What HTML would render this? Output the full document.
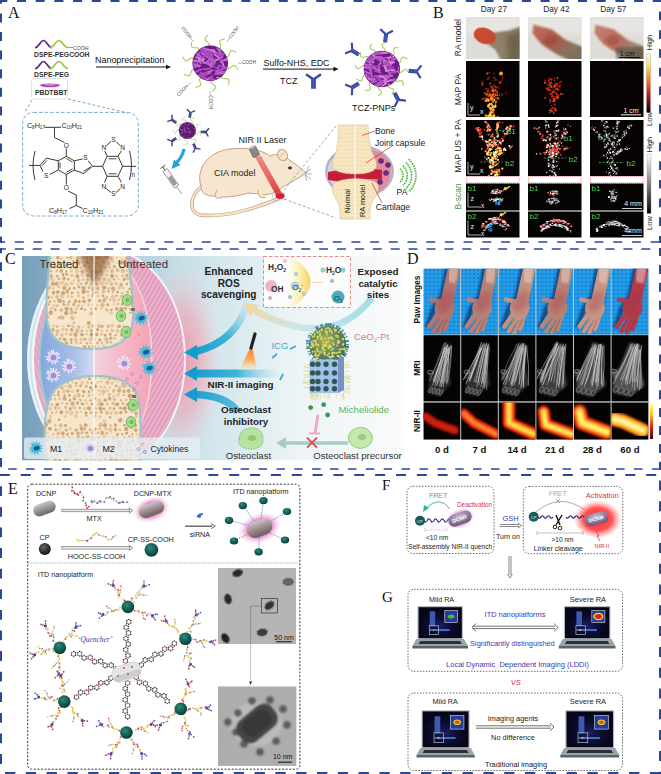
<!DOCTYPE html>
<html><head><meta charset="utf-8"><style>
html,body{margin:0;padding:0;background:#fff;}
body{width:661px;height:774px;overflow:hidden;position:relative;}
svg{position:absolute;left:0;top:0;display:block;}
</style></head><body>
<svg width="661" height="774" viewBox="0 0 661 774">
<defs>
<filter id="blur05" x="-20%" y="-20%" width="140%" height="140%"><feGaussianBlur stdDeviation="0.5"/></filter>
<filter id="blur1" x="-50%" y="-50%" width="200%" height="200%"><feGaussianBlur stdDeviation="1.2"/></filter>
<filter id="blur2" x="-50%" y="-50%" width="200%" height="200%"><feGaussianBlur stdDeviation="2.5"/></filter>
<filter id="blur4" x="-50%" y="-50%" width="200%" height="200%"><feGaussianBlur stdDeviation="4"/></filter>
<filter id="blur8" x="-50%" y="-50%" width="200%" height="200%"><feGaussianBlur stdDeviation="8"/></filter>
<clipPath id="sph41"><circle cx="210.2" cy="63.2" r="17.3"/></clipPath>
<clipPath id="sph42"><circle cx="381.8" cy="69" r="17.7"/></clipPath>
<clipPath id="sphsmall"><circle cx="187.3" cy="130.5" r="8.6"/></clipPath>
<linearGradient id="beam" x1="0" y1="0" x2="0" y2="1"><stop offset="0" stop-color="#e86060" stop-opacity="0.8"/><stop offset="1" stop-color="#d81e1e"/></linearGradient>
<pattern id="bonedots" width="4" height="4" patternUnits="userSpaceOnUse"><rect width="4" height="4" fill="#f8e8c2"/><circle cx="1" cy="1" r="0.45" fill="#b89a5a"/><circle cx="3" cy="2.6" r="0.35" fill="#c8aa6a"/></pattern>
<clipPath id="cph0"><rect x="466" y="17" width="53.5" height="42"/></clipPath>
<clipPath id="cpa0"><rect x="466" y="61" width="53.5" height="56"/></clipPath>
<clipPath id="cpu0"><rect x="466" y="120" width="53.5" height="56"/></clipPath>
<clipPath id="cb10"><rect x="466" y="183.5" width="53.5" height="27"/></clipPath>
<clipPath id="cb20"><rect x="466" y="211.5" width="53.5" height="26"/></clipPath>
<clipPath id="cph1"><rect x="528" y="17" width="53.5" height="42"/></clipPath>
<clipPath id="cpa1"><rect x="528" y="61" width="53.5" height="56"/></clipPath>
<clipPath id="cpu1"><rect x="528" y="120" width="53.5" height="56"/></clipPath>
<clipPath id="cb11"><rect x="528" y="183.5" width="53.5" height="27"/></clipPath>
<clipPath id="cb21"><rect x="528" y="211.5" width="53.5" height="26"/></clipPath>
<clipPath id="cph2"><rect x="590" y="17" width="53.5" height="42"/></clipPath>
<clipPath id="cpa2"><rect x="590" y="61" width="53.5" height="56"/></clipPath>
<clipPath id="cpu2"><rect x="590" y="120" width="53.5" height="56"/></clipPath>
<clipPath id="cb12"><rect x="590" y="183.5" width="53.5" height="27"/></clipPath>
<clipPath id="cb22"><rect x="590" y="211.5" width="53.5" height="26"/></clipPath>
<linearGradient id="pawg2" gradientUnits="objectBoundingBox" x1="0" y1="0" x2="1" y2="1"><stop offset="0" stop-color="#c07060"/><stop offset="0.45" stop-color="#a85a48"/><stop offset="0.7" stop-color="#8a7262"/><stop offset="1" stop-color="#7a6a58"/></linearGradient>
<linearGradient id="pawg3" gradientUnits="objectBoundingBox" x1="0" y1="0" x2="1" y2="1"><stop offset="0" stop-color="#c88478"/><stop offset="0.45" stop-color="#b86a5a"/><stop offset="0.7" stop-color="#9a8a7a"/><stop offset="1" stop-color="#7a6c5a"/></linearGradient>
<linearGradient id="cbhot" x1="0" y1="0" x2="0" y2="1"><stop offset="0" stop-color="#fffbe6"/><stop offset="0.2" stop-color="#f8e060"/><stop offset="0.45" stop-color="#f07828"/><stop offset="0.7" stop-color="#b41e1e"/><stop offset="1" stop-color="#0a0000"/></linearGradient>
<linearGradient id="cbgray" x1="0" y1="0" x2="0" y2="1"><stop offset="0" stop-color="#ffffff"/><stop offset="1" stop-color="#000000"/></linearGradient>
<clipPath id="cC"><rect x="22" y="256" width="382" height="204.5"/></clipPath>
<linearGradient id="cbg" x1="0" y1="0" x2="1" y2="0"><stop offset="0" stop-color="#779dba"/><stop offset="0.08" stop-color="#86abc6"/><stop offset="0.3" stop-color="#b4d2de"/><stop offset="0.5" stop-color="#d2e6ec"/><stop offset="0.72" stop-color="#edf4f6"/><stop offset="1" stop-color="#fafbfb"/></linearGradient>
<radialGradient id="pinkglow" cx="0.5" cy="0.5" r="0.5"><stop offset="0" stop-color="#f48aa0" stop-opacity="0.9"/><stop offset="0.55" stop-color="#f6a6b6" stop-opacity="0.55"/><stop offset="1" stop-color="#fbd0da" stop-opacity="0"/></radialGradient>
<pattern id="fiber" width="5" height="4" patternUnits="userSpaceOnUse" patternTransform="rotate(-60)"><rect width="5" height="4" fill="#f0b0c8"/><path d="M0,2 L5,2" stroke="#c080b0" stroke-width="0.8"/></pattern>
<pattern id="fiberL" width="5" height="4" patternUnits="userSpaceOnUse" patternTransform="rotate(70)"><rect width="5" height="4" fill="#e8b4cc"/><path d="M0,2 L5,2" stroke="#c48cb4" stroke-width="0.7"/></pattern>
<linearGradient id="synL" gradientUnits="userSpaceOnUse" x1="40" y1="0" x2="94" y2="0"><stop offset="0" stop-color="#84a8dc"/><stop offset="0.6" stop-color="#a8bce8"/><stop offset="1" stop-color="#d4dcf2"/></linearGradient>
<linearGradient id="synR" gradientUnits="userSpaceOnUse" x1="94" y1="0" x2="152" y2="0"><stop offset="0" stop-color="#f0d4e0"/><stop offset="0.4" stop-color="#f6bccb"/><stop offset="1" stop-color="#f4a2b6"/></linearGradient>
<clipPath id="cL"><rect x="0" y="250" width="94" height="220"/></clipPath>
<clipPath id="cR"><rect x="94" y="250" width="320" height="220"/></clipPath>
<clipPath id="ctb"><path d="M51,250 L127,250 C127,272 133,292 132,318 C131,342 112,348 92,348 C70,348 50,343 48,318 C46,292 51,272 51,250 Z"/></clipPath>
<clipPath id="cbb"><path d="M47,470 C45,432 44,405 56,390 C68,379 84,377 94,377 C110,377 127,380 135,393 C142,408 139,440 138,470 Z"/></clipPath>
<linearGradient id="arr1" gradientUnits="userSpaceOnUse" x1="250" y1="300" x2="190" y2="352"><stop offset="0" stop-color="#c8e8f0" stop-opacity="0.3"/><stop offset="0.5" stop-color="#40b4d8"/><stop offset="1" stop-color="#149ccc"/></linearGradient>
<linearGradient id="arr2" gradientUnits="userSpaceOnUse" x1="276" y1="0" x2="190" y2="0"><stop offset="0" stop-color="#c8e8f0" stop-opacity="0.4"/><stop offset="0.45" stop-color="#40b4d8"/><stop offset="1" stop-color="#149ccc"/></linearGradient>
<linearGradient id="arr3" gradientUnits="userSpaceOnUse" x1="240" y1="412" x2="190" y2="394"><stop offset="0" stop-color="#60c0e0"/><stop offset="1" stop-color="#149ccc"/></linearGradient>
<linearGradient id="arcg" gradientUnits="userSpaceOnUse" x1="370" y1="0" x2="245" y2="0"><stop offset="0" stop-color="#a8dce6"/><stop offset="0.6" stop-color="#cfe6e8"/><stop offset="1" stop-color="#f0d8a0"/></linearGradient>
<radialGradient id="ygl" cx="0.2" cy="0.5" r="0.8"><stop offset="0" stop-color="#fffdf0"/><stop offset="0.6" stop-color="#faeeb8"/><stop offset="1" stop-color="#f4dc80"/></radialGradient>
<linearGradient id="ygl2" gradientUnits="userSpaceOnUse" x1="284" y1="0" x2="312" y2="0"><stop offset="0" stop-color="#fffbe8" stop-opacity="0"/><stop offset="0.55" stop-color="#fbeeb0"/><stop offset="0.85" stop-color="#f6dc78"/><stop offset="1" stop-color="#eec440"/></linearGradient>
<radialGradient id="npg" cx="0.45" cy="0.4" r="0.6"><stop offset="0" stop-color="#a8b060"/><stop offset="1" stop-color="#3a6a6a"/></radialGradient>
<linearGradient id="flg" x1="0" y1="0" x2="0" y2="1"><stop offset="0" stop-color="#ff6a10"/><stop offset="0.6" stop-color="#ffa040" stop-opacity="0.8"/><stop offset="1" stop-color="#ffe0a0" stop-opacity="0.2"/></linearGradient>
<pattern id="bluedots" width="4" height="4" patternUnits="userSpaceOnUse"><rect width="4" height="4" fill="#229ce8"/><circle cx="2" cy="2" r="0.9" fill="#1478c4"/></pattern>
<clipPath id="cdp0"><rect x="423.6" y="268.7" width="36.6" height="65.80000000000001"/></clipPath>
<clipPath id="cdm0"><rect x="423.6" y="335.2" width="36.6" height="66.10000000000002"/></clipPath>
<clipPath id="cdn0"><rect x="423.6" y="402.6" width="36.6" height="36.89999999999998"/></clipPath>
<clipPath id="cdp1"><rect x="461.2" y="268.7" width="36.6" height="65.80000000000001"/></clipPath>
<clipPath id="cdm1"><rect x="461.2" y="335.2" width="36.6" height="66.10000000000002"/></clipPath>
<clipPath id="cdn1"><rect x="461.2" y="402.6" width="36.6" height="36.89999999999998"/></clipPath>
<clipPath id="cdp2"><rect x="498.8" y="268.7" width="36.6" height="65.80000000000001"/></clipPath>
<clipPath id="cdm2"><rect x="498.8" y="335.2" width="36.6" height="66.10000000000002"/></clipPath>
<clipPath id="cdn2"><rect x="498.8" y="402.6" width="36.6" height="36.89999999999998"/></clipPath>
<clipPath id="cdp3"><rect x="536.4" y="268.7" width="36.6" height="65.80000000000001"/></clipPath>
<clipPath id="cdm3"><rect x="536.4" y="335.2" width="36.6" height="66.10000000000002"/></clipPath>
<clipPath id="cdn3"><rect x="536.4" y="402.6" width="36.6" height="36.89999999999998"/></clipPath>
<clipPath id="cdp4"><rect x="574.0" y="268.7" width="36.6" height="65.80000000000001"/></clipPath>
<clipPath id="cdm4"><rect x="574.0" y="335.2" width="36.6" height="66.10000000000002"/></clipPath>
<clipPath id="cdn4"><rect x="574.0" y="402.6" width="36.6" height="36.89999999999998"/></clipPath>
<clipPath id="cdp5"><rect x="611.6" y="268.7" width="36.6" height="65.80000000000001"/></clipPath>
<clipPath id="cdm5"><rect x="611.6" y="335.2" width="36.6" height="66.10000000000002"/></clipPath>
<clipPath id="cdn5"><rect x="611.6" y="402.6" width="36.6" height="36.89999999999998"/></clipPath>
<linearGradient id="cbnir" x1="0" y1="0" x2="0" y2="1"><stop offset="0" stop-color="#ffffa0"/><stop offset="0.3" stop-color="#ffc828"/><stop offset="0.65" stop-color="#e61e14"/><stop offset="1" stop-color="#500000"/></linearGradient>
<linearGradient id="pillg" x1="0" y1="0" x2="0" y2="1"><stop offset="0" stop-color="#c8c8c8"/><stop offset="0.45" stop-color="#9a9a9a"/><stop offset="1" stop-color="#6a6a6a"/></linearGradient>
<linearGradient id="pillg2" x1="0" y1="0" x2="0" y2="1"><stop offset="0" stop-color="#d0c4c8"/><stop offset="0.45" stop-color="#a09090"/><stop offset="1" stop-color="#6a5e5e"/></linearGradient>
<radialGradient id="halo" cx="0.5" cy="0.5" r="0.5"><stop offset="0.55" stop-color="#e060b8" stop-opacity="0.75"/><stop offset="1" stop-color="#f4b0e0" stop-opacity="0"/></radialGradient>
<radialGradient id="tealb" cx="0.4" cy="0.35" r="0.65"><stop offset="0" stop-color="#2a8a7a"/><stop offset="1" stop-color="#083e38"/></radialGradient>
<radialGradient id="blackb" cx="0.4" cy="0.35" r="0.65"><stop offset="0" stop-color="#666"/><stop offset="1" stop-color="#111"/></radialGradient>
<filter id="temn" x="0" y="0" width="1" height="1"><feTurbulence type="fractalNoise" baseFrequency="0.9" numOctaves="2" seed="4"/><feColorMatrix type="matrix" values="0 0 0 0 0.5  0 0 0 0 0.5  0 0 0 0 0.5  0.33 0.33 0.33 0 -0.2"/></filter>
<clipPath id="ctem2"><rect x="218" y="686.5" width="78.3" height="79.4"/></clipPath>
<radialGradient id="dcnrg" cx="0.5" cy="0.3" r="0.7"><stop offset="0" stop-color="#c8b8d0"/><stop offset="1" stop-color="#6a5878"/></radialGradient>
<radialGradient id="pinkhalo" cx="0.5" cy="0.5" r="0.5"><stop offset="0.5" stop-color="#c868b8" stop-opacity="0.8"/><stop offset="1" stop-color="#e0a0d8" stop-opacity="0"/></radialGradient>
<radialGradient id="redglow" cx="0.5" cy="0.5" r="0.5"><stop offset="0" stop-color="#ff2a2a"/><stop offset="0.6" stop-color="#ff4040" stop-opacity="0.9"/><stop offset="1" stop-color="#ff8080" stop-opacity="0"/></radialGradient>
<radialGradient id="scr417606" cx="0.5" cy="0.6" r="0.6"><stop offset="0" stop-color="#1e2270" stop-opacity="0.9"/><stop offset="1" stop-color="#06061a" stop-opacity="0"/></radialGradient>
<radialGradient id="scr563606" cx="0.5" cy="0.6" r="0.6"><stop offset="0" stop-color="#1e2270" stop-opacity="0.9"/><stop offset="1" stop-color="#06061a" stop-opacity="0"/></radialGradient>
<radialGradient id="scr421710" cx="0.5" cy="0.6" r="0.6"><stop offset="0" stop-color="#1e2270" stop-opacity="0.9"/><stop offset="1" stop-color="#06061a" stop-opacity="0"/></radialGradient>
<radialGradient id="scr565710" cx="0.5" cy="0.6" r="0.6"><stop offset="0" stop-color="#1e2270" stop-opacity="0.9"/><stop offset="1" stop-color="#06061a" stop-opacity="0"/></radialGradient>
</defs>
<line x1="0" y1="1" x2="661" y2="1" stroke="#2a4898" stroke-width="2" stroke-dasharray="9 9.7" stroke-dashoffset="1.7"/>
<line x1="0" y1="242" x2="661" y2="242" stroke="#2a4898" stroke-width="1.7" stroke-dasharray="9 9.7" stroke-dashoffset="3.9"/>
<line x1="1" y1="0" x2="1" y2="243" stroke="#2a4898" stroke-width="2" stroke-dasharray="9 9.6" stroke-dashoffset="5.2"/>
<line x1="660" y1="0" x2="660" y2="243" stroke="#2a4898" stroke-width="2" stroke-dasharray="8.7 10" stroke-dashoffset="7.1"/>
<line x1="0" y1="249" x2="661" y2="249" stroke="#2a4898" stroke-width="1.7" stroke-dasharray="9 8.9" stroke-dashoffset="3.1"/>
<line x1="0" y1="469" x2="661" y2="469" stroke="#2a4898" stroke-width="1.7" stroke-dasharray="8.5 9.38" stroke-dashoffset="9.68"/>
<line x1="1" y1="248" x2="1" y2="470" stroke="#2a4898" stroke-width="2" stroke-dasharray="8.8 9" stroke-dashoffset="3.5"/>
<line x1="660" y1="248" x2="660" y2="470" stroke="#2a4898" stroke-width="2" stroke-dasharray="9 8.9" stroke-dashoffset="1.0"/>
<line x1="0" y1="475" x2="661" y2="475" stroke="#2a4898" stroke-width="1.8" stroke-dasharray="10 10.85" stroke-dashoffset="0.15"/>
<line x1="0" y1="773" x2="661" y2="773" stroke="#2a4898" stroke-width="2" stroke-dasharray="10.3 10.5" stroke-dashoffset="15.8"/>
<line x1="1" y1="474" x2="1" y2="774" stroke="#2a4898" stroke-width="2" stroke-dasharray="9.8 10.8" stroke-dashoffset="8.3"/>
<line x1="660" y1="474" x2="660" y2="774" stroke="#2a4898" stroke-width="2" stroke-dasharray="10 10.8" stroke-dashoffset="14.3"/>
<text x="8" y="18" font-size="16" fill="#111" font-weight="normal" text-anchor="start" font-family='"Liberation Serif", serif'  style="">A</text>
<text x="433" y="18" font-size="16" fill="#111" font-weight="normal" text-anchor="start" font-family='"Liberation Serif", serif'  style="">B</text>
<text x="5" y="264" font-size="16" fill="#111" font-weight="normal" text-anchor="start" font-family='"Liberation Serif", serif'  style="">C</text>
<text x="407" y="263.5" font-size="16" fill="#111" font-weight="normal" text-anchor="start" font-family='"Liberation Serif", serif'  style="">D</text>
<text x="8" y="494" font-size="16" fill="#111" font-weight="normal" text-anchor="start" font-family='"Liberation Serif", serif'  style="">E</text>
<text x="382" y="490" font-size="15" fill="#111" font-weight="normal" text-anchor="start" font-family='"Liberation Serif", serif'  style="">F</text>
<text x="382" y="602" font-size="15" fill="#111" font-weight="normal" text-anchor="start" font-family='"Liberation Serif", serif'  style="">G</text>
<path d="M35,47.5 C39.25,47.5 40.1,40.5 43.5,40.5 C46.9,40.5 47.75,47.5 52,47.5" stroke="#5a2a8a" stroke-width="1.7" fill="none"/>
<path d="M50,47.5 C54.5,47.5 55.4,40.5 59.0,40.5 C62.6,40.5 63.5,47.5 68,47.5" stroke="#96c83c" stroke-width="1.7" fill="none"/>
<path d="M68,47.5 L73,47.5" stroke="#555" stroke-width="0.6"/>
<text x="73" y="49.5" font-size="5.2" fill="#444" font-weight="normal" text-anchor="start" font-family='"Liberation Sans", sans-serif'  style="">COOH</text>
<text x="34" y="56.5" font-size="6.8" fill="#333" font-weight="bold" text-anchor="start" font-family='"Liberation Sans", sans-serif'  style="">DSPE-PEGCOOH</text>
<path d="M35,68.5 C39.25,68.5 40.1,61.5 43.5,61.5 C46.9,61.5 47.75,68.5 52,68.5" stroke="#5a2a8a" stroke-width="1.7" fill="none"/>
<path d="M50,68.5 C54.5,68.5 55.4,61.5 59.0,61.5 C62.6,61.5 63.5,68.5 68,68.5" stroke="#96c83c" stroke-width="1.7" fill="none"/>
<text x="34" y="77" font-size="6.8" fill="#333" font-weight="bold" text-anchor="start" font-family='"Liberation Sans", sans-serif'  style="">DSPE-PEG</text>
<rect x="31.5" y="78.5" width="36" height="20.5" rx="3" fill="none" stroke="#9ab0c0" stroke-width="0.6" stroke-dasharray="1.5 1"/>
<ellipse cx="50" cy="85.3" rx="10" ry="1.9" fill="#b04ab8"/>
<ellipse cx="50" cy="84.8" rx="6" ry="0.8" fill="#d890d8"/>
<text x="35" y="95.3" font-size="6.8" fill="#333" font-weight="bold" text-anchor="start" font-family='"Liberation Sans", sans-serif'  style="">PBDTBBT</text>
<text x="95" y="63" font-size="8.95" fill="#111" font-weight="normal" text-anchor="start" font-family='"Liberation Sans", sans-serif'  style="">Nanoprecipitation</text>
<line x1="96" y1="67" x2="168" y2="67" stroke="#111" stroke-width="1"/>
<polygon points="171,67 166,64.7 166,69.3" fill="#111"/>
<polyline points="226.0,66.0 227.2,67.7 228.6,68.4 230.2,67.8 232.0,66.4 233.7,65.5 235.1,65.8 236.4,67.3 237.6,69.2" stroke="#a8cc60" stroke-width="1.1" fill="none" stroke-linecap="round"/>
<polyline points="221.3,74.7 221.3,76.8 222.0,78.2 223.7,78.7 225.9,78.6 227.9,78.8 228.8,79.9 228.9,81.9 228.8,84.2" stroke="#a8cc60" stroke-width="1.1" fill="none" stroke-linecap="round"/>
<polyline points="212.4,79.0 211.1,80.7 210.9,82.3 212.0,83.6 213.9,84.9 215.3,86.2 215.4,87.7 214.4,89.4 212.9,91.1" stroke="#a8cc60" stroke-width="1.1" fill="none" stroke-linecap="round"/>
<polyline points="202.7,77.3 200.6,77.9 199.5,79.0 199.7,80.8 200.4,82.9 200.8,84.8 200.0,86.1 198.2,86.8 196.0,87.4" stroke="#a8cc60" stroke-width="1.1" fill="none" stroke-linecap="round"/>
<polyline points="195.8,70.2 193.8,69.5 192.3,69.8 191.3,71.2 190.7,73.4 189.9,75.2 188.5,75.8 186.6,75.2 184.5,74.4" stroke="#a8cc60" stroke-width="1.1" fill="none" stroke-linecap="round"/>
<polyline points="194.4,60.4 193.2,58.7 191.8,58.0 190.2,58.6 188.4,60.0 186.7,60.9 185.3,60.6 184.0,59.1 182.8,57.2" stroke="#a8cc60" stroke-width="1.1" fill="none" stroke-linecap="round"/>
<polyline points="199.1,51.7 199.1,49.6 198.4,48.2 196.7,47.7 194.5,47.8 192.5,47.6 191.6,46.5 191.5,44.5 191.6,42.2" stroke="#a8cc60" stroke-width="1.1" fill="none" stroke-linecap="round"/>
<polyline points="208.0,47.4 209.3,45.7 209.5,44.1 208.4,42.8 206.5,41.5 205.1,40.2 205.0,38.7 206.0,37.0 207.5,35.3" stroke="#a8cc60" stroke-width="1.1" fill="none" stroke-linecap="round"/>
<polyline points="217.7,49.1 219.8,48.5 220.9,47.4 220.7,45.6 220.0,43.5 219.6,41.6 220.4,40.3 222.2,39.6 224.4,39.0" stroke="#a8cc60" stroke-width="1.1" fill="none" stroke-linecap="round"/>
<polyline points="224.6,56.2 226.6,56.9 228.1,56.6 229.1,55.2 229.7,53.0 230.5,51.2 231.9,50.6 233.8,51.2 235.9,52.0" stroke="#a8cc60" stroke-width="1.1" fill="none" stroke-linecap="round"/>
<line x1="226.8" y1="41.9" x2="229.9" y2="38.0" stroke="#666" stroke-width="0.5"/>
<text x="0" y="0" transform="translate(229.9,38.0) rotate(-52)" font-size="4.6" fill="#444" text-anchor="start" dominant-baseline="middle" font-family='"Liberation Sans", sans-serif'>COOH</text>
<line x1="238.2" y1="63.2" x2="242.2" y2="63.2" stroke="#666" stroke-width="0.5"/>
<text x="0" y="0" transform="translate(242.2,63.2) rotate(0)" font-size="4.6" fill="#444" text-anchor="start" dominant-baseline="middle" font-family='"Liberation Sans", sans-serif'>COOH</text>
<line x1="210.2" y1="91.2" x2="210.2" y2="95.2" stroke="#666" stroke-width="0.5"/>
<text x="0" y="0" transform="translate(210.2,95.2) rotate(90)" font-size="4.6" fill="#444" text-anchor="start" dominant-baseline="middle" font-family='"Liberation Sans", sans-serif'>COOH</text>
<line x1="193.6" y1="41.9" x2="190.5" y2="38.0" stroke="#666" stroke-width="0.5"/>
<text x="0" y="0" transform="translate(190.5,38.0) rotate(-308)" font-size="4.6" fill="#444" text-anchor="end" dominant-baseline="middle" font-family='"Liberation Sans", sans-serif'>COOH</text>
<line x1="191.1" y1="82.3" x2="187.6" y2="85.8" stroke="#666" stroke-width="0.5"/>
<text x="0" y="0" transform="translate(187.6,85.8) rotate(-45)" font-size="4.6" fill="#444" text-anchor="end" dominant-baseline="middle" font-family='"Liberation Sans", sans-serif'>COOH</text>
<circle cx="210.2" cy="63.2" r="17.3" fill="#6e1c84" stroke="#5a1070" stroke-width="0.9"/>
<g clip-path="url(#sph41)">
<path d="M203.7 52.6l4.7 2.6M199.9 75.5l5.2 3.0M203.7 81.7l6.9 -4.3M196.9 57.6l6.9 4.3M215.6 60.6l6.6 -3.7M227.7 72.8l-2.2 6.9M216.5 72.0l6.1 1.2M208.9 50.0l7.5 2.9M207.5 53.5l6.9 -1.9M222.0 61.4l2.4 6.9M217.1 77.7l7.8 2.7M221.7 72.2l6.5 3.9M214.4 54.4l4.5 3.1M223.0 71.9l5.5 -0.3M218.4 78.3l5.5 -1.1M197.9 61.1l6.2 -1.7M196.0 57.4l7.7 1.0M208.5 49.9l6.0 0.4M202.4 53.7l4.3 2.4M192.0 59.6l5.3 2.0" stroke="#d484dc" stroke-width="1.75" stroke-linecap="round" fill="none"/>
<path d="M211.7 55.5l0.6 7.4M205.5 50.5l5.2 1.4M194.0 67.1l6.1 -1.7M205.4 73.8l5.0 -0.6M192.5 78.5l6.2 0.2M220.7 69.8l5.4 -2.5M220.7 62.0l6.4 -3.5M213.3 59.2l-2.5 7.8M203.2 62.8l8.0 0.8M192.6 64.9l4.9 -0.8M215.1 74.0l7.8 -0.6M195.9 60.3l5.0 2.8M221.0 60.5l8.1 -0.5M218.6 49.9l5.8 -3.8M207.5 64.2l6.0 2.3M215.6 59.3l-1.5 4.9M206.1 62.4l4.9 -3.1M207.0 72.3l5.4 -1.9M197.2 51.9l0.4 5.4M191.9 63.8l7.6 2.7M198.0 53.4l3.6 4.4M206.6 56.9l5.9 2.0M197.7 49.7l6.3 -0.7M200.8 46.7l5.6 2.4M223.4 79.7l4.6 -3.1M217.4 48.2l4.1 6.3M205.6 48.8l5.6 1.3" stroke="#c468d4" stroke-width="1.75" stroke-linecap="round" fill="none"/>
<path d="M215.4 70.7l5.2 1.1M214.3 80.4l4.9 -1.1M203.7 69.3l6.5 -0.8M218.7 65.7l-1.8 7.6M219.8 45.2l0.9 7.1M216.3 72.3l5.1 -2.2M202.1 50.9l4.3 5.8M196.6 71.5l4.9 -2.2M191.2 73.5l7.1 1.8M191.9 72.3l4.0 4.2M210.5 54.9l-2.7 7.7M192.0 77.8l7.9 -1.7M216.4 53.1l6.2 2.0M209.7 78.7l7.5 3.2M218.3 72.2l5.3 -3.6M207.0 61.1l5.9 -3.1M189.9 70.0l6.6 2.1M222.2 72.3l5.5 -0.4M208.2 63.9l4.4 -2.6" stroke="#b458c8" stroke-width="1.75" stroke-linecap="round" fill="none"/>
<path d="M223.1 53.4l6.1 1.8M205.0 54.0l8.2 0.5M219.0 65.4l6.9 3.4M200.0 74.6l6.9 -2.3M198.2 53.8l5.6 -3.2M197.6 77.5l6.0 -2.8M202.9 52.0l6.6 0.7M200.4 72.2l6.0 3.1M201.1 76.0l5.4 2.4M212.3 75.6l-2.3 5.3M199.1 46.9l6.4 4.4M206.7 54.7l5.5 2.5M190.5 51.3l6.3 -0.3M199.0 76.9l7.7 -2.8M215.8 67.4l6.0 3.4M192.7 58.4l1.6 5.5M209.5 77.3l6.6 3.2M217.7 55.4l5.4 0.2M206.5 51.4l5.1 2.2M191.9 52.5l5.8 -0.4M201.3 58.1l7.2 -4.2M205.2 51.2l7.6 1.4M221.3 52.7l-1.0 7.5" stroke="#a848bc" stroke-width="1.75" stroke-linecap="round" fill="none"/>
</g>
<text x="263.5" y="65.8" font-size="8.95" fill="#111" font-weight="normal" text-anchor="start" font-family='"Liberation Sans", sans-serif'  style="">Sulfo-NHS, EDC</text>
<line x1="263" y1="69.1" x2="335" y2="69.1" stroke="#111" stroke-width="1"/>
<polygon points="338.5,69.1 333.5,66.8 333.5,71.4" fill="#111"/>
<text x="280" y="84" font-size="8.95" fill="#111" font-weight="normal" text-anchor="start" font-family='"Liberation Sans", sans-serif'  style="">TCZ</text>
<g transform="translate(313.5,88.7) rotate(0) scale(1.0)" stroke="#3a4ea8" stroke-width="2.6" fill="none" stroke-linecap="butt"><path d="M-1.1,0 L-1.1,-10 L-7.5,-14.5"/><path d="M1.1,0 L1.1,-10 L7.5,-14.5"/></g>
<polyline points="397.7,70.4 399.0,72.0 400.3,72.6 401.8,71.8 403.3,70.3 404.7,69.2 406.1,69.3 407.4,70.8 408.6,72.5" stroke="#a8cc60" stroke-width="1.1" fill="none" stroke-linecap="round"/>
<polyline points="394.9,78.2 395.2,80.2 396.0,81.4 397.7,81.4 399.8,80.8 401.6,80.6 402.7,81.4 403.1,83.3 403.2,85.4" stroke="#a8cc60" stroke-width="1.1" fill="none" stroke-linecap="round"/>
<polyline points="388.6,83.5 387.8,85.4 387.9,86.8 389.4,87.7 391.4,88.2 393.1,89.0 393.7,90.2 393.1,92.0 392.1,94.0" stroke="#a8cc60" stroke-width="1.1" fill="none" stroke-linecap="round"/>
<polyline points="380.4,84.9 378.8,86.2 378.2,87.5 379.0,89.0 380.5,90.5 381.6,91.9 381.5,93.3 380.0,94.6 378.3,95.8" stroke="#a8cc60" stroke-width="1.1" fill="none" stroke-linecap="round"/>
<polyline points="372.6,82.1 370.6,82.4 369.4,83.2 369.4,84.9 370.0,87.0 370.2,88.8 369.4,89.9 367.5,90.3 365.4,90.4" stroke="#a8cc60" stroke-width="1.1" fill="none" stroke-linecap="round"/>
<polyline points="367.3,75.8 365.4,75.0 364.0,75.1 363.1,76.6 362.6,78.6 361.8,80.3 360.6,80.9 358.8,80.3 356.8,79.3" stroke="#a8cc60" stroke-width="1.1" fill="none" stroke-linecap="round"/>
<polyline points="365.9,67.6 364.6,66.0 363.3,65.4 361.8,66.2 360.3,67.7 358.9,68.8 357.5,68.7 356.2,67.2 355.0,65.5" stroke="#a8cc60" stroke-width="1.1" fill="none" stroke-linecap="round"/>
<polyline points="368.7,59.8 368.4,57.8 367.6,56.6 365.9,56.6 363.8,57.2 362.0,57.4 360.9,56.6 360.5,54.7 360.4,52.6" stroke="#a8cc60" stroke-width="1.1" fill="none" stroke-linecap="round"/>
<polyline points="375.0,54.5 375.8,52.6 375.7,51.2 374.2,50.3 372.2,49.8 370.5,49.0 369.9,47.8 370.5,46.0 371.5,44.0" stroke="#a8cc60" stroke-width="1.1" fill="none" stroke-linecap="round"/>
<polyline points="383.2,53.1 384.8,51.8 385.4,50.5 384.6,49.0 383.1,47.5 382.0,46.1 382.1,44.7 383.6,43.4 385.3,42.2" stroke="#a8cc60" stroke-width="1.1" fill="none" stroke-linecap="round"/>
<polyline points="391.0,55.9 393.0,55.6 394.2,54.8 394.2,53.1 393.6,51.0 393.4,49.2 394.2,48.1 396.1,47.7 398.2,47.6" stroke="#a8cc60" stroke-width="1.1" fill="none" stroke-linecap="round"/>
<polyline points="396.3,62.2 398.2,63.0 399.6,62.9 400.5,61.4 401.0,59.4 401.8,57.7 403.0,57.1 404.8,57.7 406.8,58.7" stroke="#a8cc60" stroke-width="1.1" fill="none" stroke-linecap="round"/>
<circle cx="381.8" cy="69" r="17.7" fill="#6e1c84" stroke="#5a1070" stroke-width="0.9"/>
<g clip-path="url(#sph42)">
<path d="M383.9 53.2l5.6 -2.0M386.2 76.3l6.4 -0.4M364.7 65.3l6.1 -1.2M382.1 77.1l4.8 -1.7M368.9 88.2l5.9 -3.2M366.3 77.1l6.5 2.3M369.5 61.5l6.1 -3.4M379.2 64.1l-0.3 7.5M366.1 56.3l5.9 2.9M363.1 70.6l6.1 2.8M376.9 86.5l6.8 -4.7M373.3 55.9l7.7 1.9M370.8 70.9l1.1 5.8M373.2 67.8l6.7 3.0M365.8 84.2l4.7 3.0M384.3 59.8l1.9 7.5M373.4 54.5l7.2 -1.5M368.1 79.9l7.4 -0.3M393.3 79.7l1.1 8.4M380.4 57.2l0.3 6.3M375.6 76.0l5.1 1.2M389.5 58.4l-1.5 7.2" stroke="#c468d4" stroke-width="1.75" stroke-linecap="round" fill="none"/>
<path d="M382.5 53.3l5.0 -1.7M393.7 78.9l1.4 6.1M374.7 57.2l5.1 3.0M381.6 57.0l2.9 5.9M374.2 53.3l8.2 0.7M383.2 65.5l8.2 -0.4M395.5 79.8l6.0 -3.1M398.8 67.5l-0.1 5.4M370.5 83.3l6.1 -2.2M365.3 58.9l6.1 0.7M367.4 83.0l-3.1 7.3M391.9 52.6l4.7 2.2M367.7 56.1l-2.0 5.5M366.1 66.7l7.4 0.6M373.5 86.6l7.1 -4.5M388.7 60.5l-1.9 6.7M366.0 74.5l-2.1 5.8M374.3 76.6l-1.5 5.1M371.8 80.8l-1.3 6.0M374.9 71.0l5.7 1.5M380.1 58.6l7.2 -1.1M366.3 82.3l2.3 5.3M391.8 72.2l7.4 -1.1M382.7 75.4l6.2 2.6M393.0 54.5l5.4 -0.8M376.5 51.7l6.0 1.3M368.5 56.0l7.1 -4.4M368.7 53.2l4.9 -2.4M393.2 50.9l0.1 8.4" stroke="#b458c8" stroke-width="1.75" stroke-linecap="round" fill="none"/>
<path d="M387.9 57.8l6.2 -1.7M385.8 70.9l8.3 -1.2M384.7 82.4l7.3 -2.5M386.7 70.7l7.6 -0.7M379.5 87.9l6.6 -4.5M388.6 64.6l5.5 -2.4M384.4 66.1l1.8 5.0M362.1 77.7l4.5 -2.6M369.9 69.6l5.6 -3.0M365.4 61.4l8.3 0.8M382.0 52.2l5.1 1.0M393.6 59.7l7.1 -2.4M385.2 67.7l5.1 6.5M364.9 56.0l6.6 -1.9M365.3 64.2l4.2 4.2M380.2 82.3l6.4 -2.9M365.8 55.2l-1.6 5.9M386.6 62.3l6.0 -0.7M388.5 84.5l7.4 1.5M383.8 61.7l5.1 -1.4M379.7 75.5l6.9 3.6M363.4 68.0l7.4 -3.0M372.7 51.7l0.6 5.0" stroke="#d484dc" stroke-width="1.75" stroke-linecap="round" fill="none"/>
<path d="M365.9 56.5l7.3 0.9M388.2 62.0l2.4 6.9M363.2 61.0l6.9 -2.5M362.8 78.9l6.9 -3.6M367.2 68.8l5.7 -0.7M360.3 63.7l7.7 2.8M394.3 58.7l5.2 2.0M383.1 63.9l5.7 -4.0M388.9 73.0l6.1 -0.4M361.9 58.6l6.0 2.8M383.7 50.3l7.2 2.5M377.2 77.6l6.1 4.1M387.6 69.0l5.6 -1.8M363.0 66.1l6.8 -0.7M375.0 75.5l5.7 6.0M380.1 81.8l1.8 5.7M370.4 59.2l2.4 7.3M391.4 54.1l0.5 6.0M373.3 66.4l6.3 0.0" stroke="#a848bc" stroke-width="1.75" stroke-linecap="round" fill="none"/>
</g>
<g transform="translate(385.1,42.2) rotate(7) scale(0.85)" stroke="#3a4ea8" stroke-width="2.6" fill="none" stroke-linecap="butt"><path d="M-1.1,0 L-1.1,-10 L-7.5,-14.5"/><path d="M1.1,0 L1.1,-10 L7.5,-14.5"/></g>
<g transform="translate(358.9,54.7) rotate(-58) scale(0.85)" stroke="#3a4ea8" stroke-width="2.6" fill="none" stroke-linecap="butt"><path d="M-1.1,0 L-1.1,-10 L-7.5,-14.5"/><path d="M1.1,0 L1.1,-10 L7.5,-14.5"/></g>
<g transform="translate(408.7,70.9) rotate(94) scale(0.85)" stroke="#3a4ea8" stroke-width="2.6" fill="none" stroke-linecap="butt"><path d="M-1.1,0 L-1.1,-10 L-7.5,-14.5"/><path d="M1.1,0 L1.1,-10 L7.5,-14.5"/></g>
<g transform="translate(358.9,83.3) rotate(-122) scale(0.85)" stroke="#3a4ea8" stroke-width="2.6" fill="none" stroke-linecap="butt"><path d="M-1.1,0 L-1.1,-10 L-7.5,-14.5"/><path d="M1.1,0 L1.1,-10 L7.5,-14.5"/></g>
<g transform="translate(394.5,92.8) rotate(152) scale(0.85)" stroke="#3a4ea8" stroke-width="2.6" fill="none" stroke-linecap="butt"><path d="M-1.1,0 L-1.1,-10 L-7.5,-14.5"/><path d="M1.1,0 L1.1,-10 L7.5,-14.5"/></g>
<text x="352" y="111" font-size="8.95" fill="#111" font-weight="normal" text-anchor="start" font-family='"Liberation Sans", sans-serif'  style="">TCZ-PNPs</text>
<path d="M32,100 L25,112" stroke="#66a4cc" stroke-width="0.9" stroke-dasharray="3 2"/>
<path d="M68,99 L128,113" stroke="#66a4cc" stroke-width="0.9" stroke-dasharray="3 2"/>
<rect x="22.6" y="112.4" width="115.7" height="103.6" rx="11" fill="none" stroke="#66a4cc" stroke-width="0.9" stroke-dasharray="3.5 2"/>
<polyline points="66.3,156.3 74.3,160.8 74.3,170 66.3,174.5 58.3,170 58.3,160.8 66.3,156.3" fill="none" stroke="#222" stroke-width="0.9"/>
<line x1="60" y1="162.5" x2="60" y2="168.3" stroke="#222" stroke-width="0.8"/>
<line x1="66.3" y1="158.5" x2="72.5" y2="162" stroke="#222" stroke-width="0.8"/>
<line x1="66.3" y1="172.3" x2="72.5" y2="168.8" stroke="#222" stroke-width="0.8"/>
<polyline points="58.3,160.8 46.3,158.1 40,165.4" fill="none" stroke="#222" stroke-width="0.9"/>
<polyline points="40,165.4 43,171.5" fill="none" stroke="#222" stroke-width="0.9"/>
<polyline points="49.5,174.5 58.3,170" fill="none" stroke="#222" stroke-width="0.9"/>
<line x1="47" y1="160.3" x2="42" y2="165.8" stroke="#222" stroke-width="0.8"/>
<rect x="44.0" y="172.5" width="4.6" height="5.8" fill="#fff"/>
<text x="46.3" y="177.8" font-size="6.6" fill="#222" font-weight="normal" text-anchor="middle" font-family='"Liberation Sans", sans-serif'  style="">S</text>
<line x1="29" y1="165.4" x2="40" y2="165.4" stroke="#222" stroke-width="0.9"/>
<polyline points="74.3,160.8 82.5,159" fill="none" stroke="#222" stroke-width="0.9"/>
<polyline points="88,160.5 92.6,166.3 83.5,173.5 74.3,170" fill="none" stroke="#222" stroke-width="0.9"/>
<line x1="90.5" y1="167" x2="83.5" y2="171.3" stroke="#222" stroke-width="0.8"/>
<rect x="83.10000000000001" y="155.1" width="4.6" height="5.8" fill="#fff"/>
<text x="85.4" y="160.4" font-size="6.6" fill="#222" font-weight="normal" text-anchor="middle" font-family='"Liberation Sans", sans-serif'  style="">S</text>
<line x1="92.6" y1="166.3" x2="102.6" y2="166.3" stroke="#222" stroke-width="0.9"/>
<polyline points="102.6,166.3 107.1,156.3 118,156.3 122.6,166.3 118,176.3 107.1,176.3 102.6,166.3" fill="none" stroke="#222" stroke-width="0.9"/>
<line x1="108.5" y1="158.8" x2="116.6" y2="158.8" stroke="#222" stroke-width="0.8"/>
<line x1="108.5" y1="173.8" x2="116.6" y2="173.8" stroke="#222" stroke-width="0.8"/>
<polyline points="107.1,156.3 104.5,150.5" fill="none" stroke="#222" stroke-width="0.9"/>
<polyline points="118,156.3 121.5,150.5" fill="none" stroke="#222" stroke-width="0.9"/>
<polyline points="106,146 111,141.5" fill="none" stroke="#222" stroke-width="0.9"/>
<polyline points="120.5,146 116,141.5" fill="none" stroke="#222" stroke-width="0.9"/>
<rect x="101.60000000000001" y="145.1" width="4.6" height="5.8" fill="#fff"/>
<text x="103.9" y="150.4" font-size="6.6" fill="#222" font-weight="normal" text-anchor="middle" font-family='"Liberation Sans", sans-serif'  style="">N</text>
<rect x="120.3" y="145.1" width="4.6" height="5.8" fill="#fff"/>
<text x="122.6" y="150.4" font-size="6.6" fill="#222" font-weight="normal" text-anchor="middle" font-family='"Liberation Sans", sans-serif'  style="">N</text>
<rect x="111.2" y="137" width="4.6" height="5.8" fill="#fff"/>
<text x="113.5" y="142.3" font-size="6.6" fill="#222" font-weight="normal" text-anchor="middle" font-family='"Liberation Sans", sans-serif'  style="">S</text>
<polyline points="107.1,176.3 104.5,182.5" fill="none" stroke="#222" stroke-width="0.9"/>
<polyline points="118,176.3 121.5,182.5" fill="none" stroke="#222" stroke-width="0.9"/>
<polyline points="106,188.5 111,192.5" fill="none" stroke="#222" stroke-width="0.9"/>
<polyline points="120.5,188.5 116,192.5" fill="none" stroke="#222" stroke-width="0.9"/>
<rect x="101.60000000000001" y="183.3" width="4.6" height="5.8" fill="#fff"/>
<text x="103.9" y="188.60000000000002" font-size="6.6" fill="#222" font-weight="normal" text-anchor="middle" font-family='"Liberation Sans", sans-serif'  style="">N</text>
<rect x="120.3" y="183.3" width="4.6" height="5.8" fill="#fff"/>
<text x="122.6" y="188.60000000000002" font-size="6.6" fill="#222" font-weight="normal" text-anchor="middle" font-family='"Liberation Sans", sans-serif'  style="">N</text>
<rect x="111.2" y="190.8" width="4.6" height="5.8" fill="#fff"/>
<text x="113.5" y="196.10000000000002" font-size="6.6" fill="#222" font-weight="normal" text-anchor="middle" font-family='"Liberation Sans", sans-serif'  style="">S</text>
<line x1="122.6" y1="166.3" x2="136.2" y2="166.3" stroke="#222" stroke-width="0.9"/>
<path d="M35,151 Q31,165.5 35,180" stroke="#222" stroke-width="0.9" fill="none"/>
<path d="M129.5,151 Q133.5,165.5 129.5,180" stroke="#222" stroke-width="0.9" fill="none"/>
<text x="131.5" y="177" font-size="6.4" fill="#222" font-weight="normal" text-anchor="start" font-family='"Liberation Sans", sans-serif'  style="">n</text>
<polyline points="66.3,156.3 66.3,148.5" fill="none" stroke="#222" stroke-width="0.9"/>
<rect x="64.0" y="142.2" width="4.6" height="5.8" fill="#fff"/>
<text x="66.3" y="147.5" font-size="6.6" fill="#222" font-weight="normal" text-anchor="middle" font-family='"Liberation Sans", sans-serif'  style="">O</text>
<polyline points="64.5,142.5 54.5,137.5 54.5,127.3" fill="none" stroke="#222" stroke-width="0.9"/>
<polyline points="44.5,127.3 54.5,127.3 61,127.3" fill="none" stroke="#222" stroke-width="0.9"/>
<polyline points="66.3,174.5 66.3,184.5" fill="none" stroke="#222" stroke-width="0.9"/>
<rect x="64.0" y="185" width="4.6" height="5.8" fill="#fff"/>
<text x="66.3" y="190.3" font-size="6.6" fill="#222" font-weight="normal" text-anchor="middle" font-family='"Liberation Sans", sans-serif'  style="">O</text>
<polyline points="68,191 76.3,195 76.3,205.5" fill="none" stroke="#222" stroke-width="0.9"/>
<polyline points="69.5,208.5 76.3,205.5 82.5,208.5" fill="none" stroke="#222" stroke-width="0.9"/>
<text x="26.9" y="127.8" font-size="7.2" fill="#222" font-weight="normal" text-anchor="start" font-family='"Liberation Sans", sans-serif'  style="">C<tspan font-size="4.6" dy="1.6">8</tspan><tspan dy="-1.6">H</tspan><tspan font-size="4.6" dy="1.6">17</tspan></text>
<text x="61.4" y="127.8" font-size="7.2" fill="#222" font-weight="normal" text-anchor="start" font-family='"Liberation Sans", sans-serif'  style="">C<tspan font-size="4.6" dy="1.6">10</tspan><tspan dy="-1.6">H</tspan><tspan font-size="4.6" dy="1.6">21</tspan></text>
<text x="49" y="212.5" font-size="7.2" fill="#222" font-weight="normal" text-anchor="start" font-family='"Liberation Sans", sans-serif'  style="">C<tspan font-size="4.6" dy="1.6">8</tspan><tspan dy="-1.6">H</tspan><tspan font-size="4.6" dy="1.6">17</tspan></text>
<text x="82.6" y="212.5" font-size="7.2" fill="#222" font-weight="normal" text-anchor="start" font-family='"Liberation Sans", sans-serif'  style="">C<tspan font-size="4.6" dy="1.6">10</tspan><tspan dy="-1.6">H</tspan><tspan font-size="4.6" dy="1.6">21</tspan></text>
<polyline points="195.0,132.6 195.4,134.2 196.0,134.9 196.9,134.2 198.1,132.8 199.1,131.8 199.8,132.0 200.2,133.5 200.5,135.3" stroke="#b8d890" stroke-width="0.8" fill="none" stroke-linecap="round"/>
<polyline points="191.9,137.1 191.1,138.5 191.1,139.4 192.3,139.5 194.1,139.2 195.6,139.1 195.9,139.7 195.3,141.1 194.4,142.6" stroke="#b8d890" stroke-width="0.8" fill="none" stroke-linecap="round"/>
<polyline points="186.6,138.5 185.0,139.1 184.5,139.8 185.4,140.6 187.0,141.5 188.1,142.4 188.0,143.1 186.6,143.7 184.9,144.3" stroke="#b8d890" stroke-width="0.8" fill="none" stroke-linecap="round"/>
<polyline points="181.6,136.2 180.0,135.6 179.2,135.8 179.3,137.0 180.0,138.7 180.3,140.1 179.7,140.6 178.3,140.2 176.6,139.6" stroke="#b8d890" stroke-width="0.8" fill="none" stroke-linecap="round"/>
<polyline points="179.3,131.2 178.5,129.7 177.7,129.4 177.0,130.4 176.4,132.1 175.8,133.4 175.0,133.4 174.1,132.1 173.3,130.5" stroke="#b8d890" stroke-width="0.8" fill="none" stroke-linecap="round"/>
<polyline points="180.7,125.9 181.0,124.2 180.7,123.4 179.5,123.8 177.9,124.7 176.6,125.3 176.0,124.8 176.2,123.3 176.5,121.5" stroke="#b8d890" stroke-width="0.8" fill="none" stroke-linecap="round"/>
<polyline points="185.2,122.8 186.5,121.7 186.7,120.8 185.7,120.3 183.9,120.0 182.5,119.6 182.3,118.9 183.4,117.8 184.8,116.7" stroke="#b8d890" stroke-width="0.8" fill="none" stroke-linecap="round"/>
<polyline points="190.7,123.2 192.4,123.2 193.1,122.7 192.6,121.7 191.4,120.3 190.6,119.1 191.0,118.4 192.5,118.3 194.3,118.3" stroke="#b8d890" stroke-width="0.8" fill="none" stroke-linecap="round"/>
<polyline points="194.6,127.1 195.9,128.2 196.7,128.3 197.0,127.1 197.0,125.3 197.2,123.9 197.9,123.6 199.1,124.5 200.5,125.6" stroke="#b8d890" stroke-width="0.8" fill="none" stroke-linecap="round"/>
<circle cx="187.3" cy="130.5" r="8.6" fill="#5c1c6c"/>
<g clip-path="url(#sphsmall)">
<path d="M189.5 134.9l-1.6 1.2M181.2 135.8l1.8 0.8M183.5 138.8l-0.2 2.0M183.7 132.4l2.0 0.0M187.0 127.2l0.1 2.0M181.5 126.1l-2.0 0.4M183.8 135.9l-0.8 1.8M190.0 124.1l-2.0 0.1M195.9 129.7l0.1 2.0M187.2 130.8l-0.3 2.0M184.8 135.6l-1.5 1.3" stroke="#8a3a9a" stroke-width="0.75" stroke-linecap="round" fill="none"/>
<path d="M190.0 131.0l-1.8 1.0M193.9 128.4l1.9 0.6M186.3 123.9l-2.0 0.2M182.1 125.4l-2.0 0.1M189.6 124.8l-2.0 0.2M184.9 131.9l2.0 0.1M191.0 132.7l-2.0 0.3M190.7 139.4l1.7 1.0M179.8 132.3l-1.9 0.5M178.9 130.4l-1.7 1.0M183.6 129.7l-2.0 0.0M184.0 126.4l0.2 2.0M180.3 136.3l-0.2 2.0M189.6 130.5l1.0 1.7" stroke="#9a50a8" stroke-width="0.75" stroke-linecap="round" fill="none"/>
<path d="M190.0 137.7l1.9 0.7M178.5 125.4l1.3 1.5M195.7 137.6l1.2 1.6M185.8 138.3l1.4 1.5M191.0 122.7l0.9 1.8M184.7 128.8l-0.3 2.0M191.9 138.2l-2.0 0.4M187.5 137.6l1.4 1.4M180.2 135.0l-1.6 1.2M179.0 138.5l1.9 0.6M187.5 128.0l1.8 0.9M194.9 131.3l1.1 1.7M182.6 132.2l-1.7 1.0M196.0 131.7l1.8 0.8M180.2 129.3l1.8 0.9" stroke="#b070c0" stroke-width="0.75" stroke-linecap="round" fill="none"/>
</g>
<g transform="translate(189.6,117.7) rotate(10) scale(0.55)" stroke="#3a4488" stroke-width="2.6" fill="none" stroke-linecap="butt"><path d="M-1.1,0 L-1.1,-10 L-7.5,-14.5"/><path d="M1.1,0 L1.1,-10 L7.5,-14.5"/></g>
<g transform="translate(176.2,122.8) rotate(-55) scale(0.55)" stroke="#3a4488" stroke-width="2.6" fill="none" stroke-linecap="butt"><path d="M-1.1,0 L-1.1,-10 L-7.5,-14.5"/><path d="M1.1,0 L1.1,-10 L7.5,-14.5"/></g>
<g transform="translate(200.7,131.7) rotate(95) scale(0.55)" stroke="#3a4488" stroke-width="2.6" fill="none" stroke-linecap="butt"><path d="M-1.1,0 L-1.1,-10 L-7.5,-14.5"/><path d="M1.1,0 L1.1,-10 L7.5,-14.5"/></g>
<g transform="translate(176.2,138.2) rotate(-125) scale(0.55)" stroke="#3a4488" stroke-width="2.6" fill="none" stroke-linecap="butt"><path d="M-1.1,0 L-1.1,-10 L-7.5,-14.5"/><path d="M1.1,0 L1.1,-10 L7.5,-14.5"/></g>
<g transform="translate(193.4,143.6) rotate(155) scale(0.55)" stroke="#3a4488" stroke-width="2.6" fill="none" stroke-linecap="butt"><path d="M-1.1,0 L-1.1,-10 L-7.5,-14.5"/><path d="M1.1,0 L1.1,-10 L7.5,-14.5"/></g>
<path d="M184,149 Q182,158 176,163" stroke="#2aa0d8" stroke-width="3.2" fill="none"/>
<polygon points="171.5,169 174,159.5 180.5,165" fill="#2aa0d8"/>
<g transform="translate(172,180) rotate(55)"><rect x="-12" y="-2.6" width="20" height="5.2" fill="#f4f4f4" stroke="#666" stroke-width="0.6"/><rect x="-4" y="-2" width="10" height="4" fill="#999"/><line x1="8" y1="0" x2="17" y2="0" stroke="#666" stroke-width="0.6"/><line x1="-16" y1="0" x2="-12" y2="0" stroke="#666" stroke-width="1"/><line x1="-16" y1="-3" x2="-16" y2="3" stroke="#666" stroke-width="1"/></g>
<path d="M203,186 C192,192 186,212 200,215 C228,218 258,207 278,199" stroke="#c4a07c" stroke-width="3.6" fill="none" stroke-linecap="round"/>
<path d="M203,186 C192,192 186,212 200,215 C228,218 258,207 278,199" stroke="#f6e6cf" stroke-width="2.1" fill="none" stroke-linecap="round"/>
<path d="M201,186 C196,172 205,152 230,149 C248,147 262,150 270,156 C276,153 284,154 289,160 C296,164 301,168 306,173 L300,177 C294,180 289,184 283,187 C276,193 268,196 260,194 L248,193 C236,197 222,198 213,196 C206,196 201,193 201,186 Z" fill="#f6e6cf" stroke="#c4a07c" stroke-width="1"/>
<ellipse cx="282.5" cy="155" rx="4.8" ry="5.8" fill="#f6e2ca" stroke="#c4a07c" stroke-width="0.9" transform="rotate(-25 282.5 155)"/>
<path d="M280.5,157 q1,-4 4,-4" stroke="#c4a07c" stroke-width="0.6" fill="none"/>
<ellipse cx="290" cy="168" rx="2" ry="1.4" fill="#333"/>
<path d="M305,173 l6,-4 M305,174 l7,0 M305,175 l6,4 M306,173 l3,-7 M305,175 l2,6" stroke="#444" stroke-width="0.4"/>
<path d="M217,190 q-3,5 -1,8 l6,0 M258,190 q0,6 3,8 l5,-1" stroke="#c4a07c" stroke-width="0.9" fill="#f6e6cf"/>
<text x="214" y="175.5" font-size="9.0" fill="#222" font-weight="normal" text-anchor="start" font-family='"Liberation Sans", sans-serif'  style="">CIA model</text>
<text x="238.6" y="142.8" font-size="9.0" fill="#222" font-weight="normal" text-anchor="start" font-family='"Liberation Sans", sans-serif'  style="">NIR II Laser</text>
<g transform="translate(254.4,151.8) rotate(-25)"><rect x="-3.5" y="-5" width="7" height="10" rx="1" fill="#888" stroke="#555" stroke-width="0.6"/><ellipse cx="0" cy="-5" rx="3.5" ry="1.2" fill="#bbb"/></g>
<path d="M255,157 L261,156 L283,195 L277,197 Z" fill="url(#beam)" opacity="0.85"/>
<ellipse cx="280" cy="196" rx="4.5" ry="3" fill="#d81e2a"/>
<path d="M272,195 l12,-2 l2,6 l-12,2 z" fill="none" stroke="#66a4cc" stroke-width="0.6" stroke-dasharray="1.5 1"/>
<path d="M284,190 L336,126" stroke="#66a4cc" stroke-width="0.8" stroke-dasharray="3 2"/>
<path d="M284,199 L336,218" stroke="#66a4cc" stroke-width="0.8" stroke-dasharray="3 2"/>
<ellipse cx="359.5" cy="171.5" rx="34.5" ry="26.5" fill="#b4b2c6"/>
<ellipse cx="359.5" cy="171.5" rx="32" ry="24" fill="#d8d4e4"/>
<path d="M359,148 Q392,150 391,172 Q390,194 359,196 Z" fill="#e28a9c"/>
<circle cx="381" cy="161" r="2.8" fill="#6a2a7a"/>
<circle cx="386" cy="173" r="2.8" fill="#6a2a7a"/>
<circle cx="380" cy="182" r="2.8" fill="#6a2a7a"/>
<circle cx="373" cy="167" r="2.8" fill="#6a2a7a"/>
<circle cx="388" cy="165" r="2.8" fill="#6a2a7a"/>
<path d="M328,172 Q345,168 359,172 Q372,168 382,170 L382,180 Q372,178 359,180 Q345,183 328,180 Z" fill="#c41e3a"/>
<path d="M338.4,125 L368,125 Q368,140 372,152 Q378,162 376,168 Q372,174 356,174 Q338,174 333,168 Q331,162 336,152 Q339,140 338.4,125 Z" fill="url(#bonedots)" stroke="#c8b48a" stroke-width="0.5"/>
<path d="M333,184 Q338,179 356,178.5 Q373,179 378,184 Q380,192 372,202 Q369,210 370,219 L340,219 Q341,210 338,202 Q330,192 333,184 Z" fill="url(#bonedots)" stroke="#c8b48a" stroke-width="0.5"/>
<line x1="355" y1="125" x2="355" y2="219" stroke="#ffffff" stroke-width="0.9"/>
<text x="0" y="0" transform="translate(350,201) rotate(-90)" font-size="7.4" fill="#222" font-weight="normal" text-anchor="middle" font-family='"Liberation Sans", sans-serif'>Normal</text>
<text x="0" y="0" transform="translate(364.5,201) rotate(-90)" font-size="7.4" fill="#222" font-weight="normal" text-anchor="middle" font-family='"Liberation Sans", sans-serif'>RA model</text>
<path d="M362,135.5 L375,131 M366,163 L392,146 M372,183 L382,203" stroke="#d82030" stroke-width="0.7"/>
<text x="375" y="133.5" font-size="8.6" fill="#222" font-weight="normal" text-anchor="start" font-family='"Liberation Sans", sans-serif'  style="">Bone</text>
<text x="375" y="145.5" font-size="8.6" fill="#222" font-weight="normal" text-anchor="start" font-family='"Liberation Sans", sans-serif'  style="">Joint capsule</text>
<text x="375.7" y="210" font-size="8.6" fill="#222" font-weight="normal" text-anchor="start" font-family='"Liberation Sans", sans-serif'  style="">Cartilage</text>
<text x="396.6" y="194.5" font-size="8.6" fill="#222" font-weight="normal" text-anchor="start" font-family='"Liberation Sans", sans-serif'  style="">PA</text>
<path d="M400.0,168.8 A9.0,9.0 0 0 1 400.0,182.2" stroke="#5ab84a" stroke-width="1.7" fill="none" stroke-dasharray="1.8 0.8"/>
<path d="M402.9,165.6 A13.3,13.3 0 0 1 402.9,185.4" stroke="#5ab84a" stroke-width="1.7" fill="none" stroke-dasharray="1.8 0.8"/>
<path d="M405.8,162.4 A17.6,17.6 0 0 1 405.8,188.6" stroke="#5ab84a" stroke-width="1.7" fill="none" stroke-dasharray="1.8 0.8"/>
<path d="M408.7,159.2 A21.9,21.9 0 0 1 408.7,191.8" stroke="#5ab84a" stroke-width="1.7" fill="none" stroke-dasharray="1.8 0.8"/>
<text x="493.9" y="12.0" font-size="8.3" fill="#222" font-weight="normal" text-anchor="middle" font-family='"Liberation Sans", sans-serif'  style="">Day 27</text>
<text x="556.4" y="12.0" font-size="8.3" fill="#222" font-weight="normal" text-anchor="middle" font-family='"Liberation Sans", sans-serif'  style="">Day 42</text>
<text x="613.3" y="12.0" font-size="8.3" fill="#222" font-weight="normal" text-anchor="middle" font-family='"Liberation Sans", sans-serif'  style="">Day 57</text>
<text x="0" y="0" transform="translate(460.5,37.6) rotate(-90)" font-size="8.6" fill="#222" font-weight="normal" text-anchor="middle" font-family='"Liberation Sans", sans-serif'>RA model</text>
<text x="0" y="0" transform="translate(460.5,89.5) rotate(-90)" font-size="8.6" fill="#222" font-weight="normal" text-anchor="middle" font-family='"Liberation Sans", sans-serif'>MAP PA</text>
<text x="0" y="0" transform="translate(460.5,146) rotate(-90)" font-size="8.6" fill="#222" font-weight="normal" text-anchor="middle" font-family='"Liberation Sans", sans-serif'>MAP US + PA</text>
<text x="0" y="0" transform="translate(460.5,196.5) rotate(-90)" font-size="8.4" fill="#3c9a3c" font-weight="normal" text-anchor="middle" font-family='"Liberation Sans", sans-serif'>B-scan</text>
<rect x="466" y="17" width="53.5" height="42" fill="#dedcd7"/>
<g clip-path="url(#cph0)">
<rect x="466" y="17" width="53.5" height="16.8" fill="#e8e6e2" filter="url(#blur2)"/>
<polygon points="490.075,32.96 508.8,30.439999999999998 523.5,25.4 523.5,63 502.38,63 495.425,49.76 488.47,44.72" fill="#8e806a" filter="url(#blur1)"/>
<polygon points="506.125,35.900000000000006 523.5,29.6 523.5,63 508.8,63" fill="#62583f" opacity="0.7" filter="url(#blur2)"/>
<ellipse cx="484.7" cy="35.9" rx="11.2" ry="8.0" transform="rotate(20 484.7 35.9)" fill="#c8442a" opacity="0.95" filter="url(#blur05)"/>
</g>
<rect x="528" y="17" width="53.5" height="42" fill="#dedcd7"/>
<g clip-path="url(#cph1)">
<rect x="528" y="17" width="53.5" height="16.8" fill="#e8e6e2" filter="url(#blur2)"/>
<polygon points="533.4,24.6 552.1,29.6 565.5,40.1 584.2,47.2 584.2,61.1 570.8,61.1 557.4,54.8 541.4,44.3 532.3,33.0" fill="url(#pawg2)" filter="url(#blur1)"/>
<ellipse cx="550.5" cy="40.1" rx="6.4" ry="5.0" fill="#8a3a30" opacity="0.35" filter="url(#blur1)"/>
</g>
<rect x="590" y="17" width="53.5" height="42" fill="#dedcd7"/>
<g clip-path="url(#cph2)">
<rect x="590" y="17" width="53.5" height="16.8" fill="#e8e6e2" filter="url(#blur2)"/>
<polygon points="595.4,24.6 614.1,29.6 627.5,40.1 646.2,47.2 646.2,61.1 632.8,61.1 619.4,54.8 603.4,44.3 594.3,33.0" fill="url(#pawg3)" filter="url(#blur1)"/>
<ellipse cx="612.5" cy="40.1" rx="6.4" ry="5.0" fill="#8a3a30" opacity="0.35" filter="url(#blur1)"/>
</g>
<rect x="616" y="47" width="27" height="12" fill="#4a4030" opacity="0.5" filter="url(#blur1)" clip-path="url(#cph2)"/>
<text x="627" y="55.5" font-size="6.8" fill="#111" font-weight="normal" text-anchor="middle" font-family='"Liberation Sans", sans-serif'  style="">1 cm</text>
<line x1="619" y1="57.5" x2="640" y2="57.5" stroke="#111" stroke-width="1"/>
<rect x="466" y="61" width="53.5" height="56" fill="#070303"/>
<rect x="528" y="61" width="53.5" height="56" fill="#070303"/>
<rect x="590" y="61" width="53.5" height="56" fill="#070303"/>
<g clip-path="url(#cpa0)"><g filter="url(#blur05)">
<path d="M481.8 84.6h0M482.8 83.6h0M492.3 90.2h0M494.4 77.5h0M500.8 82.0h0M496.7 98.3h0" stroke="#d04016" stroke-width="1.75" stroke-linecap="round" fill="none"/>
<path d="M482.6 84.8h0M482.2 80.4h0" stroke="#701008" stroke-width="1.25" stroke-linecap="round" fill="none"/>
<path d="M485.0 88.9h0M487.4 79.3h0M488.6 79.3h0M492.5 88.1h0M499.9 82.9h0M501.8 80.8h0" stroke="#8a1a0e" stroke-width="1.5" stroke-linecap="round" fill="none"/>
<path d="M488.1 89.5h0M495.7 79.8h0M493.9 85.6h0" stroke="#b02412" stroke-width="2.0" stroke-linecap="round" fill="none"/>
<path d="M490.9 90.9h0M502.7 77.3h0M500.8 82.4h0M506.2 92.9h0" stroke="#701008" stroke-width="2.0" stroke-linecap="round" fill="none"/>
<path d="M482.0 81.9h0M493.7 88.6h0M496.9 91.0h0" stroke="#d04016" stroke-width="1.5" stroke-linecap="round" fill="none"/>
<path d="M487.7 91.4h0M490.0 83.6h0M492.7 89.8h0" stroke="#d04016" stroke-width="2.0" stroke-linecap="round" fill="none"/>
<path d="M486.6 89.1h0M488.7 77.6h0" stroke="#8a1a0e" stroke-width="2.25" stroke-linecap="round" fill="none"/>
<path d="M482.1 85.3h0M497.0 87.4h0M498.5 98.1h0" stroke="#8a1a0e" stroke-width="2.0" stroke-linecap="round" fill="none"/>
<path d="M489.4 72.7h0M491.1 87.4h0M486.8 73.2h0M502.3 78.7h0M495.6 98.7h0M502.1 95.3h0" stroke="#8a1a0e" stroke-width="1.75" stroke-linecap="round" fill="none"/>
<path d="M487.8 78.7h0" stroke="#8a1a0e" stroke-width="1.25" stroke-linecap="round" fill="none"/>
<path d="M491.5 86.6h0M487.3 73.5h0M499.7 82.5h0" stroke="#d04016" stroke-width="2.25" stroke-linecap="round" fill="none"/>
<path d="M488.9 91.4h0M491.9 88.4h0" stroke="#b02412" stroke-width="1.75" stroke-linecap="round" fill="none"/>
<path d="M493.7 87.7h0M494.0 73.4h0M501.9 94.0h0" stroke="#b02412" stroke-width="1.5" stroke-linecap="round" fill="none"/>
<path d="M493.4 89.2h0M499.5 88.3h0M498.5 87.2h0M502.8 94.1h0" stroke="#701008" stroke-width="1.75" stroke-linecap="round" fill="none"/>
<path d="M497.7 80.5h0M493.8 80.6h0" stroke="#701008" stroke-width="1.5" stroke-linecap="round" fill="none"/>
<path d="M489.4 94.5h0M493.2 94.3h0M493.1 101.8h0M491.2 97.3h0" stroke="#f06a1c" stroke-width="2.5" stroke-linecap="round" fill="none"/>
<path d="M489.1 98.2h0M484.5 98.9h0M492.3 99.1h0M484.6 100.5h0" stroke="#b02412" stroke-width="1.25" stroke-linecap="round" fill="none"/>
<path d="M495.5 94.9h0M495.3 90.1h0M487.9 99.3h0M498.2 98.3h0" stroke="#f06a1c" stroke-width="2.25" stroke-linecap="round" fill="none"/>
<path d="M497.4 95.5h0M491.2 97.2h0" stroke="#f06a1c" stroke-width="1.25" stroke-linecap="round" fill="none"/>
<path d="M492.9 90.5h0M486.5 98.4h0M493.3 96.7h0" stroke="#ff8a24" stroke-width="2.0" stroke-linecap="round" fill="none"/>
<path d="M484.8 93.2h0M491.3 100.1h0M492.1 98.5h0" stroke="#ff8a24" stroke-width="1.5" stroke-linecap="round" fill="none"/>
<path d="M488.3 96.0h0M491.7 95.8h0M497.1 92.5h0" stroke="#d04016" stroke-width="2.0" stroke-linecap="round" fill="none"/>
<path d="M495.8 87.1h0M497.6 98.0h0M497.6 99.1h0M490.9 99.2h0" stroke="#b02412" stroke-width="2.5" stroke-linecap="round" fill="none"/>
<path d="M485.2 92.9h0M488.6 93.9h0M482.5 99.2h0M483.7 98.3h0" stroke="#b02412" stroke-width="2.0" stroke-linecap="round" fill="none"/>
<path d="M489.9 96.4h0M493.5 100.7h0M494.3 92.5h0" stroke="#b02412" stroke-width="1.5" stroke-linecap="round" fill="none"/>
<path d="M486.3 98.3h0M495.9 93.1h0M491.3 98.4h0" stroke="#d04016" stroke-width="1.25" stroke-linecap="round" fill="none"/>
<path d="M495.4 98.3h0M490.2 94.2h0M493.4 97.7h0" stroke="#d04016" stroke-width="1.5" stroke-linecap="round" fill="none"/>
<path d="M486.7 94.3h0" stroke="#ff8a24" stroke-width="2.25" stroke-linecap="round" fill="none"/>
<path d="M495.2 90.6h0" stroke="#d04016" stroke-width="2.5" stroke-linecap="round" fill="none"/>
<path d="M493.0 91.2h0M490.8 95.0h0M494.2 99.5h0" stroke="#ff8a24" stroke-width="1.75" stroke-linecap="round" fill="none"/>
<path d="M487.2 95.3h0" stroke="#b02412" stroke-width="1.75" stroke-linecap="round" fill="none"/>
<path d="M497.8 97.9h0M490.0 95.3h0M499.4 94.9h0" stroke="#f06a1c" stroke-width="1.5" stroke-linecap="round" fill="none"/>
<path d="M493.4 96.8h0M494.2 96.7h0" stroke="#d04016" stroke-width="1.75" stroke-linecap="round" fill="none"/>
<path d="M490.9 96.9h0M497.1 95.1h0" stroke="#f06a1c" stroke-width="1.75" stroke-linecap="round" fill="none"/>
<path d="M491.7 97.0h0" stroke="#ff8a24" stroke-width="1.25" stroke-linecap="round" fill="none"/>
<path d="M492.7 94.9h0" stroke="#f06a1c" stroke-width="2.0" stroke-linecap="round" fill="none"/>
<path d="M490.1 108.3h0M490.0 103.8h0M492.2 117.9h0" stroke="#ffe060" stroke-width="2.0" stroke-linecap="round" fill="none"/>
<path d="M494.3 116.3h0M493.4 105.7h0M493.0 110.5h0" stroke="#ff9a28" stroke-width="1.5" stroke-linecap="round" fill="none"/>
<path d="M493.3 112.0h0M487.0 115.9h0" stroke="#ff9a28" stroke-width="1.75" stroke-linecap="round" fill="none"/>
<path d="M488.7 106.7h0" stroke="#ffc83a" stroke-width="1.5" stroke-linecap="round" fill="none"/>
<path d="M490.7 116.4h0M485.9 115.6h0M492.2 99.0h0M491.2 104.0h0" stroke="#ff9a28" stroke-width="2.5" stroke-linecap="round" fill="none"/>
<path d="M496.1 102.1h0M492.2 110.9h0M492.4 108.0h0" stroke="#f07020" stroke-width="2.25" stroke-linecap="round" fill="none"/>
<path d="M491.2 116.6h0M494.4 117.1h0M493.0 107.7h0M494.5 107.0h0" stroke="#ffc83a" stroke-width="2.0" stroke-linecap="round" fill="none"/>
<path d="M492.3 110.9h0M490.7 110.3h0M491.5 116.3h0M494.0 115.2h0" stroke="#f07020" stroke-width="1.75" stroke-linecap="round" fill="none"/>
<path d="M497.7 117.0h0M489.7 107.6h0M491.6 119.4h0" stroke="#ff9a28" stroke-width="2.25" stroke-linecap="round" fill="none"/>
<path d="M490.9 117.1h0M490.8 99.0h0M492.0 112.5h0M491.5 99.5h0M490.7 109.0h0" stroke="#ff9a28" stroke-width="2.0" stroke-linecap="round" fill="none"/>
<path d="M491.0 112.4h0M495.5 104.0h0" stroke="#ffe060" stroke-width="1.5" stroke-linecap="round" fill="none"/>
<path d="M491.1 115.3h0M492.0 112.7h0M492.4 106.2h0M494.5 100.7h0" stroke="#ffe060" stroke-width="1.75" stroke-linecap="round" fill="none"/>
<path d="M493.1 117.3h0M488.4 100.4h0M495.4 106.3h0" stroke="#ffe060" stroke-width="2.5" stroke-linecap="round" fill="none"/>
<path d="M492.4 110.1h0M493.1 100.1h0M493.3 112.6h0" stroke="#f07020" stroke-width="2.0" stroke-linecap="round" fill="none"/>
<path d="M493.6 109.9h0M491.6 104.6h0M488.4 116.2h0" stroke="#ffc83a" stroke-width="2.25" stroke-linecap="round" fill="none"/>
<path d="M486.1 100.7h0M488.2 106.2h0" stroke="#ff9a28" stroke-width="2.75" stroke-linecap="round" fill="none"/>
<path d="M491.5 120.9h0" stroke="#ffc83a" stroke-width="1.75" stroke-linecap="round" fill="none"/>
<path d="M490.5 112.4h0M490.7 108.6h0M488.8 105.1h0" stroke="#ffc83a" stroke-width="2.5" stroke-linecap="round" fill="none"/>
<path d="M493.9 115.6h0" stroke="#ffc83a" stroke-width="2.75" stroke-linecap="round" fill="none"/>
<path d="M489.9 114.7h0" stroke="#ffe060" stroke-width="2.75" stroke-linecap="round" fill="none"/>
<circle cx="501" cy="73.6" r="2" fill="#ff9a30"/>
</g></g>
<g clip-path="url(#cpa1)"><g filter="url(#blur05)">
<path d="M551.8 108.6h0M555.6 108.9h0M550.6 100.1h0M548.4 89.9h0" stroke="#e8401e" stroke-width="1.5" stroke-linecap="round" fill="none"/>
<path d="M553.6 101.3h0M555.5 110.4h0M554.1 99.5h0M547.6 88.8h0M551.3 86.7h0M551.1 83.7h0" stroke="#f05a28" stroke-width="2.25" stroke-linecap="round" fill="none"/>
<path d="M553.5 113.3h0M552.0 93.1h0" stroke="#f05a28" stroke-width="1.5" stroke-linecap="round" fill="none"/>
<path d="M551.7 111.8h0M549.7 100.8h0M549.6 112.5h0M554.2 96.3h0M552.7 96.5h0M547.9 85.1h0M548.0 87.7h0M550.6 90.0h0M554.7 86.0h0" stroke="#d82a1a" stroke-width="1.5" stroke-linecap="round" fill="none"/>
<path d="M549.6 110.2h0M550.1 93.8h0M552.3 96.5h0M548.9 87.9h0M549.0 80.5h0M556.1 89.1h0M558.2 95.6h0" stroke="#c01c14" stroke-width="2.0" stroke-linecap="round" fill="none"/>
<path d="M554.6 104.5h0M552.1 96.3h0M545.1 98.1h0M550.1 79.0h0M554.2 91.5h0M561.0 94.3h0" stroke="#d82a1a" stroke-width="2.0" stroke-linecap="round" fill="none"/>
<path d="M554.5 99.9h0M552.6 107.7h0M552.0 94.8h0M555.6 87.7h0M561.0 81.5h0" stroke="#d82a1a" stroke-width="1.75" stroke-linecap="round" fill="none"/>
<path d="M553.4 98.4h0M550.8 101.7h0M554.8 85.5h0M559.1 82.8h0M558.5 89.6h0" stroke="#c01c14" stroke-width="1.5" stroke-linecap="round" fill="none"/>
<path d="M551.3 105.6h0M552.0 87.6h0M561.5 93.9h0" stroke="#d82a1a" stroke-width="1.25" stroke-linecap="round" fill="none"/>
<path d="M554.7 98.4h0M549.9 102.6h0M547.4 90.0h0M545.8 88.3h0M549.7 82.3h0M556.4 85.9h0M554.9 78.6h0M555.3 84.1h0M563.2 93.7h0M557.7 95.1h0" stroke="#8a1410" stroke-width="2.0" stroke-linecap="round" fill="none"/>
<path d="M552.0 110.9h0M554.6 108.6h0M549.5 85.2h0M559.7 86.5h0" stroke="#d82a1a" stroke-width="2.25" stroke-linecap="round" fill="none"/>
<path d="M553.7 112.4h0M547.7 88.4h0M551.3 81.9h0" stroke="#e8401e" stroke-width="1.25" stroke-linecap="round" fill="none"/>
<path d="M550.4 110.4h0M557.7 98.0h0" stroke="#f05a28" stroke-width="2.0" stroke-linecap="round" fill="none"/>
<path d="M553.1 111.0h0M551.4 95.1h0M552.4 98.9h0M552.0 90.9h0M555.4 89.9h0M555.4 87.2h0M557.2 90.2h0" stroke="#8a1410" stroke-width="1.25" stroke-linecap="round" fill="none"/>
<path d="M554.5 100.2h0M554.8 98.3h0" stroke="#e8401e" stroke-width="1.75" stroke-linecap="round" fill="none"/>
<path d="M553.4 99.5h0M549.6 98.2h0M559.0 94.8h0" stroke="#c01c14" stroke-width="1.25" stroke-linecap="round" fill="none"/>
<path d="M557.8 97.0h0M549.4 90.3h0" stroke="#e8401e" stroke-width="2.25" stroke-linecap="round" fill="none"/>
<path d="M556.2 93.3h0M556.7 97.2h0" stroke="#e8401e" stroke-width="2.0" stroke-linecap="round" fill="none"/>
<path d="M557.3 94.9h0M544.6 82.8h0M553.3 89.3h0M558.7 89.7h0" stroke="#8a1410" stroke-width="1.75" stroke-linecap="round" fill="none"/>
<path d="M551.5 94.1h0M551.6 79.3h0" stroke="#c01c14" stroke-width="2.25" stroke-linecap="round" fill="none"/>
<path d="M549.3 90.4h0" stroke="#c01c14" stroke-width="1.75" stroke-linecap="round" fill="none"/>
<path d="M545.0 82.9h0M553.0 92.1h0M555.0 85.4h0M554.0 86.6h0M556.8 83.8h0M557.6 77.9h0M557.3 89.2h0" stroke="#f05a28" stroke-width="1.75" stroke-linecap="round" fill="none"/>
<path d="M545.0 80.7h0M549.2 78.8h0M551.6 84.2h0M558.5 86.2h0M557.5 84.6h0" stroke="#8a1410" stroke-width="2.25" stroke-linecap="round" fill="none"/>
<path d="M549.1 83.0h0M554.7 80.6h0M561.0 93.5h0M557.6 94.8h0" stroke="#f05a28" stroke-width="1.25" stroke-linecap="round" fill="none"/>
<path d="M558.6 90.4h0M560.5 85.1h0" stroke="#8a1410" stroke-width="1.5" stroke-linecap="round" fill="none"/>
</g></g>
<g clip-path="url(#cpa2)">
<circle cx="613.9" cy="84.0" r="0.6" fill="#2a0a06"/>
<circle cx="608.9" cy="85.5" r="0.6" fill="#2a0a06"/>
<circle cx="621.7" cy="85.5" r="0.6" fill="#2a0a06"/>
<circle cx="613.4" cy="98.5" r="0.6" fill="#2a0a06"/>
<circle cx="616.8" cy="106.2" r="0.6" fill="#2a0a06"/>
<circle cx="615.8" cy="90.6" r="0.6" fill="#2a0a06"/>
<circle cx="618.5" cy="84.5" r="0.6" fill="#2a0a06"/>
<circle cx="624.8" cy="89.2" r="0.6" fill="#2a0a06"/>
<circle cx="613.5" cy="98.5" r="0.6" fill="#2a0a06"/>
<circle cx="608.4" cy="97.8" r="0.6" fill="#2a0a06"/>
<circle cx="623.7" cy="88.2" r="0.6" fill="#2a0a06"/>
<circle cx="625.8" cy="93.9" r="0.6" fill="#2a0a06"/>
</g>
<polyline points="468,103 468,115 480,115" fill="none" stroke="#ddd" stroke-width="0.8"/>
<text x="470" y="110" font-size="7" fill="#eee" font-weight="normal" text-anchor="start" font-family='"Liberation Sans", sans-serif'  style="">y</text>
<text x="480" y="113.5" font-size="7" fill="#eee" font-weight="normal" text-anchor="start" font-family='"Liberation Sans", sans-serif'  style="">x</text>
<text x="631" y="112.5" font-size="7" fill="#eee" font-weight="normal" text-anchor="middle" font-family='"Liberation Sans", sans-serif'  style="">1 cm</text>
<line x1="621" y1="114.8" x2="641" y2="114.8" stroke="#eee" stroke-width="1"/>
<rect x="466" y="120" width="53.5" height="56" fill="#070303"/>
<rect x="528" y="120" width="53.5" height="56" fill="#070303"/>
<rect x="590" y="120" width="53.5" height="56" fill="#070303"/>
<g clip-path="url(#cpu0)"><g filter="url(#blur05)">
<path d="M492.5 172.4h0M494.6 162.5h0M478.0 130.5h0M492.4 134.5h0M498.5 127.1h0M500.6 152.0h0M503.6 149.6h0" stroke="#ff8a50" stroke-width="2.0" stroke-linecap="round" fill="none"/>
<path d="M495.1 169.7h0M490.6 155.7h0M492.0 170.7h0M497.5 160.2h0M481.0 133.5h0M487.2 125.1h0M487.2 124.9h0M504.0 136.7h0M507.7 130.6h0M503.9 153.0h0" stroke="#e02818" stroke-width="1.5" stroke-linecap="round" fill="none"/>
<path d="M490.6 159.7h0M497.0 171.9h0M494.4 171.7h0M496.5 164.5h0M490.6 146.0h0M488.7 124.1h0M497.0 127.9h0M503.8 150.7h0" stroke="#f0b0b0" stroke-width="1.25" stroke-linecap="round" fill="none"/>
<path d="M496.8 172.7h0M494.3 153.3h0M487.1 159.8h0M492.4 147.3h0M486.4 122.7h0" stroke="#ff6428" stroke-width="1.75" stroke-linecap="round" fill="none"/>
<path d="M498.7 165.9h0M491.8 158.7h0M496.1 159.5h0M498.5 148.3h0M487.1 144.8h0M477.7 131.4h0M495.2 146.7h0" stroke="#e02818" stroke-width="1.25" stroke-linecap="round" fill="none"/>
<path d="M494.1 173.2h0M494.4 145.1h0M476.9 127.7h0M498.1 125.5h0M501.6 138.5h0M499.5 140.6h0M499.0 152.5h0" stroke="#ff8a50" stroke-width="1.25" stroke-linecap="round" fill="none"/>
<path d="M493.6 152.6h0M491.2 159.8h0M509.5 146.1h0M495.7 151.9h0M510.7 126.0h0M499.6 153.8h0" stroke="#ffffff" stroke-width="2.0" stroke-linecap="round" fill="none"/>
<path d="M496.5 164.4h0M494.9 171.4h0M488.9 152.7h0M485.6 151.3h0M491.5 149.0h0M491.6 142.3h0M485.3 121.7h0" stroke="#ffc850" stroke-width="2.0" stroke-linecap="round" fill="none"/>
<path d="M499.3 169.2h0M494.6 158.7h0M495.3 156.0h0M495.4 143.7h0M489.3 143.2h0M488.7 142.1h0M490.9 136.4h0" stroke="#ffc850" stroke-width="1.5" stroke-linecap="round" fill="none"/>
<path d="M496.9 174.5h0M491.9 170.0h0M490.6 165.3h0M499.9 148.4h0M496.2 149.4h0M488.5 149.5h0M487.9 129.2h0M488.9 140.9h0M509.4 129.3h0M500.9 144.0h0M508.5 131.0h0M509.9 148.5h0" stroke="#e02818" stroke-width="2.0" stroke-linecap="round" fill="none"/>
<path d="M492.2 167.0h0M494.0 171.6h0M494.3 152.6h0M492.3 157.5h0M479.2 130.2h0M480.0 136.5h0M489.6 130.5h0M492.2 136.4h0M494.8 139.9h0M510.7 126.7h0M510.0 128.8h0" stroke="#ff8a50" stroke-width="2.25" stroke-linecap="round" fill="none"/>
<path d="M499.7 174.5h0M489.4 155.3h0M476.4 129.3h0M481.6 135.8h0M487.9 124.9h0M491.1 135.8h0" stroke="#ff3c1e" stroke-width="1.5" stroke-linecap="round" fill="none"/>
<path d="M497.8 154.7h0" stroke="#ff3c1e" stroke-width="1.25" stroke-linecap="round" fill="none"/>
<path d="M489.9 159.7h0M486.7 158.8h0M494.5 158.2h0M487.9 141.7h0M488.0 146.9h0M495.6 145.2h0M505.8 133.9h0M501.9 141.8h0" stroke="#f0b0b0" stroke-width="1.75" stroke-linecap="round" fill="none"/>
<path d="M488.6 175.6h0M481.8 148.9h0M493.1 141.7h0M489.6 127.0h0M497.6 122.9h0M492.6 145.4h0M509.5 128.9h0" stroke="#ff8a50" stroke-width="1.75" stroke-linecap="round" fill="none"/>
<path d="M499.4 172.1h0M488.9 154.7h0M496.0 161.8h0M481.9 136.0h0M505.0 134.4h0" stroke="#ff6428" stroke-width="2.0" stroke-linecap="round" fill="none"/>
<path d="M496.9 169.3h0M489.4 134.3h0M484.6 129.8h0M496.0 145.0h0M502.5 122.5h0M497.6 140.9h0M495.5 139.5h0" stroke="#e02818" stroke-width="1.75" stroke-linecap="round" fill="none"/>
<path d="M497.9 178.7h0M495.3 175.1h0M493.2 161.9h0M493.0 145.1h0M496.2 152.6h0M482.1 136.9h0M488.6 145.8h0M486.5 142.1h0M497.8 125.5h0M497.5 136.5h0" stroke="#ffffff" stroke-width="2.25" stroke-linecap="round" fill="none"/>
<path d="M494.0 164.6h0M492.4 171.9h0M478.2 128.6h0M508.3 127.7h0M499.2 153.1h0" stroke="#ff6428" stroke-width="1.25" stroke-linecap="round" fill="none"/>
<path d="M490.2 163.6h0M493.0 139.8h0M498.7 144.8h0" stroke="#ffc850" stroke-width="1.0" stroke-linecap="round" fill="none"/>
<path d="M494.5 158.3h0M480.4 129.3h0M478.7 132.2h0M488.0 129.5h0M499.5 122.2h0M502.7 139.3h0" stroke="#e02818" stroke-width="2.25" stroke-linecap="round" fill="none"/>
<path d="M492.4 167.7h0M493.9 153.0h0M498.1 154.5h0M483.9 140.5h0M493.4 143.1h0M492.2 142.0h0M497.1 133.7h0M509.6 126.3h0M500.9 143.5h0" stroke="#ffc850" stroke-width="1.25" stroke-linecap="round" fill="none"/>
<path d="M490.7 179.1h0M487.3 148.5h0M489.0 149.3h0M489.3 146.0h0M479.8 134.0h0M492.3 136.0h0M491.3 145.2h0M498.2 146.6h0" stroke="#ff3c1e" stroke-width="2.25" stroke-linecap="round" fill="none"/>
<path d="M493.9 154.2h0M488.9 144.0h0M484.9 157.3h0M487.0 142.8h0M498.0 133.8h0M512.2 146.1h0" stroke="#ff8a50" stroke-width="1.5" stroke-linecap="round" fill="none"/>
<path d="M497.4 171.9h0M490.2 144.1h0M488.2 128.8h0M493.7 143.0h0M487.4 130.9h0M494.6 145.1h0M497.1 131.8h0M497.1 126.5h0M500.4 152.8h0" stroke="#ff6428" stroke-width="2.25" stroke-linecap="round" fill="none"/>
<path d="M495.7 156.2h0M494.2 155.6h0M496.4 155.2h0M489.2 140.5h0M495.0 144.0h0M497.3 140.7h0M494.1 141.3h0M494.0 143.9h0M498.3 124.7h0M504.3 133.2h0M508.9 130.5h0M500.8 151.6h0" stroke="#f0b0b0" stroke-width="1.5" stroke-linecap="round" fill="none"/>
<path d="M492.7 160.6h0M493.0 145.0h0M480.1 130.8h0M486.9 123.3h0M499.9 140.6h0M513.5 126.6h0M498.5 154.0h0" stroke="#ff3c1e" stroke-width="2.0" stroke-linecap="round" fill="none"/>
<path d="M490.5 162.4h0M487.5 145.2h0M488.6 125.5h0M491.8 145.2h0M495.0 142.8h0M494.4 138.1h0M506.1 129.1h0M503.0 140.7h0" stroke="#f0b0b0" stroke-width="2.25" stroke-linecap="round" fill="none"/>
<path d="M493.9 166.3h0M499.1 153.3h0M501.5 150.2h0M478.7 127.6h0M488.2 134.8h0M496.6 124.3h0M503.0 131.6h0M506.7 133.7h0M509.3 129.0h0" stroke="#ffffff" stroke-width="1.25" stroke-linecap="round" fill="none"/>
<path d="M494.5 176.0h0M481.3 132.8h0M490.9 129.2h0" stroke="#ff3c1e" stroke-width="1.75" stroke-linecap="round" fill="none"/>
<path d="M497.7 170.2h0" stroke="#ff6428" stroke-width="2.5" stroke-linecap="round" fill="none"/>
<path d="M495.1 175.6h0M488.8 151.1h0M486.0 141.2h0M489.8 129.7h0M490.7 140.0h0M497.8 141.0h0M499.8 153.8h0M505.6 150.2h0" stroke="#ffffff" stroke-width="1.75" stroke-linecap="round" fill="none"/>
<path d="M497.6 151.4h0M489.9 160.7h0M487.3 152.6h0M489.9 144.3h0M489.7 139.9h0M497.2 128.8h0M498.0 135.7h0M501.7 152.9h0" stroke="#ffc850" stroke-width="2.25" stroke-linecap="round" fill="none"/>
<path d="M499.7 148.2h0M477.5 129.2h0M487.3 126.9h0M496.5 144.6h0M507.2 131.8h0M504.7 148.6h0" stroke="#f0b0b0" stroke-width="2.0" stroke-linecap="round" fill="none"/>
<path d="M495.8 155.0h0M482.5 139.3h0M497.5 125.5h0M495.9 142.6h0M497.1 127.3h0M505.5 149.4h0M511.0 147.3h0M499.3 153.0h0" stroke="#ffffff" stroke-width="1.5" stroke-linecap="round" fill="none"/>
<path d="M498.4 152.4h0" stroke="#ff3c1e" stroke-width="2.5" stroke-linecap="round" fill="none"/>
<path d="M476.4 128.4h0" stroke="#e02818" stroke-width="2.5" stroke-linecap="round" fill="none"/>
<path d="M487.8 130.0h0M496.1 129.6h0M509.9 129.1h0M507.4 133.7h0" stroke="#ffc850" stroke-width="1.75" stroke-linecap="round" fill="none"/>
<path d="M495.8 140.0h0M497.3 141.1h0" stroke="#ff6428" stroke-width="1.5" stroke-linecap="round" fill="none"/>
<path d="M497.8 124.0h0" stroke="#ff8a50" stroke-width="2.5" stroke-linecap="round" fill="none"/>
<path d="M507.1 134.5h0" stroke="#ff3c1e" stroke-width="1.0" stroke-linecap="round" fill="none"/>
<path d="M507.2 127.6h0" stroke="#f0b0b0" stroke-width="2.5" stroke-linecap="round" fill="none"/>
<path d="M494.4 156.7h0M488.5 157.9h0M494.0 155.0h0" stroke="#ffffff" stroke-width="1.5" stroke-linecap="round" fill="none"/>
<path d="M494.6 156.2h0M493.8 156.8h0M492.9 166.7h0M497.5 148.1h0" stroke="#ffe040" stroke-width="1.75" stroke-linecap="round" fill="none"/>
<path d="M490.6 165.8h0M490.2 166.5h0M495.8 149.5h0" stroke="#ffd030" stroke-width="1.75" stroke-linecap="round" fill="none"/>
<path d="M496.5 172.5h0M498.0 159.8h0M502.3 168.7h0M500.1 154.0h0M499.9 150.7h0" stroke="#ffe040" stroke-width="2.25" stroke-linecap="round" fill="none"/>
<path d="M498.0 163.5h0M492.8 171.3h0M494.9 156.4h0M499.8 150.6h0" stroke="#ffffff" stroke-width="1.25" stroke-linecap="round" fill="none"/>
<path d="M491.9 157.5h0M497.6 148.6h0M497.3 151.3h0" stroke="#ffd030" stroke-width="2.0" stroke-linecap="round" fill="none"/>
<path d="M496.3 172.2h0M495.3 165.6h0" stroke="#fff080" stroke-width="1.5" stroke-linecap="round" fill="none"/>
<path d="M495.1 153.2h0M491.4 173.8h0" stroke="#ffe040" stroke-width="2.5" stroke-linecap="round" fill="none"/>
<path d="M492.7 163.4h0M490.5 154.9h0M491.2 153.0h0" stroke="#ffe040" stroke-width="2.0" stroke-linecap="round" fill="none"/>
<path d="M496.4 171.8h0M496.0 172.9h0" stroke="#ffe040" stroke-width="1.25" stroke-linecap="round" fill="none"/>
<path d="M497.4 174.4h0M490.0 166.7h0M493.9 154.0h0M487.4 154.3h0" stroke="#fff080" stroke-width="2.5" stroke-linecap="round" fill="none"/>
<path d="M497.1 176.5h0M493.0 158.7h0M488.5 158.0h0" stroke="#fff080" stroke-width="2.0" stroke-linecap="round" fill="none"/>
<path d="M490.4 167.5h0M492.3 160.6h0" stroke="#ffffff" stroke-width="2.5" stroke-linecap="round" fill="none"/>
<path d="M491.3 170.6h0M499.1 170.7h0" stroke="#ffe040" stroke-width="1.5" stroke-linecap="round" fill="none"/>
<path d="M497.3 156.6h0" stroke="#fff080" stroke-width="1.25" stroke-linecap="round" fill="none"/>
<path d="M489.0 176.6h0M493.0 164.5h0M492.9 146.3h0M500.4 148.7h0" stroke="#ffd030" stroke-width="2.25" stroke-linecap="round" fill="none"/>
<path d="M489.4 178.3h0M490.2 150.0h0M493.8 154.3h0" stroke="#fff080" stroke-width="1.75" stroke-linecap="round" fill="none"/>
<path d="M495.7 158.5h0M498.8 154.6h0" stroke="#ffd030" stroke-width="2.5" stroke-linecap="round" fill="none"/>
<path d="M497.4 157.0h0" stroke="#ffd030" stroke-width="1.25" stroke-linecap="round" fill="none"/>
<path d="M499.0 148.4h0M487.5 153.9h0" stroke="#ffffff" stroke-width="1.75" stroke-linecap="round" fill="none"/>
<path d="M490.1 149.3h0M495.6 152.7h0M499.9 142.6h0" stroke="#ffffff" stroke-width="2.25" stroke-linecap="round" fill="none"/>
<path d="M504.2 149.2h0" stroke="#fff080" stroke-width="2.25" stroke-linecap="round" fill="none"/>
</g></g>
<g clip-path="url(#cpu1)"><g filter="url(#blur05)">
<path d="M539.2 127.6h0M540.0 133.9h0M534.5 128.0h0M550.4 138.3h0M556.2 134.9h0M561.9 138.2h0M567.2 132.6h0M559.1 145.2h0M564.3 148.4h0" stroke="#bbbbbb" stroke-width="1.75" stroke-linecap="round" fill="none"/>
<path d="M546.5 144.3h0M543.2 138.3h0M555.7 132.9h0M564.2 134.1h0M558.5 152.3h0" stroke="#ff4632" stroke-width="1.0" stroke-linecap="round" fill="none"/>
<path d="M542.3 136.2h0M546.1 122.0h0M556.7 138.1h0M563.9 132.4h0M566.7 131.5h0" stroke="#e8e8e8" stroke-width="1.25" stroke-linecap="round" fill="none"/>
<path d="M550.3 146.3h0M545.7 125.6h0M549.4 139.2h0M558.6 130.4h0M562.7 136.5h0M557.3 143.7h0" stroke="#e8e8e8" stroke-width="1.75" stroke-linecap="round" fill="none"/>
<path d="M541.1 137.9h0M548.6 134.6h0M557.2 144.9h0M558.5 152.9h0" stroke="#d23c3c" stroke-width="1.5" stroke-linecap="round" fill="none"/>
<path d="M546.2 139.6h0M540.6 134.0h0M545.0 139.5h0M536.7 128.7h0M545.7 127.9h0M562.8 138.0h0M564.1 132.5h0M565.2 149.2h0" stroke="#ff4632" stroke-width="1.75" stroke-linecap="round" fill="none"/>
<path d="M542.2 138.6h0M539.9 131.9h0M543.1 135.1h0" stroke="#ff4632" stroke-width="1.5" stroke-linecap="round" fill="none"/>
<path d="M545.9 140.5h0M548.4 125.1h0M547.1 131.8h0M554.2 143.4h0M557.9 122.0h0M556.3 130.8h0M555.3 143.5h0M552.9 145.9h0M565.6 129.1h0M562.3 135.4h0" stroke="#ffffff" stroke-width="1.75" stroke-linecap="round" fill="none"/>
<path d="M538.1 131.8h0M547.8 145.3h0M546.0 119.6h0M545.5 120.9h0M546.4 125.0h0M558.1 130.8h0M565.9 148.2h0" stroke="#e8e8e8" stroke-width="1.5" stroke-linecap="round" fill="none"/>
<path d="M544.9 139.5h0M547.7 122.6h0M570.8 147.3h0" stroke="#d23c3c" stroke-width="1.0" stroke-linecap="round" fill="none"/>
<path d="M547.6 144.2h0M547.2 121.5h0M550.7 139.7h0M550.1 140.6h0M556.2 139.1h0M567.1 146.8h0M564.1 150.0h0" stroke="#ff4632" stroke-width="1.25" stroke-linecap="round" fill="none"/>
<path d="M542.9 140.3h0M555.3 142.1h0M554.5 135.7h0M562.2 134.6h0M559.9 141.4h0" stroke="#d23c3c" stroke-width="1.75" stroke-linecap="round" fill="none"/>
<path d="M543.7 140.2h0M550.4 134.7h0M556.4 125.9h0M565.5 134.0h0M556.5 151.1h0" stroke="#e8e8e8" stroke-width="2.0" stroke-linecap="round" fill="none"/>
<path d="M547.2 141.9h0M548.9 131.5h0M551.6 136.5h0M558.1 139.2h0" stroke="#d23c3c" stroke-width="1.25" stroke-linecap="round" fill="none"/>
<path d="M538.0 129.2h0M555.6 127.2h0M557.3 131.5h0M558.8 120.0h0" stroke="#bbbbbb" stroke-width="1.25" stroke-linecap="round" fill="none"/>
<path d="M548.6 124.8h0M550.3 144.4h0M549.9 140.7h0M555.3 135.7h0M568.0 124.8h0M570.3 126.3h0M567.0 148.7h0" stroke="#ffffff" stroke-width="1.0" stroke-linecap="round" fill="none"/>
<path d="M550.2 143.5h0M557.2 125.3h0M561.5 143.1h0" stroke="#ffffff" stroke-width="1.5" stroke-linecap="round" fill="none"/>
<path d="M548.6 127.2h0M558.1 124.9h0M563.3 128.3h0M565.5 148.6h0M568.0 148.4h0" stroke="#e8e8e8" stroke-width="1.0" stroke-linecap="round" fill="none"/>
<path d="M547.4 137.1h0M554.1 131.6h0M556.0 139.0h0M557.8 119.9h0M565.3 149.2h0" stroke="#ff4632" stroke-width="2.0" stroke-linecap="round" fill="none"/>
<path d="M547.5 131.3h0M547.0 131.6h0M548.9 127.3h0M548.9 126.6h0M556.3 138.6h0" stroke="#bbbbbb" stroke-width="1.5" stroke-linecap="round" fill="none"/>
<path d="M553.7 136.5h0M563.7 133.7h0M557.3 153.1h0" stroke="#bbbbbb" stroke-width="1.0" stroke-linecap="round" fill="none"/>
<path d="M555.2 133.4h0" stroke="#ffffff" stroke-width="1.25" stroke-linecap="round" fill="none"/>
<path d="M556.8 122.8h0M564.5 132.7h0" stroke="#bbbbbb" stroke-width="2.0" stroke-linecap="round" fill="none"/>
<path d="M564.3 130.1h0M563.6 134.3h0" stroke="#d23c3c" stroke-width="2.0" stroke-linecap="round" fill="none"/>
<path d="M554.6 147.7h0M555.0 147.7h0M555.5 156.1h0M563.6 149.7h0" stroke="#d23c3c" stroke-width="1.25" stroke-linecap="round" fill="none"/>
<path d="M555.5 149.7h0M546.8 145.4h0M545.3 153.9h0M555.0 150.3h0M554.0 153.6h0M556.3 149.3h0M556.1 153.6h0M557.0 150.4h0M550.9 150.2h0" stroke="#d23c3c" stroke-width="2.25" stroke-linecap="round" fill="none"/>
<path d="M553.1 153.3h0M544.1 152.7h0" stroke="#ff6a5a" stroke-width="1.75" stroke-linecap="round" fill="none"/>
<path d="M551.7 145.0h0M548.6 152.1h0M556.6 156.0h0" stroke="#ffffff" stroke-width="1.25" stroke-linecap="round" fill="none"/>
<path d="M562.5 146.1h0M541.0 153.8h0M554.9 148.2h0M552.8 152.5h0M553.3 150.2h0" stroke="#d23c3c" stroke-width="1.5" stroke-linecap="round" fill="none"/>
<path d="M549.2 149.4h0M553.6 146.1h0" stroke="#ff4632" stroke-width="1.5" stroke-linecap="round" fill="none"/>
<path d="M560.0 148.8h0M555.4 144.9h0M549.8 152.0h0M553.4 148.7h0M557.9 148.0h0M552.0 151.7h0" stroke="#ff4632" stroke-width="2.25" stroke-linecap="round" fill="none"/>
<path d="M555.3 149.5h0M554.7 152.1h0" stroke="#ff4632" stroke-width="1.25" stroke-linecap="round" fill="none"/>
<path d="M556.7 146.3h0M552.5 153.1h0M553.7 152.1h0M556.8 153.9h0M548.0 145.4h0M552.6 146.3h0" stroke="#ffffff" stroke-width="2.25" stroke-linecap="round" fill="none"/>
<path d="M555.7 145.1h0M553.3 150.7h0M557.2 149.3h0" stroke="#ff6a5a" stroke-width="2.25" stroke-linecap="round" fill="none"/>
<path d="M554.5 152.0h0M553.7 150.8h0" stroke="#d23c3c" stroke-width="2.0" stroke-linecap="round" fill="none"/>
<path d="M536.5 154.0h0M550.5 156.7h0M558.7 152.3h0" stroke="#ffffff" stroke-width="1.5" stroke-linecap="round" fill="none"/>
<path d="M549.5 148.1h0M558.3 152.2h0M555.8 154.5h0" stroke="#ff6a5a" stroke-width="1.25" stroke-linecap="round" fill="none"/>
<path d="M546.4 152.2h0" stroke="#ffffff" stroke-width="1.75" stroke-linecap="round" fill="none"/>
<path d="M555.6 150.2h0" stroke="#d23c3c" stroke-width="2.5" stroke-linecap="round" fill="none"/>
<path d="M557.9 153.0h0M550.2 156.9h0" stroke="#ff4632" stroke-width="1.75" stroke-linecap="round" fill="none"/>
<path d="M560.6 154.9h0M551.8 154.8h0M552.5 158.3h0M555.7 149.6h0" stroke="#d23c3c" stroke-width="1.75" stroke-linecap="round" fill="none"/>
<path d="M546.9 147.3h0M552.5 149.5h0" stroke="#ffffff" stroke-width="2.0" stroke-linecap="round" fill="none"/>
<path d="M550.3 152.7h0M547.1 150.8h0M558.2 142.7h0M549.1 146.7h0" stroke="#ff6a5a" stroke-width="2.0" stroke-linecap="round" fill="none"/>
<path d="M555.1 143.9h0M549.7 150.7h0" stroke="#ffffff" stroke-width="1.0" stroke-linecap="round" fill="none"/>
<path d="M552.5 149.6h0M540.5 153.7h0" stroke="#ff4632" stroke-width="2.0" stroke-linecap="round" fill="none"/>
<path d="M550.1 149.3h0" stroke="#ff6a5a" stroke-width="1.5" stroke-linecap="round" fill="none"/>
<path d="M550.3 151.5h0" stroke="#ff4632" stroke-width="2.5" stroke-linecap="round" fill="none"/>
<path d="M553.5 162.0h0M552.8 165.3h0M550.1 176.3h0M552.1 171.6h0" stroke="#dddddd" stroke-width="2.0" stroke-linecap="round" fill="none"/>
<path d="M557.3 165.3h0M550.9 157.8h0" stroke="#ffffff" stroke-width="1.0" stroke-linecap="round" fill="none"/>
<path d="M556.9 161.3h0M553.3 169.5h0" stroke="#dddddd" stroke-width="1.25" stroke-linecap="round" fill="none"/>
<path d="M548.7 164.2h0M554.3 172.6h0" stroke="#ffffff" stroke-width="1.25" stroke-linecap="round" fill="none"/>
<path d="M548.7 157.2h0M549.9 170.5h0M550.9 156.7h0M546.8 172.6h0" stroke="#dddddd" stroke-width="1.5" stroke-linecap="round" fill="none"/>
<path d="M553.6 160.2h0M548.5 160.0h0M555.9 175.2h0" stroke="#dddddd" stroke-width="1.75" stroke-linecap="round" fill="none"/>
<path d="M553.2 157.6h0M552.0 166.1h0" stroke="#aaaaaa" stroke-width="1.0" stroke-linecap="round" fill="none"/>
<path d="M556.5 161.7h0M555.8 156.6h0M550.6 164.6h0" stroke="#dddddd" stroke-width="1.0" stroke-linecap="round" fill="none"/>
<path d="M552.1 157.8h0M553.3 175.2h0M552.3 161.9h0M559.2 168.9h0" stroke="#aaaaaa" stroke-width="1.25" stroke-linecap="round" fill="none"/>
<path d="M548.5 163.6h0M552.5 167.6h0M557.0 177.5h0" stroke="#aaaaaa" stroke-width="2.25" stroke-linecap="round" fill="none"/>
<path d="M554.5 172.8h0M548.8 166.1h0" stroke="#dddddd" stroke-width="2.25" stroke-linecap="round" fill="none"/>
<path d="M554.0 166.5h0M555.4 174.7h0" stroke="#ffffff" stroke-width="1.75" stroke-linecap="round" fill="none"/>
<path d="M553.1 176.4h0M556.5 166.2h0" stroke="#aaaaaa" stroke-width="1.5" stroke-linecap="round" fill="none"/>
<path d="M553.3 155.3h0" stroke="#ffffff" stroke-width="2.25" stroke-linecap="round" fill="none"/>
<path d="M552.2 156.3h0M549.5 154.4h0" stroke="#ffffff" stroke-width="2.0" stroke-linecap="round" fill="none"/>
<path d="M555.8 177.4h0M554.4 167.0h0" stroke="#aaaaaa" stroke-width="2.0" stroke-linecap="round" fill="none"/>
</g></g>
<g clip-path="url(#cpu2)"><g filter="url(#blur05)">
<path d="M617.0 168.3h0M612.6 169.5h0M616.1 168.5h0M612.8 169.2h0M608.3 174.7h0M614.3 155.8h0M612.5 146.9h0M621.8 148.5h0M595.4 132.5h0M593.6 129.8h0M616.6 122.3h0M613.7 137.1h0M619.1 144.2h0" stroke="#a0a0a0" stroke-width="1.0" stroke-linecap="round" fill="none"/>
<path d="M614.9 171.7h0M613.4 169.9h0M618.8 151.0h0M599.6 136.6h0M595.1 127.8h0M600.2 134.6h0M600.5 137.0h0M604.6 140.7h0M608.7 144.3h0M606.1 128.0h0M618.6 119.6h0M626.4 130.9h0M625.9 131.0h0M617.5 153.8h0M622.3 149.8h0" stroke="#888888" stroke-width="1.5" stroke-linecap="round" fill="none"/>
<path d="M614.1 176.7h0M615.1 164.8h0M614.5 179.4h0M610.7 166.3h0M610.2 152.5h0M604.9 147.2h0M601.9 138.2h0M607.1 126.7h0M606.8 122.1h0M606.4 134.1h0M612.4 143.0h0M629.2 128.2h0M619.2 140.8h0M624.6 134.6h0" stroke="#ffffff" stroke-width="1.75" stroke-linecap="round" fill="none"/>
<path d="M608.6 172.0h0M613.1 164.5h0M613.2 160.7h0M610.8 157.2h0M608.0 153.4h0M614.5 152.7h0M604.6 143.9h0M603.4 141.4h0M591.5 127.9h0M601.9 121.4h0M615.8 133.9h0M614.1 141.7h0M617.8 126.8h0M617.4 132.2h0M614.1 137.4h0M627.7 148.6h0" stroke="#888888" stroke-width="1.25" stroke-linecap="round" fill="none"/>
<path d="M609.9 172.7h0M607.4 162.3h0M615.4 165.0h0M607.4 158.1h0M614.5 147.5h0M617.7 153.7h0M610.2 152.9h0M608.1 137.9h0M617.7 141.9h0M619.9 140.0h0M620.7 151.5h0" stroke="#ffffff" stroke-width="1.5" stroke-linecap="round" fill="none"/>
<path d="M618.2 169.8h0M615.4 168.4h0M609.3 163.9h0M616.7 152.5h0M604.2 140.3h0M593.7 129.0h0M608.7 127.2h0M608.6 134.4h0M616.9 126.6h0M613.8 134.8h0M623.0 134.3h0M623.8 136.6h0M624.3 132.4h0" stroke="#a0a0a0" stroke-width="1.25" stroke-linecap="round" fill="none"/>
<path d="M608.7 173.9h0M609.6 173.2h0M615.3 149.0h0M614.5 149.6h0M602.4 137.9h0M592.7 126.8h0M603.4 118.6h0M601.7 120.1h0M610.5 141.9h0M616.4 128.4h0M618.7 131.0h0M617.8 144.9h0" stroke="#888888" stroke-width="1.0" stroke-linecap="round" fill="none"/>
<path d="M608.6 168.3h0M610.4 175.4h0M611.6 162.3h0M611.7 167.5h0M608.0 143.8h0M609.4 133.4h0M604.9 123.3h0M605.8 121.5h0M624.7 135.5h0M629.3 148.4h0" stroke="#d2d2d2" stroke-width="1.25" stroke-linecap="round" fill="none"/>
<path d="M617.0 168.1h0M616.1 173.9h0M608.8 150.1h0M603.8 155.5h0M608.0 143.2h0M609.7 139.9h0M620.3 140.0h0M627.8 126.9h0M619.6 151.1h0M625.4 148.7h0" stroke="#e8e8e8" stroke-width="1.5" stroke-linecap="round" fill="none"/>
<path d="M614.8 172.1h0M616.8 173.1h0M613.5 170.9h0M613.0 141.9h0M615.1 138.4h0M617.3 125.1h0M619.6 143.9h0M622.2 137.7h0M631.6 125.3h0M618.7 139.7h0" stroke="#d2d2d2" stroke-width="1.5" stroke-linecap="round" fill="none"/>
<path d="M609.8 158.5h0M598.9 134.8h0M617.8 121.8h0M631.0 126.1h0M628.0 127.2h0M616.9 144.2h0M621.0 151.2h0" stroke="#ffffff" stroke-width="1.25" stroke-linecap="round" fill="none"/>
<path d="M613.4 170.4h0M612.3 161.8h0M616.4 168.3h0M612.5 158.4h0M599.4 136.9h0M606.5 146.3h0M599.1 134.4h0M609.3 138.9h0M605.5 131.3h0M612.2 135.5h0M613.3 128.2h0" stroke="#a0a0a0" stroke-width="1.75" stroke-linecap="round" fill="none"/>
<path d="M610.9 169.4h0M613.5 173.5h0M611.1 156.5h0M599.6 134.9h0M602.6 119.5h0M604.0 130.6h0M615.0 131.1h0M622.2 136.0h0M622.1 150.2h0M626.8 147.1h0" stroke="#ffffff" stroke-width="1.0" stroke-linecap="round" fill="none"/>
<path d="M608.4 161.2h0M611.2 158.2h0M613.4 146.1h0M606.2 156.1h0M607.6 152.2h0M606.5 154.1h0M617.5 122.1h0M624.4 133.4h0" stroke="#e8e8e8" stroke-width="1.0" stroke-linecap="round" fill="none"/>
<path d="M606.5 172.2h0M609.2 149.9h0M616.1 145.9h0M607.6 142.9h0M603.0 120.5h0M608.8 140.6h0M606.5 137.1h0M614.5 144.0h0M616.5 123.3h0" stroke="#d2d2d2" stroke-width="1.0" stroke-linecap="round" fill="none"/>
<path d="M611.1 164.0h0M607.5 152.5h0M609.0 151.1h0M593.2 129.2h0M606.7 136.2h0M610.1 141.0h0M614.2 142.6h0M617.1 121.1h0M629.3 125.6h0" stroke="#e8e8e8" stroke-width="1.25" stroke-linecap="round" fill="none"/>
<path d="M612.8 170.4h0M607.2 137.2h0M611.5 136.1h0M601.7 120.8h0M616.2 126.8h0M618.1 131.6h0M624.8 149.3h0M615.9 153.5h0" stroke="#a0a0a0" stroke-width="1.5" stroke-linecap="round" fill="none"/>
<path d="M611.8 168.2h0M613.1 151.3h0M611.6 144.1h0M606.7 135.2h0M617.7 123.4h0M614.4 137.7h0M620.6 149.7h0M619.0 152.2h0" stroke="#e8e8e8" stroke-width="1.75" stroke-linecap="round" fill="none"/>
<path d="M610.7 149.1h0" stroke="#a0a0a0" stroke-width="2.0" stroke-linecap="round" fill="none"/>
<path d="M612.5 144.6h0M614.0 154.8h0M612.7 152.4h0M616.5 154.1h0M606.6 144.9h0M594.4 130.2h0M603.8 125.4h0M619.0 121.9h0M617.0 128.8h0M626.3 133.2h0M617.6 151.7h0M627.1 149.3h0" stroke="#d2d2d2" stroke-width="1.75" stroke-linecap="round" fill="none"/>
<path d="M596.8 131.6h0M598.6 136.8h0M597.4 132.4h0M605.0 127.4h0M624.3 134.1h0M613.1 145.9h0M623.9 131.3h0" stroke="#888888" stroke-width="1.75" stroke-linecap="round" fill="none"/>
<path d="M617.1 136.1h0M616.1 131.9h0M614.2 137.6h0" stroke="#888888" stroke-width="2.0" stroke-linecap="round" fill="none"/>
</g></g>
<polyline points="468,162 468,174 480,174" fill="none" stroke="#ddd" stroke-width="0.8"/>
<text x="470" y="169" font-size="7" fill="#eee" font-weight="normal" text-anchor="start" font-family='"Liberation Sans", sans-serif'  style="">y</text>
<text x="480" y="172.5" font-size="7" fill="#eee" font-weight="normal" text-anchor="start" font-family='"Liberation Sans", sans-serif'  style="">x</text>
<line x1="495.7" y1="130.4" x2="505.3" y2="130.4" stroke="#5ac85a" stroke-width="0.8" stroke-dasharray="2 1.5"/>
<text x="506.7" y="134" font-size="8" fill="#5ac85a" font-weight="normal" text-anchor="start" font-family='"Liberation Sans", sans-serif'  style="">b1</text>
<line x1="480.5" y1="162" x2="502.6" y2="162" stroke="#5ac85a" stroke-width="0.8" stroke-dasharray="2 1.5"/>
<text x="505.3" y="165.5" font-size="8" fill="#5ac85a" font-weight="normal" text-anchor="start" font-family='"Liberation Sans", sans-serif'  style="">b2</text>
<line x1="546.6" y1="137.8" x2="561.8" y2="137.8" stroke="#5ac85a" stroke-width="0.8" stroke-dasharray="2 1.5"/>
<text x="563.7" y="141.3" font-size="8" fill="#5ac85a" font-weight="normal" text-anchor="start" font-family='"Liberation Sans", sans-serif'  style="">b1</text>
<line x1="543.9" y1="158" x2="565.9" y2="158" stroke="#5ac85a" stroke-width="0.8" stroke-dasharray="2 1.5"/>
<text x="568.7" y="161.5" font-size="8" fill="#5ac85a" font-weight="normal" text-anchor="start" font-family='"Liberation Sans", sans-serif'  style="">b2</text>
<text x="598" y="139.5" font-size="8" fill="#5ac85a" font-weight="normal" text-anchor="start" font-family='"Liberation Sans", sans-serif'  style="">b1</text>
<line x1="607" y1="136" x2="618" y2="136" stroke="#5ac85a" stroke-width="0.8" stroke-dasharray="2 1.5"/>
<line x1="599" y1="162.6" x2="623.8" y2="162.6" stroke="#5ac85a" stroke-width="0.8" stroke-dasharray="2 1.5"/>
<text x="626.5" y="166" font-size="8" fill="#5ac85a" font-weight="normal" text-anchor="start" font-family='"Liberation Sans", sans-serif'  style="">b2</text>
<rect x="466.5" y="176.5" width="52.5" height="6.5" fill="none" stroke="#e05050" stroke-width="0.7" stroke-dasharray="1 1"/>
<rect x="528.5" y="176.5" width="52.5" height="6.5" fill="none" stroke="#e05050" stroke-width="0.7" stroke-dasharray="1 1"/>
<rect x="590.5" y="176.5" width="52.5" height="6.5" fill="none" stroke="#e05050" stroke-width="0.7" stroke-dasharray="1 1"/>
<rect x="466" y="183.5" width="53.5" height="27" fill="#060303"/>
<rect x="466" y="211.5" width="53.5" height="26" fill="#060303"/>
<rect x="528" y="183.5" width="53.5" height="27" fill="#060303"/>
<rect x="528" y="211.5" width="53.5" height="26" fill="#060303"/>
<rect x="590" y="183.5" width="53.5" height="27" fill="#060303"/>
<rect x="590" y="211.5" width="53.5" height="26" fill="#060303"/>
<g clip-path="url(#cb10)" filter="url(#blur05)">
<path d="M499.2 193.2l1.0 0.0M497.2 191.1l0.9 0.0M493.4 192.0l0.9 0.0M496.9 193.2l0.8 0.0M496.4 191.7l0.5 0.0M495.5 192.3l0.9 0.0M493.0 189.8l0.7 0.0" stroke="#e04040" stroke-width="1.0" stroke-linecap="round" fill="none"/>
<path d="M499.4 193.0l0.8 0.0M496.2 190.8l0.5 0.0M491.0 192.4l0.5 0.0M501.1 191.6l1.0 0.0M494.8 189.7l1.0 0.0M492.2 191.0l1.0 0.0M491.2 192.9l0.8 0.0M497.1 189.8l0.9 0.0" stroke="#ff7060" stroke-width="1.0" stroke-linecap="round" fill="none"/>
<path d="M495.0 193.7l0.9 0.0M491.8 191.3l0.8 0.0M497.2 189.3l0.7 0.0" stroke="#ffffff" stroke-width="1.0" stroke-linecap="round" fill="none"/>
<path d="M496.6 191.2l0.5 0.0M501.1 190.8l0.8 0.0M498.0 192.5l1.0 0.0M493.9 193.3l1.1 0.0M492.2 191.8l1.1 0.0M492.6 190.6l0.6 0.0M495.8 191.8l0.6 0.0M495.9 193.3l1.2 0.0M492.1 193.4l1.0 0.0M495.9 191.4l1.0 0.0M499.6 191.0l0.8 0.0M495.4 191.6l0.9 0.0M493.3 191.2l0.6 0.0" stroke="#dddddd" stroke-width="1.0" stroke-linecap="round" fill="none"/>
<path d="M499.1 190.9l1.1 0.0M499.9 192.6l0.6 0.0M493.2 193.2l1.1 0.0M495.0 192.5l0.7 0.0" stroke="#f0c0c0" stroke-width="1.0" stroke-linecap="round" fill="none"/>
<path d="M502.3 198.9l0.5 0.0M491.2 199.1l0.7 0.0M494.4 200.4l0.9 0.0M497.8 199.5l0.9 0.0M495.0 200.5l1.1 0.0M497.0 199.3l1.1 0.0M499.6 200.0l0.7 0.0M501.7 200.6l0.5 0.0M496.4 199.8l0.7 0.0M494.5 201.0l0.7 0.0" stroke="#ffffff" stroke-width="1.0" stroke-linecap="round" fill="none"/>
<path d="M493.6 200.2l1.1 0.0M501.1 199.5l1.1 0.0M500.3 199.5l0.8 0.0" stroke="#bbbbbb" stroke-width="1.0" stroke-linecap="round" fill="none"/>
<path d="M495.7 200.5l0.5 0.0M489.9 200.5l0.6 0.0M495.7 199.8l0.7 0.0M491.4 199.4l0.9 0.0M492.4 199.6l0.7 0.0M496.6 198.2l0.5 0.0M495.7 198.7l0.7 0.0M493.7 200.1l1.2 0.0M495.2 199.5l0.9 0.0" stroke="#dddddd" stroke-width="1.0" stroke-linecap="round" fill="none"/>
<path d="M498.3 198.5l1.2 0.0M496.4 198.2l1.2 0.0M498.7 201.1l1.0 0.0M493.7 198.6l0.7 0.0M489.2 199.5l0.7 0.0M499.4 198.6l0.9 0.0M499.4 198.3l1.0 0.0M493.0 201.5l1.0 0.0" stroke="#999999" stroke-width="1.0" stroke-linecap="round" fill="none"/>
<path d="M498.7 204.5l1.1 0.0M498.0 202.6l0.8 0.0M498.2 204.0l1.5 0.0M498.4 203.8l1.4 0.0M498.1 203.3l1.4 0.0M495.7 201.9l1.1 0.0M498.2 204.6l1.3 0.0M495.6 203.9l1.2 0.0" stroke="#3ca0f0" stroke-width="1.0" stroke-linecap="round" fill="none"/>
<path d="M496.0 202.6l1.1 0.0M498.4 201.4l0.8 0.0M496.0 204.1l1.1 0.0M499.3 202.6l0.9 0.0M495.5 202.0l1.3 0.0M500.5 201.4l1.3 0.0" stroke="#2a8ce0" stroke-width="1.0" stroke-linecap="round" fill="none"/>
</g>
<g clip-path="url(#cb11)" filter="url(#blur05)">
<path d="M552.8 193.8l0.8 0.0M547.7 192.8l1.0 0.0M555.3 193.0l0.8 0.0M550.4 192.2l0.7 0.0M551.9 194.1l0.8 0.0M557.1 193.0l0.8 0.0" stroke="#f0c0c0" stroke-width="1.0" stroke-linecap="round" fill="none"/>
<path d="M553.3 193.2l0.9 0.0M549.1 194.7l1.1 0.0M553.7 195.3l1.1 0.0M553.5 192.0l0.7 0.0M552.9 192.8l0.7 0.0M551.7 194.6l0.7 0.0M553.2 192.5l0.5 0.0M552.5 191.6l0.9 0.0M557.1 191.5l1.0 0.0M554.0 193.0l0.6 0.0" stroke="#e04040" stroke-width="1.0" stroke-linecap="round" fill="none"/>
<path d="M554.3 190.9l0.7 0.0M556.5 194.0l1.0 0.0M552.7 194.2l0.7 0.0M555.1 191.5l0.8 0.0M553.9 193.4l0.7 0.0M552.7 194.9l0.6 0.0M552.0 191.1l1.2 0.0" stroke="#dddddd" stroke-width="1.0" stroke-linecap="round" fill="none"/>
<path d="M550.1 191.8l0.6 0.0M555.6 193.2l1.2 0.0" stroke="#ff7060" stroke-width="1.0" stroke-linecap="round" fill="none"/>
<path d="M552.4 193.4l0.7 0.0M556.1 191.2l1.0 0.0M550.3 193.5l0.5 0.0" stroke="#ffffff" stroke-width="1.0" stroke-linecap="round" fill="none"/>
<path d="M548.5 199.2l1.1 0.0M555.7 198.8l0.7 0.0M552.1 202.7l1.1 0.0M550.0 201.2l0.7 0.0M549.4 202.7l0.5 0.0M551.1 198.7l1.2 0.0M548.7 201.5l0.5 0.0" stroke="#ffffff" stroke-width="1.0" stroke-linecap="round" fill="none"/>
<path d="M554.4 200.4l0.8 0.0M551.1 201.7l0.7 0.0M552.6 201.1l1.1 0.0M553.6 198.1l0.6 0.0M551.0 203.9l0.9 0.0M551.5 202.7l0.6 0.0M553.9 199.4l0.6 0.0M551.5 201.5l0.8 0.0" stroke="#dddddd" stroke-width="1.0" stroke-linecap="round" fill="none"/>
<path d="M550.1 201.7l1.1 0.0M555.8 203.3l0.6 0.0M555.3 203.7l0.6 0.0M554.5 199.1l0.7 0.0M556.3 200.4l0.8 0.0M546.5 200.8l0.7 0.0M555.3 201.0l0.5 0.0M548.8 199.1l0.6 0.0M546.2 201.9l1.1 0.0M551.6 202.8l0.6 0.0M554.8 199.0l0.6 0.0" stroke="#999999" stroke-width="1.0" stroke-linecap="round" fill="none"/>
<path d="M548.2 199.6l0.5 0.0M552.6 198.1l1.2 0.0M556.8 202.6l1.1 0.0M558.9 201.7l0.6 0.0M548.8 200.9l0.6 0.0M556.9 200.0l0.7 0.0M550.5 203.5l0.9 0.0M558.1 201.5l0.7 0.0M557.9 200.4l0.7 0.0" stroke="#bbbbbb" stroke-width="1.0" stroke-linecap="round" fill="none"/>
</g>
<g clip-path="url(#cb12)" filter="url(#blur05)">
<path d="M613.7 189.9l0.8 0.0M614.2 196.6l0.9 0.0M613.6 200.9l1.1 0.0M611.8 197.8l1.1 0.0M611.4 196.7l0.6 0.0M613.2 196.9l1.1 0.0M611.1 193.4l0.8 0.0M613.2 198.7l1.0 0.0M615.9 196.6l0.7 0.0M613.9 200.6l0.7 0.0M613.4 194.6l0.6 0.0M609.5 191.5l0.6 0.0" stroke="#bbbbbb" stroke-width="1.0" stroke-linecap="round" fill="none"/>
<path d="M612.3 196.9l0.8 0.0M611.3 194.9l1.1 0.0M615.4 199.8l0.7 0.0M613.9 201.4l0.8 0.0M612.2 200.8l0.8 0.0M614.5 197.5l0.8 0.0M608.4 197.5l0.9 0.0" stroke="#dddddd" stroke-width="1.0" stroke-linecap="round" fill="none"/>
<path d="M612.2 191.5l0.9 0.0M608.6 196.5l0.6 0.0M611.0 198.3l0.9 0.0M614.9 198.6l1.1 0.0M608.9 197.1l0.8 0.0M612.2 193.2l1.1 0.0M609.5 191.2l0.6 0.0M611.7 192.9l0.7 0.0M616.1 192.4l0.8 0.0" stroke="#ffffff" stroke-width="1.0" stroke-linecap="round" fill="none"/>
<path d="M610.9 191.3l0.6 0.0M610.3 199.6l0.7 0.0M615.2 197.5l1.0 0.0M615.3 192.4l1.1 0.0M613.3 191.8l0.6 0.0M616.9 195.2l0.8 0.0M612.0 191.1l0.9 0.0M610.8 201.1l1.2 0.0M611.7 192.6l1.0 0.0M611.3 192.1l1.2 0.0M610.3 193.0l1.0 0.0M611.7 194.4l0.6 0.0" stroke="#999999" stroke-width="1.0" stroke-linecap="round" fill="none"/>
</g>
<g clip-path="url(#cb20)" filter="url(#blur05)">
<path d="M489.4 218.6l1.3 0.0M481.7 226.0l0.7 0.0M491.1 219.2l0.7 0.0M501.6 219.8l1.1 0.0M482.5 224.0l0.9 0.0M488.3 219.8l1.3 0.0M499.7 219.3l0.9 0.0M499.7 219.9l1.3 0.0M495.4 219.9l1.3 0.0M507.2 226.3l1.1 0.0M507.2 225.9l0.8 0.0M501.6 220.3l1.3 0.0M485.9 221.7l1.4 0.0M485.9 222.0l1.6 0.0M493.7 219.0l1.5 0.0M480.9 227.6l1.4 0.0M485.1 222.3l1.4 0.0M489.5 219.6l1.2 0.0M505.3 222.5l0.8 0.0" stroke="#e03030" stroke-width="1.0" stroke-linecap="round" fill="none"/>
<path d="M503.4 221.0l1.2 0.0M495.8 217.3l1.2 0.0M481.8 225.0l1.2 0.0M496.3 219.2l0.7 0.0M493.5 219.8l1.0 0.0M497.5 217.6l1.2 0.0M482.3 226.3l0.7 0.0M491.6 220.1l1.1 0.0M503.8 221.5l0.9 0.0M492.1 218.3l1.2 0.0M482.3 224.1l0.8 0.0M483.7 224.3l0.7 0.0M493.8 219.1l1.2 0.0M500.0 219.2l1.0 0.0M498.1 219.5l1.5 0.0M502.9 222.8l1.4 0.0M503.9 221.4l1.0 0.0M491.5 220.2l1.4 0.0M498.8 218.9l1.2 0.0M495.2 219.8l1.1 0.0M499.0 220.4l1.2 0.0M502.0 221.6l1.5 0.0" stroke="#ff6050" stroke-width="1.0" stroke-linecap="round" fill="none"/>
<path d="M498.3 219.4l0.7 0.0M490.0 219.0l1.1 0.0M482.0 226.1l1.3 0.0M506.7 225.1l1.3 0.0M492.8 218.7l1.6 0.0M485.5 221.5l0.9 0.0M493.0 219.7l1.6 0.0M491.6 218.6l1.1 0.0M504.2 224.4l1.1 0.0M482.7 226.0l1.4 0.0M508.2 225.8l1.2 0.0M502.8 220.8l1.5 0.0M494.6 219.3l1.0 0.0M503.7 221.2l1.4 0.0M495.6 218.6l0.6 0.0" stroke="#f0a0a0" stroke-width="1.0" stroke-linecap="round" fill="none"/>
<path d="M488.7 219.0l0.7 0.0M497.7 219.0l1.2 0.0M502.8 222.2l0.9 0.0M495.0 219.6l1.4 0.0M507.3 224.9l1.2 0.0M504.7 222.6l1.1 0.0M505.1 223.9l0.8 0.0M489.0 218.7l1.4 0.0M490.4 218.4l1.2 0.0M502.7 221.4l0.8 0.0M492.7 219.9l1.7 0.0M482.7 223.6l1.1 0.0M493.7 217.6l1.5 0.0M503.7 221.5l0.9 0.0" stroke="#ffffff" stroke-width="1.0" stroke-linecap="round" fill="none"/>
<path d="M488.8 226.3l0.7 0.0M494.6 221.6l1.5 0.0M486.0 226.1l0.9 0.0M490.6 223.2l0.9 0.0M487.6 225.6l0.8 0.0M488.2 226.1l0.9 0.0M493.2 223.0l0.9 0.0M487.5 227.2l1.1 0.0M496.4 223.6l1.1 0.0M488.2 225.3l0.7 0.0" stroke="#ffffff" stroke-width="1.0" stroke-linecap="round" fill="none"/>
<path d="M485.1 227.2l1.7 0.0M494.6 222.9l1.6 0.0M497.6 223.0l0.6 0.0M489.8 223.5l1.6 0.0M499.4 225.2l1.5 0.0M501.8 226.6l1.6 0.0M491.5 224.5l0.9 0.0M487.0 227.6l1.1 0.0M506.2 228.6l0.6 0.0M488.5 226.3l0.6 0.0M487.9 224.5l1.5 0.0M492.1 221.8l1.4 0.0M502.2 226.1l1.7 0.0M495.0 222.0l1.0 0.0" stroke="#dddddd" stroke-width="1.0" stroke-linecap="round" fill="none"/>
<path d="M492.6 221.4l1.1 0.0M494.5 223.3l1.4 0.0M485.7 228.6l1.0 0.0M486.9 227.5l1.1 0.0M489.6 224.0l1.0 0.0M501.6 225.0l1.5 0.0M504.2 226.7l1.2 0.0M491.8 224.6l0.6 0.0M500.2 224.1l0.7 0.0" stroke="#999999" stroke-width="1.0" stroke-linecap="round" fill="none"/>
<path d="M494.2 223.8l1.4 0.0M487.0 226.5l1.2 0.0M484.1 229.9l1.4 0.0M491.5 223.8l0.7 0.0M500.0 224.2l0.6 0.0M483.4 230.6l1.6 0.0M504.9 229.8l0.8 0.0" stroke="#bbbbbb" stroke-width="1.0" stroke-linecap="round" fill="none"/>
<path d="M488.1 227.6l0.9 0.0M490.2 228.8l0.9 0.0M489.6 224.2l1.3 0.0M489.1 231.0l0.9 0.0M490.1 228.7l1.3 0.0M489.5 226.9l1.3 0.0M490.5 225.8l0.8 0.0M488.5 226.5l0.8 0.0M488.9 225.9l1.2 0.0" stroke="#2a8ce0" stroke-width="1.0" stroke-linecap="round" fill="none"/>
<path d="M488.5 229.6l1.2 0.0M487.7 225.8l0.8 0.0M490.4 230.8l1.5 0.0M490.5 226.0l1.0 0.0M491.0 224.5l1.4 0.0M489.9 226.3l1.1 0.0M491.0 230.2l1.2 0.0" stroke="#3ca0f0" stroke-width="1.0" stroke-linecap="round" fill="none"/>
</g>
<g clip-path="url(#cb21)" filter="url(#blur05)">
<path d="M557.7 220.4l1.2 0.0M554.3 220.5l0.9 0.0M553.0 221.7l0.9 0.0M561.6 222.0l0.7 0.0M553.3 219.3l1.2 0.0M544.3 224.1l1.0 0.0M543.3 225.5l0.7 0.0M553.9 221.1l0.8 0.0M567.2 223.5l0.9 0.0M547.2 221.6l1.0 0.0M551.8 221.9l1.3 0.0M553.5 219.3l1.0 0.0M552.7 221.1l1.6 0.0M563.4 221.6l0.6 0.0M540.3 225.7l0.9 0.0M570.7 226.3l1.3 0.0M558.7 222.0l1.6 0.0M550.6 220.7l1.1 0.0M559.1 220.2l0.8 0.0M546.2 223.4l1.6 0.0M551.8 220.3l1.6 0.0M557.6 221.7l1.0 0.0" stroke="#ff6050" stroke-width="1.0" stroke-linecap="round" fill="none"/>
<path d="M540.8 226.5l0.7 0.0M546.7 221.5l1.6 0.0M546.8 222.8l0.6 0.0M568.1 223.8l1.2 0.0M550.8 220.7l1.5 0.0M553.9 221.3l0.8 0.0M555.7 219.8l1.1 0.0M558.2 219.5l1.2 0.0M562.3 220.6l1.5 0.0M556.0 221.4l1.4 0.0M564.0 221.4l1.5 0.0" stroke="#ffffff" stroke-width="1.0" stroke-linecap="round" fill="none"/>
<path d="M540.8 227.4l1.3 0.0M564.0 221.8l1.3 0.0M570.9 226.1l1.0 0.0M564.4 222.6l1.0 0.0M563.1 223.5l0.9 0.0M558.7 219.5l1.1 0.0M556.8 220.5l0.8 0.0M542.6 224.6l1.7 0.0M543.7 225.2l1.5 0.0M550.2 220.5l1.5 0.0M559.8 221.3l1.5 0.0M561.1 220.9l1.7 0.0M543.4 225.5l0.6 0.0M559.4 220.3l1.4 0.0M550.4 220.5l1.6 0.0M564.9 222.8l1.5 0.0M540.0 226.5l1.0 0.0" stroke="#f0a0a0" stroke-width="1.0" stroke-linecap="round" fill="none"/>
<path d="M570.7 227.0l0.6 0.0M566.5 225.2l0.9 0.0M555.2 221.5l1.3 0.0M542.4 226.4l1.5 0.0M562.7 223.0l0.7 0.0M545.3 223.6l1.1 0.0M541.9 225.4l0.7 0.0M549.1 221.7l1.5 0.0M557.4 222.1l1.6 0.0M567.2 224.8l1.2 0.0" stroke="#e03030" stroke-width="1.0" stroke-linecap="round" fill="none"/>
<path d="M553.8 224.7l1.6 0.0M554.2 225.6l0.8 0.0M546.4 226.4l0.6 0.0M559.5 225.1l1.3 0.0M547.1 228.1l0.7 0.0M548.1 225.1l0.7 0.0M570.0 231.9l1.1 0.0M558.5 224.4l1.1 0.0M545.1 228.2l1.2 0.0M543.8 228.8l0.9 0.0M564.3 228.2l1.0 0.0M566.3 228.4l1.3 0.0M552.0 225.6l1.2 0.0M556.1 225.3l1.0 0.0" stroke="#999999" stroke-width="1.0" stroke-linecap="round" fill="none"/>
<path d="M559.5 225.9l0.7 0.0M561.8 225.2l0.9 0.0M564.0 226.0l0.7 0.0M544.1 228.4l0.8 0.0M548.1 227.1l1.3 0.0M543.2 228.1l1.1 0.0M558.1 226.0l1.1 0.0M559.4 226.5l1.6 0.0M555.1 224.8l1.6 0.0M555.4 223.7l1.0 0.0M566.8 228.2l1.2 0.0" stroke="#bbbbbb" stroke-width="1.0" stroke-linecap="round" fill="none"/>
<path d="M544.5 228.2l1.6 0.0M559.4 225.9l0.7 0.0M560.0 224.9l1.2 0.0M541.5 230.9l0.7 0.0M565.6 227.5l1.7 0.0M566.3 229.6l1.3 0.0M546.6 226.5l1.5 0.0M541.7 229.3l1.1 0.0M563.7 226.1l0.9 0.0M542.6 228.7l1.3 0.0M566.9 228.9l1.1 0.0M547.1 226.7l1.5 0.0M549.0 227.1l0.8 0.0M542.6 229.4l0.9 0.0M561.7 227.0l0.6 0.0M555.0 225.2l1.0 0.0M567.5 230.1l1.1 0.0M552.0 223.4l0.7 0.0M554.3 224.7l1.2 0.0M550.0 224.3l0.6 0.0M546.8 225.8l1.0 0.0" stroke="#ffffff" stroke-width="1.0" stroke-linecap="round" fill="none"/>
<path d="M558.3 224.4l1.1 0.0M550.4 225.6l0.8 0.0M570.1 230.7l0.7 0.0M540.6 230.8l1.6 0.0M545.8 227.6l1.1 0.0M565.5 226.5l1.0 0.0M549.7 224.7l1.3 0.0M555.8 225.8l1.7 0.0M545.7 227.0l1.2 0.0M560.1 225.8l1.2 0.0M542.6 229.7l1.4 0.0M567.5 228.5l0.8 0.0M546.2 226.8l1.5 0.0M561.9 227.1l0.9 0.0" stroke="#dddddd" stroke-width="1.0" stroke-linecap="round" fill="none"/>
</g>
<g clip-path="url(#cb22)" filter="url(#blur05)">
<path d="M611.5 223.7l1.3 0.0M618.9 224.6l1.2 0.0M628.8 229.8l1.0 0.0M627.7 227.8l1.1 0.0M599.4 226.7l1.0 0.0M611.6 224.9l1.1 0.0M611.4 223.2l0.8 0.0M601.5 227.5l1.2 0.0M616.2 225.4l1.7 0.0M617.3 223.2l0.8 0.0M600.9 226.5l1.3 0.0M611.3 224.2l0.7 0.0M621.3 225.3l1.6 0.0M614.1 221.3l1.5 0.0M601.1 227.5l0.9 0.0M616.0 221.8l1.4 0.0M609.6 224.4l1.5 0.0M615.4 223.6l1.5 0.0" stroke="#dddddd" stroke-width="1.0" stroke-linecap="round" fill="none"/>
<path d="M608.4 225.4l1.1 0.0M623.4 226.9l0.8 0.0M614.5 223.1l0.7 0.0M613.0 222.5l1.0 0.0M617.1 222.5l1.2 0.0M612.0 222.4l1.4 0.0M604.9 226.3l1.2 0.0M621.2 224.8l1.2 0.0M625.9 229.4l1.6 0.0M619.7 223.2l0.9 0.0M616.6 222.0l1.2 0.0M605.9 222.9l1.3 0.0M607.9 221.7l1.1 0.0M611.9 221.2l1.3 0.0M628.0 229.4l1.5 0.0M609.1 224.1l1.5 0.0M607.4 224.6l1.0 0.0M626.1 228.5l0.8 0.0M600.7 226.0l0.6 0.0M609.6 223.7l0.9 0.0M610.6 223.2l1.3 0.0M612.6 223.5l1.1 0.0M618.8 226.0l1.4 0.0" stroke="#999999" stroke-width="1.0" stroke-linecap="round" fill="none"/>
<path d="M597.7 230.5l0.7 0.0M617.4 222.0l0.8 0.0M607.4 223.1l1.4 0.0M621.3 223.9l0.7 0.0M626.6 226.5l0.9 0.0M596.1 229.5l1.5 0.0M619.5 223.2l0.9 0.0M596.7 228.1l0.6 0.0M614.2 223.6l1.6 0.0M622.3 226.0l1.0 0.0M618.9 222.7l0.7 0.0M605.7 224.4l0.8 0.0M617.9 225.7l1.2 0.0M610.1 222.6l1.0 0.0M608.4 224.9l1.6 0.0M601.3 225.3l0.9 0.0M613.0 221.2l1.5 0.0M628.6 232.0l1.4 0.0M624.7 228.6l0.6 0.0M596.0 229.0l1.4 0.0M611.0 222.4l1.3 0.0M622.5 225.4l1.3 0.0" stroke="#bbbbbb" stroke-width="1.0" stroke-linecap="round" fill="none"/>
<path d="M618.8 225.2l0.7 0.0M613.7 224.6l1.2 0.0M618.1 223.8l1.3 0.0M596.4 231.4l1.1 0.0M603.0 225.2l1.0 0.0M596.8 229.0l1.0 0.0M625.9 226.6l0.9 0.0M609.8 222.2l1.1 0.0M613.7 224.2l1.0 0.0M615.2 221.5l1.0 0.0M603.3 224.5l1.6 0.0M603.2 225.6l0.9 0.0M623.5 225.4l1.6 0.0M628.8 231.5l1.2 0.0M614.2 224.9l1.0 0.0M624.2 225.2l0.7 0.0M596.4 230.8l1.2 0.0" stroke="#ffffff" stroke-width="1.0" stroke-linecap="round" fill="none"/>
</g>
<text x="592" y="191.0" font-size="7.5" fill="#5ac85a" font-weight="normal" text-anchor="start" font-family='"Liberation Sans", sans-serif'  style=""></text>
<text x="592" y="219.0" font-size="7.5" fill="#5ac85a" font-weight="normal" text-anchor="start" font-family='"Liberation Sans", sans-serif'  style=""></text>
<text x="467.5" y="191" font-size="8" fill="#5ac85a" font-weight="normal" text-anchor="start" font-family='"Liberation Sans", sans-serif'  style="">b1</text>
<text x="467.5" y="219" font-size="8" fill="#5ac85a" font-weight="normal" text-anchor="start" font-family='"Liberation Sans", sans-serif'  style="">b2</text>
<text x="529.5" y="191" font-size="8" fill="#5ac85a" font-weight="normal" text-anchor="start" font-family='"Liberation Sans", sans-serif'  style="">b1</text>
<text x="529.5" y="219" font-size="8" fill="#5ac85a" font-weight="normal" text-anchor="start" font-family='"Liberation Sans", sans-serif'  style="">b2</text>
<text x="591.5" y="191" font-size="8" fill="#5ac85a" font-weight="normal" text-anchor="start" font-family='"Liberation Sans", sans-serif'  style="">b1</text>
<text x="591.5" y="219" font-size="8" fill="#5ac85a" font-weight="normal" text-anchor="start" font-family='"Liberation Sans", sans-serif'  style="">b2</text>
<path d="M510,186 L505,190" stroke="#f0dc28" stroke-width="1.6"/>
<polygon points="503,191.5 507.5,187.5 504.2,187" fill="#f0dc28"/>
<path d="M506,212 L501,216" stroke="#f0dc28" stroke-width="1.6"/>
<polygon points="499,217.5 503.5,213.5 500.2,213" fill="#f0dc28"/>
<polyline points="468,192.5 468,207.0 481,207.0" fill="none" stroke="#ddd" stroke-width="0.8"/>
<text x="470.5" y="201.0" font-size="7" fill="#eee" font-weight="normal" text-anchor="start" font-family='"Liberation Sans", sans-serif'  style="">z</text>
<text x="481" y="208.0" font-size="6.5" fill="#eee" font-weight="normal" text-anchor="start" font-family='"Liberation Sans", sans-serif'  style="">x</text>
<polyline points="468,220.5 468,235.0 481,235.0" fill="none" stroke="#ddd" stroke-width="0.8"/>
<text x="470.5" y="229.0" font-size="7" fill="#eee" font-weight="normal" text-anchor="start" font-family='"Liberation Sans", sans-serif'  style="">z</text>
<text x="481" y="236.0" font-size="6.5" fill="#eee" font-weight="normal" text-anchor="start" font-family='"Liberation Sans", sans-serif'  style="">x</text>
<text x="633" y="206.0" font-size="7" fill="#eee" font-weight="normal" text-anchor="middle" font-family='"Liberation Sans", sans-serif'  style="">4 mm</text>
<line x1="622" y1="208.5" x2="642" y2="208.5" stroke="#ccc" stroke-width="1"/>
<text x="633" y="233.0" font-size="7" fill="#eee" font-weight="normal" text-anchor="middle" font-family='"Liberation Sans", sans-serif'  style="">4 mm</text>
<line x1="622" y1="235.5" x2="642" y2="235.5" stroke="#ccc" stroke-width="1"/>
<rect x="646.5" y="54" width="4" height="58.5" fill="url(#cbhot)" stroke="#888" stroke-width="0.3"/>
<rect x="647" y="154.5" width="4" height="59" fill="url(#cbgray)" stroke="#888" stroke-width="0.3"/>
<text x="0" y="0" transform="translate(651.8,42.5) rotate(-90)" font-size="7.5" fill="#222" font-weight="normal" text-anchor="middle" font-family='"Liberation Sans", sans-serif'>High</text>
<text x="0" y="0" transform="translate(651.8,119) rotate(-90)" font-size="7.5" fill="#222" font-weight="normal" text-anchor="middle" font-family='"Liberation Sans", sans-serif'>Low</text>
<text x="0" y="0" transform="translate(652.3,144.5) rotate(-90)" font-size="7.5" fill="#222" font-weight="normal" text-anchor="middle" font-family='"Liberation Sans", sans-serif'>High</text>
<text x="0" y="0" transform="translate(652.3,223) rotate(-90)" font-size="7.5" fill="#222" font-weight="normal" text-anchor="middle" font-family='"Liberation Sans", sans-serif'>Low</text>
<g clip-path="url(#cC)">
<rect x="22" y="256" width="382" height="204.5" fill="url(#cbg)"/>
<ellipse cx="182" cy="362" rx="40" ry="100" fill="url(#pinkglow)"/>
<g clip-path="url(#cL)">
<ellipse cx="106.5" cy="359" rx="79.5" ry="110" fill="#eaf2f6" />
<ellipse cx="106.5" cy="359" rx="77" ry="108" fill="#cfe2ec" />
<ellipse cx="106.5" cy="359" rx="75" ry="106.5" fill="#f2f6f8" />
<ellipse cx="106.5" cy="359" rx="72.5" ry="105" fill="url(#fiberL)" />
<ellipse cx="106.5" cy="359" rx="67.5" ry="101" fill="#9ccccc" />
<ellipse cx="106.5" cy="359" rx="66" ry="100" fill="url(#synL)" />
</g>
<g clip-path="url(#cR)">
<ellipse cx="106.5" cy="359" rx="79.5" ry="110" fill="#f0f4f6" />
<ellipse cx="106.5" cy="359" rx="77.5" ry="108" fill="url(#fiber)" />
<ellipse cx="106.5" cy="359" rx="46" ry="100" fill="#f2d6e0" />
<ellipse cx="106.5" cy="359" rx="44.5" ry="99" fill="url(#synR)" />
</g>
<path d="M51,250 L127,250 C127,272 133,292 132,318 C131,342 112,348 92,348 C70,348 50,343 48,318 C46,292 51,272 51,250 Z" fill="#b9d8d8" stroke="#9cc4c8" stroke-width="4.5"/>
<path d="M51,250 L127,250 C127,272 133,292 132,318 C131,342 112,348 92,348 C70,348 50,343 48,318 C46,292 51,272 51,250 Z" fill="#f6e6cc"/>
<g clip-path="url(#ctb)">
<path d="M48.2 254.7l0.4 0.3M133.3 262.8l-0.0 0.5M84.6 265.6l-0.1 0.3M92.8 271.1l-0.0 0.4M49.4 287.2l-0.4 0.9M74.3 288.1l-0.1 0.3M92.6 295.4l-0.1 0.3M127.3 296.7l0.5 0.3M122.4 303.7l-0.1 0.6M102.3 326.0l-0.0 0.4M91.5 330.3l-0.3 0.5M121.5 334.6l0.1 0.7M84.8 339.2l0.3 0.1M49.7 351.5l-0.2 0.3" stroke="#d0ac80" stroke-width="2.75" stroke-linecap="round" fill="none"/>
<path d="M52.8 254.1l0.9 0.4M113.6 253.8l-1.2 0.0M71.5 271.1l-0.3 0.1M116.6 275.7l0.2 0.3M118.1 303.7l-0.4 0.6M76.1 308.8l0.7 0.4M53.9 325.7l-0.7 0.1M123.7 326.6l0.3 1.0M76.2 342.4l-0.2 0.8M133.8 347.4l-0.3 0.1M84.8 352.0l0.6 0.1" stroke="#e4c8a0" stroke-width="2.75" stroke-linecap="round" fill="none"/>
<path d="M58.6 254.8l-0.5 0.1M92.8 279.9l0.2 0.3M132.9 279.0l-0.1 0.5M53.6 292.4l-0.2 0.7M58.0 291.9l-0.3 0.3M67.1 291.1l0.2 0.8M94.0 292.3l-0.2 0.8M83.7 301.1l0.5 0.4M113.9 347.3l0.3 0.1M118.7 351.2l0.7 0.6" stroke="#ccA478" stroke-width="3.25" stroke-linecap="round" fill="none"/>
<path d="M63.2 254.2l0.7 0.1M72.6 253.1l0.1 0.7M61.0 258.5l0.3 0.4M86.4 270.8l0.3 0.3M74.0 279.9l-0.1 0.7M101.2 308.3l0.1 0.5M118.2 347.6l0.4 0.4" stroke="#dcbc94" stroke-width="1.75" stroke-linecap="round" fill="none"/>
<path d="M67.7 253.3l-0.1 0.4M100.9 258.1l-0.1 0.3M66.2 271.2l-0.2 0.7M83.2 297.5l0.4 0.0M130.1 312.7l0.5 0.0M59.7 338.5l0.6 0.2" stroke="#ccA478" stroke-width="2.0" stroke-linecap="round" fill="none"/>
<path d="M77.7 254.8l0.2 0.3M101.9 283.6l0.2 0.2" stroke="#e4c8a0" stroke-width="4.5" stroke-linecap="round" fill="none"/>
<path d="M82.6 253.5l0.2 0.1M57.0 276.1l0.4 0.2M66.3 274.2l0.7 0.3M126.9 283.6l-0.1 0.6M78.8 286.9l0.5 0.2M108.6 291.2l-0.4 0.2M69.3 301.3l-0.2 0.9M111.6 309.8l-0.4 0.4M75.1 312.5l0.9 0.0M82.0 330.8l-0.4 0.3M46.9 334.8l0.2 0.9M89.1 346.7l0.1 0.4M107.8 347.3l-0.2 0.2" stroke="#ccA478" stroke-width="2.25" stroke-linecap="round" fill="none"/>
<path d="M87.7 253.0l0.2 0.2M47.8 258.6l-0.3 0.5M95.6 267.4l-0.0 0.3M100.7 266.6l0.4 0.4M81.5 283.7l-0.5 0.3M106.9 297.3l0.2 0.3M84.9 309.4l0.2 0.6M115.3 335.2l0.5 0.1M56.2 339.7l-0.1 0.5M80.6 342.7l-0.2 0.3M67.4 348.0l0.8 0.1" stroke="#d0ac80" stroke-width="2.0" stroke-linecap="round" fill="none"/>
<path d="M94.2 253.5l-0.2 0.8M70.8 257.7l0.1 0.2M117.5 270.0l0.1 0.4M131.3 271.8l0.4 0.0M78.7 280.3l-0.1 0.3M111.5 283.9l-0.2 0.4M103.4 291.4l0.1 0.2M108.5 326.0l-0.4 0.5M57.2 331.0l0.6 0.5M127.1 331.1l-0.5 0.0M48.9 347.9l-0.1 0.2" stroke="#dcbc94" stroke-width="3.5" stroke-linecap="round" fill="none"/>
<path d="M98.0 254.3l-0.6 0.1M82.3 258.2l0.6 0.0M48.2 262.0l-0.3 0.3M118.4 262.4l0.0 0.2M57.4 270.6l-0.8 0.4M107.3 274.7l-0.6 0.5M83.4 279.5l-0.6 0.2M99.2 279.0l-0.3 0.3M96.9 292.4l0.7 0.2M112.7 291.5l0.1 0.9M71.4 296.5l0.5 0.3M110.6 299.7l-0.5 0.2M118.8 299.7l0.3 0.2M130.0 309.1l0.6 0.3M47.0 329.4l0.1 0.5M106.8 330.4l0.3 0.5M90.7 343.3l-0.3 0.1M78.4 347.6l0.6 0.4M104.1 351.0l0.5 0.6M109.3 351.6l0.0 0.2" stroke="#dcbc94" stroke-width="2.25" stroke-linecap="round" fill="none"/>
<path d="M103.7 252.9l0.1 0.7M82.7 261.8l0.3 0.2M53.3 288.1l-0.5 0.3M58.9 286.9l0.1 0.6M133.9 288.4l0.4 0.2M66.4 333.9l-0.5 0.1" stroke="#dcbc94" stroke-width="2.0" stroke-linecap="round" fill="none"/>
<path d="M108.2 254.2l0.1 0.4M71.0 267.4l0.2 0.4M58.8 279.0l0.5 0.1M68.1 279.2l0.3 0.2M114.4 279.3l-0.7 0.0M88.2 291.6l-0.5 0.2M116.7 295.6l-0.1 0.3M63.6 301.1l0.3 0.7M48.4 304.3l0.5 0.2M59.2 317.5l-0.4 0.3M57.4 326.4l-0.3 0.3M126.8 334.3l0.5 0.4M71.4 342.5l-0.4 0.3M87.0 343.2l0.0 0.3M111.0 342.3l-0.4 0.1M114.7 351.1l0.1 0.4" stroke="#d0ac80" stroke-width="2.25" stroke-linecap="round" fill="none"/>
<path d="M117.0 253.3l0.6 0.1M91.7 313.3l-0.4 0.1M47.3 316.9l-0.4 0.2M61.9 317.4l0.4 0.2M106.4 339.2l0.1 0.4" stroke="#dcbc94" stroke-width="4.0" stroke-linecap="round" fill="none"/>
<path d="M122.5 253.7l0.1 0.3M131.7 283.1l-0.7 0.1M63.4 325.9l-0.1 0.4M87.3 330.6l-0.6 0.4M121.2 339.0l0.4 0.3M94.4 351.1l-0.4 0.5" stroke="#e4c8a0" stroke-width="2.0" stroke-linecap="round" fill="none"/>
<path d="M127.2 253.0l0.4 0.9M54.0 262.0l-0.4 0.1M113.4 261.1l-0.1 0.8M89.6 267.1l-0.3 0.3M120.6 267.3l-0.3 0.1M118.1 278.7l0.3 0.4M51.8 297.1l0.3 0.2M88.3 295.5l0.1 0.2M94.0 300.5l-0.3 0.0M53.8 305.1l-0.4 0.8M97.7 305.3l-0.4 0.1M113.7 303.9l0.0 0.4M128.6 305.4l0.2 0.2M123.5 317.7l0.1 0.1M102.1 330.7l-0.3 0.0M59.2 352.1l0.0 0.2M68.3 351.1l0.4 0.3" stroke="#e4c8a0" stroke-width="2.25" stroke-linecap="round" fill="none"/>
<path d="M133.0 254.8l0.4 0.3M127.0 257.9l0.0 0.8M58.5 262.1l0.2 0.4M101.0 270.8l-0.0 0.8M132.4 303.7l-0.5 0.7M71.7 329.7l0.2 0.4M97.7 329.5l-0.1 0.2M81.6 334.6l0.7 0.2M96.6 334.2l0.3 0.5M64.1 339.3l0.9 0.5M123.9 346.4l-0.7 0.5M125.0 351.8l0.2 1.0" stroke="#ccA478" stroke-width="3.0" stroke-linecap="round" fill="none"/>
<path d="M51.2 258.2l0.6 0.1M116.8 257.6l0.0 0.6" stroke="#dcbc94" stroke-width="1.5" stroke-linecap="round" fill="none"/>
<path d="M57.5 257.4l0.5 0.6M126.7 275.1l0.3 0.4M98.0 287.9l-0.2 0.9M48.2 296.8l0.2 0.9M132.9 296.7l0.1 1.0M107.7 304.7l0.1 0.2M105.4 335.3l-0.3 0.1M110.2 333.9l0.0 0.5M58.3 347.5l0.1 0.3M74.0 347.8l-0.9 0.7" stroke="#ccA478" stroke-width="2.75" stroke-linecap="round" fill="none"/>
<path d="M67.4 257.5l0.3 0.3M66.1 265.7l0.1 0.5M51.2 271.1l0.1 0.6M73.6 322.7l0.6 0.1M65.0 347.5l-0.5 0.0" stroke="#ccA478" stroke-width="1.75" stroke-linecap="round" fill="none"/>
<path d="M77.6 259.0l-0.1 0.4M75.5 301.1l0.0 0.3M89.5 300.3l-0.2 0.1M104.5 299.7l-0.5 0.6M118.7 326.2l0.7 0.0M125.2 338.2l-0.3 0.1" stroke="#d0ac80" stroke-width="3.5" stroke-linecap="round" fill="none"/>
<path d="M86.7 258.1l0.7 0.2M111.6 258.4l-0.0 0.6M91.5 284.1l-0.4 0.3M106.4 309.5l0.5 0.8M78.7 326.7l0.1 0.5M66.3 329.6l0.1 0.2M75.7 339.4l0.2 0.8" stroke="#dcbc94" stroke-width="3.0" stroke-linecap="round" fill="none"/>
<path d="M92.1 258.6l-0.4 0.3M77.3 276.0l0.0 0.5M83.4 287.9l0.3 0.3M54.6 352.1l0.4 0.1M74.8 352.1l-0.4 0.4" stroke="#d0ac80" stroke-width="4.0" stroke-linecap="round" fill="none"/>
<path d="M97.7 257.9l-0.3 0.1M107.1 257.3l-0.1 0.2M121.9 262.5l0.3 0.1M128.0 262.7l-0.1 0.5M88.7 322.9l0.2 0.0M91.5 334.3l-0.1 0.5" stroke="#ccA478" stroke-width="3.75" stroke-linecap="round" fill="none"/>
<path d="M121.7 258.9l0.7 0.3M107.7 271.2l-0.5 0.1M83.2 305.3l-0.4 0.1M92.6 304.3l-0.1 0.4M132.3 330.0l-0.2 0.5" stroke="#e4c8a0" stroke-width="1.75" stroke-linecap="round" fill="none"/>
<path d="M131.4 258.0l-0.3 0.1M96.8 284.6l0.2 0.0M88.9 287.4l-0.1 0.4M127.7 292.1l-0.0 0.2M49.8 301.6l0.2 0.1M55.2 309.4l0.3 0.7M68.0 325.8l1.0 0.0M130.6 334.4l-0.2 0.8M97.4 342.9l0.1 0.2M127.0 344.0l-0.1 0.2" stroke="#d0ac80" stroke-width="2.5" stroke-linecap="round" fill="none"/>
<path d="M63.6 261.8l-0.1 0.4M106.1 267.2l-0.8 0.3M77.7 271.4l-0.7 0.3M46.6 274.3l-0.5 0.5M72.2 275.3l-0.3 0.3M82.1 274.8l0.2 0.2M101.4 274.1l0.0 0.6M119.9 287.3l-0.8 0.5M124.2 300.5l0.3 0.5M67.6 304.7l0.7 0.6M78.6 305.5l-0.4 0.5M72.7 326.1l0.4 0.7M112.4 325.4l-0.2 0.4M51.4 339.3l-0.1 0.2M129.7 352.1l-0.1 0.4" stroke="#e4c8a0" stroke-width="3.25" stroke-linecap="round" fill="none"/>
<path d="M67.3 262.9l0.4 0.3" stroke="#ccA478" stroke-width="1.5" stroke-linecap="round" fill="none"/>
<path d="M73.4 261.8l0.1 0.4M103.1 261.8l0.3 0.2M75.7 267.4l0.5 0.4M112.2 270.7l-0.3 0.6M104.5 279.2l-0.4 0.3M61.4 310.0l-0.3 0.2M72.2 317.9l0.5 0.2M99.4 326.0l-0.5 0.0M50.2 342.3l0.5 0.0" stroke="#dcbc94" stroke-width="3.75" stroke-linecap="round" fill="none"/>
<path d="M78.1 262.7l0.2 0.2M64.4 287.6l-0.1 0.3M93.3 288.6l-0.1 0.5M113.1 288.7l0.4 0.2M75.7 334.4l-0.2 0.3" stroke="#d0ac80" stroke-width="4.25" stroke-linecap="round" fill="none"/>
<path d="M87.4 261.9l0.2 0.6M114.3 266.5l0.2 0.1M126.3 265.9l-0.3 0.2M61.4 270.6l-0.2 0.7M82.0 271.5l0.7 0.2M87.4 275.2l0.4 0.3M64.3 278.4l-0.4 0.4M99.5 300.6l0.4 0.5M116.7 308.7l0.1 0.6M93.3 325.9l-0.5 0.0M111.1 338.1l-0.5 0.2" stroke="#d0ac80" stroke-width="3.25" stroke-linecap="round" fill="none"/>
<path d="M93.4 263.3l0.2 0.1M54.5 266.6l-0.1 0.5M60.2 266.9l-0.0 0.1M63.1 274.3l0.1 0.9M87.5 279.7l0.2 0.2M86.5 282.9l-0.5 0.8M69.5 288.4l-0.2 0.6M129.7 288.9l-0.1 0.3M72.1 292.9l-0.3 0.3M117.7 291.8l-0.2 0.1M102.9 295.7l0.5 0.5M63.3 304.3l0.8 0.3M71.1 308.8l-0.0 0.6M81.7 308.3l-0.4 0.7M125.2 308.0l0.5 0.6M99.9 339.5l-0.2 0.8" stroke="#ccA478" stroke-width="2.5" stroke-linecap="round" fill="none"/>
<path d="M97.8 262.4l0.1 0.8M52.7 279.8l0.1 0.3M71.3 283.4l0.7 0.3M113.1 296.6l-0.6 0.3" stroke="#e4c8a0" stroke-width="3.5" stroke-linecap="round" fill="none"/>
<path d="M108.5 263.2l0.5 0.5M121.8 296.2l-0.3 0.2M114.2 300.0l0.2 0.5" stroke="#e4c8a0" stroke-width="3.75" stroke-linecap="round" fill="none"/>
<path d="M50.3 266.3l0.2 0.2M51.2 275.7l0.2 1.0M124.5 279.2l-0.6 0.5M120.9 284.4l0.5 0.7M79.2 301.3l0.1 0.3M73.8 304.0l-0.0 0.8M95.0 308.7l0.7 0.1M52.8 329.3l0.3 0.9M71.2 339.4l-0.1 0.5M66.8 342.9l-0.6 0.1" stroke="#d0ac80" stroke-width="3.0" stroke-linecap="round" fill="none"/>
<path d="M80.3 267.6l0.3 0.0M122.7 275.7l0.0 0.3M132.9 274.3l-0.2 0.3M108.8 288.3l-0.1 0.4M78.0 292.6l0.3 0.3M67.9 296.3l-0.0 0.2M78.4 295.8l0.2 0.2M88.6 326.6l0.4 0.8M111.8 330.2l0.8 0.6M114.7 338.1l-0.1 0.3M102.0 342.8l0.0 0.4M116.0 344.0l0.2 0.2M79.6 351.3l-0.1 0.6" stroke="#dcbc94" stroke-width="2.5" stroke-linecap="round" fill="none"/>
<path d="M109.3 267.2l0.6 0.3M54.2 301.2l0.5 0.1M90.9 308.5l0.5 0.5M119.2 318.1l-0.5 0.3" stroke="#d0ac80" stroke-width="1.75" stroke-linecap="round" fill="none"/>
<path d="M129.9 265.7l0.5 0.2M96.9 272.0l-0.4 0.0M53.3 283.8l-0.7 0.2M104.6 287.5l-0.8 0.3M66.3 308.8l0.6 0.1M84.4 347.0l0.4 0.4" stroke="#ccA478" stroke-width="3.5" stroke-linecap="round" fill="none"/>
<path d="M46.4 271.5l-0.1 0.3" stroke="#dcbc94" stroke-width="4.5" stroke-linecap="round" fill="none"/>
<path d="M122.8 270.6l0.1 0.4M91.8 276.0l-0.1 0.3M102.7 304.9l-0.2 0.4M72.0 312.5l-0.2 0.2M77.2 330.7l0.1 0.3" stroke="#dcbc94" stroke-width="4.25" stroke-linecap="round" fill="none"/>
<path d="M126.9 270.3l0.0 0.6M46.5 283.2l-0.1 0.3M77.9 284.2l-0.0 0.3M47.7 291.5l0.7 0.1M122.7 292.7l-0.8 0.5M132.9 326.4l-0.5 0.4M121.8 330.8l0.1 0.1M86.9 333.9l-0.7 0.4M94.7 339.1l0.1 0.1M131.8 342.3l-0.0 0.4" stroke="#e4c8a0" stroke-width="2.5" stroke-linecap="round" fill="none"/>
<path d="M96.3 274.5l-0.1 0.6M123.4 287.9l-0.5 0.4" stroke="#d0ac80" stroke-width="1.5" stroke-linecap="round" fill="none"/>
<path d="M112.1 275.7l0.1 0.4M63.1 293.1l-0.3 0.2M129.3 300.3l0.1 0.4M120.6 343.4l0.2 0.4" stroke="#ccA478" stroke-width="4.0" stroke-linecap="round" fill="none"/>
<path d="M48.8 278.7l0.4 0.8M106.1 283.3l0.4 0.1M98.3 295.6l-0.3 0.3M88.7 304.4l0.0 0.3M51.4 308.3l0.2 0.5M110.9 312.8l0.4 0.5M62.9 329.4l-0.1 0.7M80.9 339.1l0.3 0.5M131.6 338.0l-0.5 0.1" stroke="#e4c8a0" stroke-width="3.0" stroke-linecap="round" fill="none"/>
<path d="M109.3 280.1l-0.4 0.5M132.6 292.9l-0.4 0.4M61.8 296.0l0.5 0.2M117.3 330.8l0.2 0.5M90.8 339.1l-0.5 0.1M98.7 348.2l0.2 0.2" stroke="#e4c8a0" stroke-width="4.0" stroke-linecap="round" fill="none"/>
<path d="M127.7 278.4l0.3 0.4M116.1 283.1l0.1 0.8M57.4 305.7l-0.7 0.1M48.6 325.8l0.2 0.5M127.8 327.1l0.9 0.2M51.4 335.2l0.2 1.0M56.6 334.2l0.1 0.6M101.4 334.1l0.2 0.2M107.0 342.0l0.1 0.6M128.5 348.3l-0.6 0.1" stroke="#dcbc94" stroke-width="2.75" stroke-linecap="round" fill="none"/>
<path d="M56.7 283.5l0.2 0.7M93.8 346.7l0.1 0.7" stroke="#d0ac80" stroke-width="3.75" stroke-linecap="round" fill="none"/>
<path d="M61.7 282.9l-0.2 0.2M66.2 284.4l0.1 0.4M62.0 335.1l-0.1 0.2M100.1 351.2l-0.0 0.3" stroke="#e4c8a0" stroke-width="4.25" stroke-linecap="round" fill="none"/>
<path d="M83.7 291.6l-0.2 0.2M121.3 309.3l0.3 0.1M50.7 312.7l0.0 0.2M66.3 312.9l-0.1 0.2M55.5 343.7l0.2 0.4" stroke="#ccA478" stroke-width="4.25" stroke-linecap="round" fill="none"/>
<path d="M57.1 296.5l-0.2 0.7M70.4 334.5l0.3 0.1M61.0 342.6l-0.2 0.9M104.1 346.4l-0.4 0.8M64.6 352.1l-0.2 0.0M90.3 351.4l-0.5 0.8" stroke="#dcbc94" stroke-width="3.25" stroke-linecap="round" fill="none"/>
<path d="M59.5 300.6l0.2 0.2M52.6 348.3l0.3 0.2" stroke="#d0ac80" stroke-width="4.5" stroke-linecap="round" fill="none"/>
<path d="M82.8 326.8l-0.6 0.0M46.7 344.1l-0.5 0.1" stroke="#e4c8a0" stroke-width="1.5" stroke-linecap="round" fill="none"/>
</g>
<path d="M47,470 C45,432 44,405 56,390 C68,379 84,377 94,377 C110,377 127,380 135,393 C142,408 139,440 138,470 Z" fill="#b9d8d8" stroke="#9cc4c8" stroke-width="4.5"/>
<path d="M47,470 C45,432 44,405 56,390 C68,379 84,377 94,377 C110,377 127,380 135,393 C142,408 139,440 138,470 Z" fill="#f6e6cc"/>
<g clip-path="url(#cbb)">
<path d="M46.7 374.0l0.0 0.7M117.5 382.1l-0.7 0.1M111.3 432.2l0.2 0.6M109.3 437.6l-0.4 0.2M93.3 440.9l-0.1 0.6M84.0 445.4l0.3 0.5M89.4 446.0l0.2 0.6" stroke="#e4c8a0" stroke-width="1.75" stroke-linecap="round" fill="none"/>
<path d="M51.9 373.5l-0.4 0.8M81.5 374.2l-0.4 0.0M92.8 390.0l0.1 0.2M65.6 407.2l0.3 0.4M95.9 412.5l-0.0 0.4M131.6 411.2l0.4 0.1M45.2 428.3l-0.1 0.2M82.2 432.6l-0.5 0.3M104.3 436.8l-0.2 0.0" stroke="#dcbc94" stroke-width="3.0" stroke-linecap="round" fill="none"/>
<path d="M55.7 373.8l-0.0 0.2M120.2 387.4l-0.5 0.1M89.4 395.2l-0.6 0.7M51.8 404.5l0.0 0.2M46.4 411.4l0.5 0.5M80.4 425.1l0.3 0.4M107.2 433.2l-0.8 0.2M129.4 436.6l-0.4 0.8M58.0 440.9l-0.2 0.2M113.7 441.9l-0.6 0.4M46.6 449.3l-0.5 0.6M107.3 451.0l0.7 0.6M94.3 459.0l0.5 0.1" stroke="#dcbc94" stroke-width="2.5" stroke-linecap="round" fill="none"/>
<path d="M60.5 374.0l0.5 0.0M61.3 387.4l0.5 0.3M78.7 395.0l0.1 0.6M46.3 404.0l0.3 0.1M107.0 412.5l-0.1 0.5M60.6 425.3l0.1 0.2" stroke="#dcbc94" stroke-width="3.75" stroke-linecap="round" fill="none"/>
<path d="M65.9 374.8l-0.8 0.1M77.4 373.8l-0.4 0.7M130.2 378.7l-0.3 0.2M50.1 386.5l0.2 0.1M58.5 391.7l-0.0 0.5M89.0 391.6l0.2 0.6M133.8 391.2l-0.4 0.0M70.0 399.9l-0.3 0.6M123.1 403.3l-0.4 0.2M79.6 407.9l0.3 0.0M103.8 408.4l0.3 0.6M110.0 417.2l0.3 0.2M124.2 425.1l0.5 0.2M67.8 433.9l-0.6 0.7M103.8 446.2l-0.3 0.1M135.2 445.3l-0.2 0.7M140.8 458.2l-0.3 0.1" stroke="#ccA478" stroke-width="2.25" stroke-linecap="round" fill="none"/>
<path d="M70.8 373.8l-0.5 0.0M126.1 373.5l0.5 0.0M123.7 394.8l0.3 0.3M80.2 399.6l0.4 0.6M66.6 403.3l0.6 0.4M90.2 429.2l-0.5 0.6M122.6 434.0l-0.6 0.3M132.3 434.1l0.2 0.7M98.9 437.7l-0.4 0.1M107.5 441.1l0.6 0.1M91.4 451.0l0.3 0.4M107.0 455.0l-0.2 0.3M131.3 454.2l-0.3 0.2" stroke="#d0ac80" stroke-width="2.0" stroke-linecap="round" fill="none"/>
<path d="M87.5 374.1l-0.3 0.5M96.7 373.8l0.7 0.1M46.9 382.2l-0.5 0.3M64.7 395.6l-0.1 0.2M85.7 412.8l0.8 0.1M125.8 411.9l0.4 0.1M65.9 425.4l-1.0 0.0M76.4 429.7l-0.7 0.6M87.0 432.7l-0.7 0.2M47.4 441.0l-0.1 0.1M98.6 442.5l-0.1 0.4M61.4 450.8l0.6 0.1M72.2 454.1l-0.0 0.2" stroke="#ccA478" stroke-width="2.5" stroke-linecap="round" fill="none"/>
<path d="M90.4 373.4l0.5 0.0M117.7 373.8l-0.7 0.2M76.1 383.1l0.1 0.5M86.4 386.0l-0.1 0.3M49.1 395.1l0.5 0.3M58.2 394.5l0.1 0.8M134.5 394.9l-0.1 0.2M55.5 407.6l-0.0 0.7M59.0 419.7l0.1 0.1M66.7 450.9l0.5 0.4M111.7 451.0l0.6 0.5M127.3 450.2l-0.2 0.3" stroke="#d0ac80" stroke-width="2.5" stroke-linecap="round" fill="none"/>
<path d="M101.0 373.9l-0.5 0.7M105.5 373.4l-0.0 0.4M65.2 377.3l-0.7 0.5M53.9 390.2l-0.1 1.1M109.8 394.3l-0.8 0.3M99.4 428.9l0.4 0.0M63.6 437.0l0.2 0.2M113.6 437.9l-0.1 0.7M62.5 441.9l0.4 0.6M122.3 441.5l0.2 0.3M45.0 445.7l-0.0 0.4M85.5 455.4l0.2 0.2" stroke="#dcbc94" stroke-width="2.75" stroke-linecap="round" fill="none"/>
<path d="M111.0 373.5l0.3 0.3M110.3 378.2l-0.7 0.5M114.2 378.6l-0.0 0.4M132.8 382.9l-0.6 0.5M95.5 385.8l-0.0 0.9M83.4 391.4l0.6 0.5M74.1 398.5l0.6 0.4M104.9 400.1l0.5 0.2M140.1 399.0l-0.1 0.2M82.3 403.9l0.5 0.1M70.3 408.4l0.0 0.4M129.1 408.1l0.2 0.5M115.3 429.4l0.2 0.5M72.3 433.2l-0.0 0.3M137.9 441.3l0.4 0.7" stroke="#ccA478" stroke-width="3.0" stroke-linecap="round" fill="none"/>
<path d="M120.7 373.3l-0.6 0.5M79.0 378.2l0.7 0.2M89.1 378.6l0.6 0.1M44.4 398.8l-0.5 0.1M127.2 404.4l1.1 0.2M120.5 408.0l-0.2 0.2M104.1 442.0l-0.2 0.2M71.2 451.0l0.1 0.8M101.1 454.9l0.2 0.3M105.4 458.3l-0.4 0.0" stroke="#d0ac80" stroke-width="3.0" stroke-linecap="round" fill="none"/>
<path d="M131.2 374.4l-0.4 0.3M119.2 390.5l-0.1 0.3M128.8 390.8l-0.4 0.2M128.8 424.1l0.5 0.1M135.5 430.0l0.3 0.2M69.6 446.8l-0.1 0.3M119.4 446.0l0.6 0.2M45.8 458.8l0.1 0.7" stroke="#d0ac80" stroke-width="3.75" stroke-linecap="round" fill="none"/>
<path d="M136.6 373.9l-0.4 0.1M75.5 377.5l-0.1 0.3M77.9 390.5l-0.4 0.6M69.4 395.3l-0.1 0.1M77.4 402.7l0.2 0.6M44.1 408.9l0.2 0.1M101.2 412.3l0.2 0.0M121.1 412.5l-0.5 0.3M140.6 413.0l-0.2 0.0M115.3 424.8l0.3 0.7M66.1 430.0l0.1 0.1M126.8 433.0l-0.4 0.3M76.2 450.3l0.1 0.0M142.1 455.6l-1.1 0.0M59.5 459.7l0.5 0.5" stroke="#ccA478" stroke-width="2.75" stroke-linecap="round" fill="none"/>
<path d="M141.0 373.2l-0.5 0.7M71.0 379.0l-0.3 0.2M90.6 387.6l0.0 0.2M117.6 404.1l-0.8 0.4M136.8 403.5l-0.1 0.9M85.3 424.9l0.6 0.3M49.7 428.5l0.5 0.4M55.2 459.1l0.1 0.2" stroke="#ccA478" stroke-width="3.25" stroke-linecap="round" fill="none"/>
<path d="M44.7 377.5l-0.1 0.4M109.6 398.4l-0.1 0.2M136.1 412.9l0.4 0.8M81.6 428.2l-0.2 0.8M87.9 437.0l-0.5 0.2M128.0 442.3l-0.3 0.6M121.6 455.5l0.6 0.5M116.1 459.6l0.2 0.4" stroke="#d0ac80" stroke-width="3.5" stroke-linecap="round" fill="none"/>
<path d="M49.6 377.3l-0.1 0.4M54.7 395.2l-0.0 0.4M93.2 394.6l-0.0 0.5M55.0 399.0l0.3 0.5M59.9 398.6l-0.5 0.5M95.8 408.4l-0.5 0.1M51.8 412.6l0.3 0.6M76.5 412.2l0.3 0.7M111.5 412.4l-0.5 0.8M65.5 416.2l-0.1 0.2M100.0 416.3l0.2 0.5M55.4 425.0l-0.1 0.5M119.8 429.8l0.4 0.3" stroke="#dcbc94" stroke-width="2.25" stroke-linecap="round" fill="none"/>
<path d="M55.3 378.9l0.1 0.5M130.0 395.6l-0.3 0.1M118.9 442.5l-0.2 0.3" stroke="#ccA478" stroke-width="4.25" stroke-linecap="round" fill="none"/>
<path d="M59.3 377.9l-0.2 0.4M119.9 377.2l0.2 0.3M65.8 386.0l-0.5 0.2M102.9 394.4l0.2 0.2M62.1 402.8l0.2 0.6M86.7 403.0l0.5 0.6M46.6 432.6l0.7 0.1M137.4 438.0l0.7 0.3M67.4 455.3l-0.1 0.3M91.3 459.5l0.2 0.3M99.5 459.2l0.1 0.2M136.0 458.3l-0.1 0.1" stroke="#e4c8a0" stroke-width="2.25" stroke-linecap="round" fill="none"/>
<path d="M84.7 377.3l0.2 0.3M100.8 377.4l0.1 0.1M104.4 378.1l0.2 0.1M125.3 377.7l0.5 0.3M134.4 379.0l0.6 0.3M51.5 382.6l-0.1 1.0M87.1 382.3l0.5 0.0M55.7 386.6l0.3 0.6M105.0 387.0l-0.3 0.1M98.6 390.3l0.8 0.7M126.6 399.8l-0.8 0.2M85.0 408.3l-0.4 0.3M50.4 416.3l0.3 0.8M68.2 442.0l0.9 0.6M64.7 445.9l-0.3 0.1M140.1 445.8l-0.0 0.4M118.1 449.8l-0.2 0.4" stroke="#e4c8a0" stroke-width="2.75" stroke-linecap="round" fill="none"/>
<path d="M95.0 378.0l0.0 0.3M97.9 382.2l0.2 0.0M75.6 385.7l0.8 0.4M109.9 387.1l0.2 0.6M72.9 391.5l-0.8 0.1M134.5 408.7l0.9 0.3M56.8 411.6l-0.7 0.6M136.9 434.4l0.4 0.1M132.5 437.5l0.1 0.4M73.6 446.0l-0.1 0.1M125.2 446.6l0.1 0.3M52.6 455.6l-0.7 0.0" stroke="#e4c8a0" stroke-width="2.5" stroke-linecap="round" fill="none"/>
<path d="M139.5 377.1l0.1 0.4M47.4 390.7l-0.1 0.7M57.2 404.6l0.3 0.0M62.9 433.2l-0.3 0.3M53.6 446.5l-0.6 0.4" stroke="#ccA478" stroke-width="3.5" stroke-linecap="round" fill="none"/>
<path d="M56.4 383.2l-0.4 0.0M116.3 412.9l-0.3 0.1M110.0 429.5l0.5 0.2M130.6 458.9l-0.5 0.2" stroke="#e4c8a0" stroke-width="4.0" stroke-linecap="round" fill="none"/>
<path d="M63.2 382.7l-0.6 0.6M123.9 391.2l-0.0 0.3M95.1 429.2l-0.6 0.1M78.0 433.0l-0.1 0.9M82.9 437.9l-0.2 0.4M78.3 441.0l0.5 0.6M132.5 441.3l0.6 0.5M131.4 450.5l0.4 0.1M117.1 453.7l-0.6 0.3" stroke="#d0ac80" stroke-width="3.25" stroke-linecap="round" fill="none"/>
<path d="M67.7 382.6l0.2 0.1M135.9 387.5l-0.3 0.0M130.1 399.1l0.5 0.0M69.2 437.4l0.1 0.3M80.4 458.8l-0.2 0.1" stroke="#d0ac80" stroke-width="2.25" stroke-linecap="round" fill="none"/>
<path d="M72.6 381.8l-0.1 0.6M99.8 394.4l-0.5 0.0M80.5 411.6l0.6 0.3M60.2 429.2l-0.6 0.4M79.3 446.6l-0.1 0.4M49.1 458.9l0.7 0.4M86.3 458.9l0.1 0.7" stroke="#e4c8a0" stroke-width="2.0" stroke-linecap="round" fill="none"/>
<path d="M82.1 382.5l0.1 0.6M122.7 382.9l0.8 0.3M138.6 396.2l-0.7 0.1M50.0 408.6l0.2 0.2M74.5 407.5l-0.2 0.5M110.1 407.9l-0.1 0.3M104.2 421.3l0.6 0.3M89.6 441.9l-0.6 0.3M95.2 446.3l-0.2 0.2M99.1 446.2l-0.0 0.7M82.4 449.4l0.1 0.6M55.9 454.3l0.2 0.7" stroke="#e4c8a0" stroke-width="3.5" stroke-linecap="round" fill="none"/>
<path d="M91.5 382.7l-0.1 0.7M90.8 400.3l-0.4 0.2M121.0 400.1l-0.3 0.1M86.2 415.4l0.3 0.3M82.7 441.3l0.3 0.1M110.8 455.5l-0.1 0.3" stroke="#ccA478" stroke-width="2.0" stroke-linecap="round" fill="none"/>
<path d="M101.0 381.6l0.6 0.1M85.9 400.1l-0.4 0.4" stroke="#d0ac80" stroke-width="1.5" stroke-linecap="round" fill="none"/>
<path d="M107.5 382.4l-0.1 0.5M70.0 386.1l-0.0 0.6M139.5 408.3l0.5 0.1M57.8 450.4l-0.0 0.5" stroke="#dcbc94" stroke-width="4.0" stroke-linecap="round" fill="none"/>
<path d="M112.2 382.8l0.1 0.6M137.7 383.1l0.2 0.0M100.7 386.8l0.7 0.3M107.5 390.4l-0.3 0.0M74.7 395.9l0.3 0.3M98.3 404.3l0.3 0.3M136.2 416.2l0.5 0.6M72.4 438.2l0.1 0.8M52.3 441.9l0.8 0.2M82.2 455.4l-0.2 0.1M91.7 455.5l0.3 0.3" stroke="#e4c8a0" stroke-width="3.0" stroke-linecap="round" fill="none"/>
<path d="M127.0 381.5l0.0 0.6M137.3 391.1l0.3 0.5M59.1 407.8l0.1 0.8M95.6 415.9l-0.7 0.2M139.7 421.4l-0.7 0.4M53.5 434.1l-0.4 0.4M72.6 442.8l-0.4 0.4M126.7 454.0l0.6 0.3" stroke="#dcbc94" stroke-width="2.0" stroke-linecap="round" fill="none"/>
<path d="M45.4 386.7l-0.4 0.4M101.3 404.0l0.5 0.1M88.8 408.2l0.3 0.3M100.2 408.5l0.4 0.4M124.8 408.2l-0.4 0.4M61.3 412.1l-0.0 0.2M104.9 425.1l0.2 0.1M135.1 425.3l-0.4 0.1M46.6 454.8l-0.3 0.3" stroke="#ccA478" stroke-width="3.75" stroke-linecap="round" fill="none"/>
<path d="M80.6 385.8l0.2 0.2M116.1 385.9l0.4 0.2M129.6 385.8l0.7 0.7M67.4 391.2l1.0 0.2M91.7 404.1l0.4 0.1M114.0 408.5l0.0 0.5M55.6 429.9l0.2 0.2M84.6 428.7l0.1 0.5M117.7 434.2l-0.3 0.5M109.2 446.4l-0.2 0.3M114.7 446.2l0.6 0.5M52.6 449.3l0.2 0.4M87.1 450.2l0.8 0.1M122.6 451.1l0.1 0.3" stroke="#d0ac80" stroke-width="2.75" stroke-linecap="round" fill="none"/>
<path d="M125.1 386.1l-0.2 0.2M99.4 400.1l-0.2 0.4M136.3 398.7l-0.4 0.1" stroke="#e4c8a0" stroke-width="4.25" stroke-linecap="round" fill="none"/>
<path d="M140.8 387.2l0.2 0.4M83.2 395.7l-0.4 0.4M50.6 399.3l0.5 0.0M107.0 403.9l0.4 0.2M98.1 432.5l-0.2 0.4M53.1 438.0l-0.4 0.3M102.2 449.7l-0.5 0.4" stroke="#ccA478" stroke-width="1.75" stroke-linecap="round" fill="none"/>
<path d="M63.9 391.1l-0.3 0.4M118.3 394.7l-0.2 0.2M67.2 411.8l-0.6 0.4M61.6 453.9l-0.1 0.4M136.6 454.9l-0.2 0.0" stroke="#e4c8a0" stroke-width="3.75" stroke-linecap="round" fill="none"/>
<path d="M103.5 391.5l-0.3 0.0M100.6 425.0l0.2 0.1M66.1 459.0l0.2 0.1" stroke="#dcbc94" stroke-width="4.25" stroke-linecap="round" fill="none"/>
<path d="M113.9 390.5l-0.3 0.8M95.0 398.7l-0.3 0.0M114.5 399.3l0.3 0.2M113.3 403.4l-0.3 0.2M91.4 412.6l-0.4 0.2M136.2 449.3l0.6 0.6" stroke="#dcbc94" stroke-width="3.25" stroke-linecap="round" fill="none"/>
<path d="M113.9 396.2l-0.2 0.0M132.2 402.9l-0.7 0.3M76.0 416.0l0.3 0.3M110.5 425.6l0.4 0.5M70.1 428.5l0.2 0.3M105.6 428.4l0.3 0.6M49.2 437.8l-0.3 0.1M120.9 459.2l0.1 0.5" stroke="#e4c8a0" stroke-width="3.25" stroke-linecap="round" fill="none"/>
<path d="M64.4 398.7l0.5 0.0M72.5 403.5l-0.1 0.3M49.3 421.1l-0.0 0.3M102.2 432.7l0.1 0.3M78.4 437.5l-0.4 0.3" stroke="#d0ac80" stroke-width="4.0" stroke-linecap="round" fill="none"/>
<path d="M71.2 412.9l-0.1 0.3M93.2 432.6l-0.3 0.1" stroke="#e4c8a0" stroke-width="4.5" stroke-linecap="round" fill="none"/>
<path d="M120.4 419.9l-0.4 0.3M46.0 424.6l-0.3 0.3M93.8 438.6l-0.4 0.0" stroke="#d0ac80" stroke-width="4.25" stroke-linecap="round" fill="none"/>
<path d="M126.3 428.9l-0.2 0.2M110.9 458.4l0.5 0.2" stroke="#ccA478" stroke-width="4.0" stroke-linecap="round" fill="none"/>
<path d="M131.2 428.3l0.5 0.3M117.2 437.6l0.2 0.6M49.6 445.7l-0.4 0.0M129.8 447.0l0.5 0.4M70.6 458.2l-0.6 0.1" stroke="#d0ac80" stroke-width="1.75" stroke-linecap="round" fill="none"/>
<path d="M141.0 429.5l-0.3 0.3M58.5 433.1l-0.3 0.3M57.5 438.3l0.4 0.2M58.9 446.5l0.4 0.3M76.0 453.9l-0.7 0.1M125.6 459.2l0.6 0.5" stroke="#dcbc94" stroke-width="3.5" stroke-linecap="round" fill="none"/>
<path d="M124.1 436.9l0.0 0.6" stroke="#ccA478" stroke-width="1.5" stroke-linecap="round" fill="none"/>
<path d="M97.8 450.9l-0.2 0.2" stroke="#d0ac80" stroke-width="4.5" stroke-linecap="round" fill="none"/>
<path d="M96.4 454.3l0.6 0.2" stroke="#e4c8a0" stroke-width="1.5" stroke-linecap="round" fill="none"/>
<path d="M76.2 459.4l-0.1 0.3" stroke="#dcbc94" stroke-width="4.5" stroke-linecap="round" fill="none"/>
</g>
<path d="M78,250 L112,250 Q106,270 95,286 Q84,270 78,250 Z" fill="#8a5a36" opacity="0.7" filter="url(#blur2)"/>
<line x1="94" y1="256" x2="94" y2="460" stroke="#ffffff" stroke-width="1.2" opacity="0.95"/>
<ellipse cx="127" cy="300" rx="4.8" ry="5.5" fill="#a2dc8c" stroke="#5ca84c" stroke-width="0.7"/>
<ellipse cx="127.5" cy="300" rx="2.16" ry="1.9249999999999998" fill="#6cbc5c"/>
<ellipse cx="121" cy="316" rx="4.8" ry="5.5" fill="#a2dc8c" stroke="#5ca84c" stroke-width="0.7"/>
<ellipse cx="121.5" cy="316" rx="2.16" ry="1.9249999999999998" fill="#6cbc5c"/>
<ellipse cx="126" cy="332" rx="4.8" ry="5.5" fill="#a2dc8c" stroke="#5ca84c" stroke-width="0.7"/>
<ellipse cx="126.5" cy="332" rx="2.16" ry="1.9249999999999998" fill="#6cbc5c"/>
<ellipse cx="133" cy="405" rx="4.8" ry="5.5" fill="#a2dc8c" stroke="#5ca84c" stroke-width="0.7"/>
<ellipse cx="133.5" cy="405" rx="2.16" ry="1.9249999999999998" fill="#6cbc5c"/>
<ellipse cx="131" cy="422" rx="4.8" ry="5.5" fill="#a2dc8c" stroke="#5ca84c" stroke-width="0.7"/>
<ellipse cx="131.5" cy="422" rx="2.16" ry="1.9249999999999998" fill="#6cbc5c"/>
<path d="M145.2 318.2l2.6 0.1M144.3 320.5l2.1 1.6M142.8 321.8l1.1 2.4M140.5 322.1l-0.3 2.6M138.3 321.2l-1.7 2.0M137.0 319.1l-2.5 0.7M136.9 317.6l-2.6 -0.3M137.5 315.8l-2.2 -1.4M139.0 314.3l-1.3 -2.3M141.2 313.8l0.1 -2.6M143.2 314.5l1.4 -2.2M144.9 316.6l2.5 -0.9" stroke="#58bcd0" stroke-width="1.25" stroke-linecap="round" fill="none"/>
<circle cx="141" cy="318" r="5.2" fill="#48bcd8"/>
<ellipse cx="141.6" cy="318.4" rx="3.224" ry="2.184" fill="#1a5a9a" transform="rotate(-20 141 318)"/>
<path d="M149.6 352.8l2.6 0.5M148.9 354.4l2.2 1.5M147.5 355.7l1.3 2.3M144.6 356.1l-0.6 2.6M142.7 355.1l-1.8 2.0M141.5 353.2l-2.5 0.8M141.3 351.8l-2.6 -0.1M141.9 349.9l-2.3 -1.4M144.3 348.0l-0.7 -2.5M145.9 347.9l0.3 -2.6M148.1 348.7l1.6 -2.1M149.4 350.6l2.5 -0.9" stroke="#58bcd0" stroke-width="1.25" stroke-linecap="round" fill="none"/>
<circle cx="145.5" cy="352" r="5.2" fill="#48bcd8"/>
<ellipse cx="146.1" cy="352.4" rx="3.224" ry="2.184" fill="#1a5a9a" transform="rotate(-20 145.5 352)"/>
<path d="M153.1 368.9l2.6 0.6M152.1 370.7l2.0 1.7M150.6 371.9l1.0 2.4M148.8 372.2l-0.1 2.6M146.6 371.4l-1.5 2.2M145.4 370.0l-2.3 1.3M145.0 366.9l-2.5 -0.7M145.5 365.8l-2.2 -1.4M147.8 364.0l-0.8 -2.5M149.3 363.9l0.2 -2.6M151.2 364.5l1.4 -2.2M153.0 366.7l2.5 -0.8" stroke="#58bcd0" stroke-width="1.25" stroke-linecap="round" fill="none"/>
<circle cx="149" cy="368" r="5.2" fill="#48bcd8"/>
<ellipse cx="149.6" cy="368.4" rx="3.224" ry="2.184" fill="#1a5a9a" transform="rotate(-20 149 368)"/>
<path d="M57.1 357.4l2.6 0.2M55.8 360.0l1.8 1.9M54.5 360.9l1.0 2.5M52.6 361.1l-0.2 2.6M50.0 359.8l-1.9 1.8M49.2 358.6l-2.4 1.0M48.8 357.0l-2.6 -0.0M50.0 354.1l-1.9 -1.8M51.9 353.0l-0.7 -2.5M53.2 352.8l0.1 -2.6M55.8 354.0l1.8 -1.9M56.7 355.1l2.3 -1.2" stroke="#f4f4fc" stroke-width="1.25" stroke-linecap="round" fill="none"/>
<circle cx="53" cy="357" r="5.2" fill="#dcd6f2"/>
<circle cx="53.4" cy="357.5" r="2.8600000000000003" fill="#a88ad0"/>
<path d="M73.1 366.8l2.6 0.5M72.3 368.5l2.1 1.6M70.6 369.8l1.0 2.4M68.7 370.2l-0.2 2.6M66.1 369.0l-1.8 1.9M65.3 367.8l-2.4 1.2M64.9 365.7l-2.6 -0.2M65.9 363.3l-2.0 -1.7M68.0 362.0l-0.6 -2.6M69.1 361.8l0.1 -2.6M71.1 362.4l1.3 -2.3M72.6 363.9l2.3 -1.3" stroke="#f4f4fc" stroke-width="1.25" stroke-linecap="round" fill="none"/>
<circle cx="69" cy="366" r="5.2" fill="#dcd6f2"/>
<circle cx="69.4" cy="366.5" r="2.8600000000000003" fill="#a88ad0"/>
<path d="M57.2 375.0l2.6 0.0M56.3 377.6l2.1 1.6M55.0 378.6l1.3 2.3M52.1 379.1l-0.6 2.6M50.1 378.0l-1.8 1.9M49.3 376.9l-2.4 1.2M49.0 373.8l-2.5 -0.8M49.7 372.4l-2.1 -1.6M51.7 371.0l-0.8 -2.5M53.3 370.9l0.2 -2.6M55.2 371.5l1.4 -2.2M56.8 373.3l2.4 -1.1" stroke="#f4f4fc" stroke-width="1.25" stroke-linecap="round" fill="none"/>
<circle cx="53" cy="375" r="5.2" fill="#dcd6f2"/>
<circle cx="53.4" cy="375.5" r="2.8600000000000003" fill="#a88ad0"/>
<path d="M128.1 363.8l2.6 0.5M127.0 365.8l1.9 1.8M125.7 366.8l1.1 2.4M123.3 367.1l-0.4 2.6M121.3 366.2l-1.7 2.0M120.4 365.1l-2.3 1.3M120.0 362.0l-2.6 -0.6M120.8 360.3l-2.0 -1.7M122.9 359.0l-0.7 -2.6M124.3 358.9l0.2 -2.6M126.2 359.5l1.4 -2.2M127.7 361.0l2.3 -1.3" stroke="#f4f4fc" stroke-width="1.25" stroke-linecap="round" fill="none"/>
<circle cx="124" cy="363" r="5.2" fill="#dcd6f2"/>
<circle cx="124.4" cy="363.5" r="2.8600000000000003" fill="#a88ad0"/>
<circle cx="132" cy="374" r="1.4" fill="none" stroke="#b47ccc" stroke-width="0.6"/>
<circle cx="127" cy="379" r="1.4" fill="none" stroke="#b47ccc" stroke-width="0.6"/>
<circle cx="137" cy="383" r="1.4" fill="none" stroke="#b47ccc" stroke-width="0.6"/>
<circle cx="123" cy="385" r="1.4" fill="none" stroke="#b47ccc" stroke-width="0.6"/>
<circle cx="141" cy="377" r="1.4" fill="none" stroke="#b47ccc" stroke-width="0.6"/>
<circle cx="134" cy="389" r="1.4" fill="none" stroke="#b47ccc" stroke-width="0.6"/>
<rect x="131" y="308" width="4" height="3" fill="#607878"/><rect x="132" y="395" width="4" height="3" fill="#607878"/>
<path d="M137,332 l3,4" stroke="#f0a040" stroke-width="1.2"/>
</g>
<rect x="24" y="437.5" width="176" height="21.5" rx="2" fill="#e6edf3" opacity="0.8"/>
<path d="M40.0 448.2l2.6 0.1M39.3 450.2l2.2 1.4M37.2 451.8l0.8 2.5M35.0 451.9l-0.6 2.5M33.4 451.0l-1.7 2.0M32.4 449.7l-2.4 1.1M32.0 448.0l-2.6 -0.0M33.1 445.2l-1.9 -1.8M34.1 444.5l-1.2 -2.3M36.2 444.0l0.1 -2.6M38.2 444.7l1.5 -2.2M39.6 446.4l2.4 -1.1" stroke="#58bcd0" stroke-width="1.25" stroke-linecap="round" fill="none"/>
<circle cx="36" cy="448" r="5" fill="#48bcd8"/>
<ellipse cx="36.6" cy="448.4" rx="3.1" ry="2.1" fill="#1a5a9a" transform="rotate(-20 36 448)"/>
<text x="50" y="451.5" font-size="8.8" fill="#222" font-weight="normal" text-anchor="start" font-family='"Liberation Sans", sans-serif'  style="">M1</text>
<path d="M94.0 448.5l2.6 0.3M93.4 450.1l2.2 1.4M91.0 451.9l0.6 2.5M89.2 451.9l-0.6 2.5M87.8 451.3l-1.4 2.2M86.5 449.8l-2.3 1.2M86.0 447.4l-2.6 -0.4M87.2 445.2l-1.8 -1.8M89.0 444.1l-0.6 -2.5M90.7 444.1l0.4 -2.6M92.4 444.8l1.5 -2.1M93.5 446.1l2.3 -1.2" stroke="#f4f4fc" stroke-width="1.25" stroke-linecap="round" fill="none"/>
<circle cx="90" cy="448" r="5" fill="#dcd6f2"/>
<circle cx="90.4" cy="448.5" r="2.75" fill="#a88ad0"/>
<text x="102.5" y="451.5" font-size="8.8" fill="#222" font-weight="normal" text-anchor="start" font-family='"Liberation Sans", sans-serif'  style="">M2</text>
<circle cx="142.5" cy="444.5" r="1.5" fill="none" stroke="#e8a060" stroke-width="0.8"/>
<circle cx="138.5" cy="449" r="1.5" fill="none" stroke="#c080d0" stroke-width="0.8"/>
<circle cx="145" cy="452" r="1.5" fill="none" stroke="#8080d0" stroke-width="0.8"/>
<text x="150.5" y="451.5" font-size="8.6" fill="#222" font-weight="normal" text-anchor="start" font-family='"Liberation Sans", sans-serif'  style="">Cytokines</text>
<text x="39.5" y="268.3" font-size="11.4" fill="#333" font-weight="normal" text-anchor="start" font-family='"Liberation Sans", sans-serif'  style="">Treated</text>
<text x="118" y="268.3" font-size="11.4" fill="#333" font-weight="normal" text-anchor="start" font-family='"Liberation Sans", sans-serif'  style="">Untreated</text>
<path d="M248,300 Q238,342 194,352" stroke="url(#arr1)" stroke-width="7.5" fill="none"/>
<polygon points="184,352.6 197,345 198,360" fill="#149ccc"/>
<path d="M276,373.5 L194,373.5" stroke="url(#arr2)" stroke-width="8" fill="none"/>
<polygon points="184,373.5 197,366 197,381" fill="#149ccc"/>
<path d="M238,412 Q226,395 194,394.5" stroke="url(#arr3)" stroke-width="7.5" fill="none"/>
<polygon points="184,394.5 197,387 197,402" fill="#149ccc"/>
<path d="M372,298 Q330,352 254,310" stroke="url(#arcg)" stroke-width="6.5" fill="none"/>
<polygon points="244,303 259,305 250,316" fill="#f0d8a0"/>
<text x="228.7" y="274.5" font-size="10.1" fill="#222" font-weight="bold" text-anchor="middle" font-family='"Liberation Sans", sans-serif'  style="">Enhanced</text>
<text x="228.7" y="286.5" font-size="10.1" fill="#222" font-weight="bold" text-anchor="middle" font-family='"Liberation Sans", sans-serif'  style="">ROS</text>
<text x="228.7" y="298" font-size="10.1" fill="#222" font-weight="bold" text-anchor="middle" font-family='"Liberation Sans", sans-serif'  style="">scavenging</text>
<text x="378" y="274.5" font-size="9.8" fill="#222" font-weight="bold" text-anchor="middle" font-family='"Liberation Sans", sans-serif'  style="">Exposed</text>
<text x="378" y="286.5" font-size="9.8" fill="#222" font-weight="bold" text-anchor="middle" font-family='"Liberation Sans", sans-serif'  style="">catalytic</text>
<text x="378" y="298" font-size="9.8" fill="#222" font-weight="bold" text-anchor="middle" font-family='"Liberation Sans", sans-serif'  style="">sites</text>
<rect x="263.5" y="256.5" width="87" height="51" fill="#fcfcfc" stroke="#e08080" stroke-width="0.9" stroke-dasharray="3.5 2"/>
<path d="M284,257 L293,257 Q328,282 293,307 L284,307 Z" fill="url(#ygl2)"/>
<circle cx="271" cy="286" r="6" fill="#f0a4bc" opacity="0.8" filter="url(#blur05)"/>
<circle cx="338" cy="297" r="6.5" fill="#30a8b4" opacity="0.9" filter="url(#blur05)"/>
<circle cx="323" cy="270" r="2.6" fill="#90d0c8"/><circle cx="343" cy="270" r="2.6" fill="#90d0c8"/>
<circle cx="295" cy="286" r="4.5" fill="#a8c8e8" opacity="0.8"/>
<circle cx="296" cy="274" r="2.1" fill="#a8c4e8"/>
<circle cx="290" cy="297" r="2.1" fill="#a0c0e4"/>
<circle cx="285" cy="261" r="2.1" fill="#e8c0d8"/>
<circle cx="270" cy="298" r="2.1" fill="#e0a8c4"/>
<circle cx="332" cy="281" r="2.1" fill="#90c8b8"/>
<circle cx="304" cy="294" r="2.1" fill="#a8c4e8"/>
<text x="268" y="270" font-size="8.4" fill="#333" font-weight="bold" text-anchor="start" font-family='"Liberation Sans", sans-serif'  style="">H<tspan font-size="5" dy="2">2</tspan><tspan dy="-2">O</tspan><tspan font-size="5" dy="2">2</tspan></text>
<text x="271" y="292" font-size="8.4" fill="#333" font-weight="bold" text-anchor="start" font-family='"Liberation Sans", sans-serif'  style="">OH</text>
<text x="292.5" y="289.5" font-size="7.6" fill="#234" font-weight="normal" text-anchor="start" font-family='"Liberation Sans", sans-serif'  style="">O<tspan font-size="5" dy="2">2</tspan><tspan font-size="5" dy="-5">-</tspan></text>
<text x="326" y="272.5" font-size="8.4" fill="#333" font-weight="bold" text-anchor="start" font-family='"Liberation Sans", sans-serif'  style="">H<tspan font-size="5" dy="2">2</tspan><tspan dy="-2">O</tspan></text>
<text x="334" y="300.5" font-size="7.6" fill="#234" font-weight="normal" text-anchor="start" font-family='"Liberation Sans", sans-serif'  style="">O<tspan font-size="5" dy="2">2</tspan></text>
<path d="M312,282.5 l11,0" stroke="#e8d0a0" stroke-width="0.8"/>
<text x="354" y="339.5" font-size="9.6" fill="#e07a80" font-weight="normal" text-anchor="start" font-family='"Liberation Sans", sans-serif'  style="">CeO<tspan font-size="6" dy="2">2</tspan><tspan dy="-2">-Pt</tspan></text>
<path d="M332.6 329.0l1.4 -4.3M336.0 330.5l2.3 -3.9M311.1 343.9l-4.5 -0.2M334.4 359.8l1.8 4.1M312.3 338.6l-4.2 -1.7M341.3 354.0l3.7 2.5M343.9 341.9l4.4 -0.8M343.9 342.1l4.4 -0.7M335.4 330.2l2.1 -4.0M312.8 337.4l-4.0 -2.0M326.4 328.2l-0.3 -4.5M343.6 348.7l4.4 1.1M328.7 328.2l0.3 -4.5M344.0 346.5l4.5 0.5M341.8 336.3l3.9 -2.3M341.6 353.4l3.8 2.4M340.1 355.5l3.4 2.9M319.7 330.2l-2.2 -3.9M311.4 347.6l-4.4 0.8M323.0 360.5l-1.3 4.3M344.0 346.6l4.5 0.5M341.9 352.9l3.9 2.2M315.3 355.7l-3.4 3.0M322.0 329.2l-1.5 -4.2M312.8 351.9l-4.0 2.0M338.0 331.9l2.8 -3.5M330.3 328.4l0.7 -4.4M311.5 341.2l-4.4 -1.0" stroke="#3a8aa0" stroke-width="1.0" stroke-linecap="round" fill="none"/>
<path d="M333.0 360.3l1.5 4.3M334.9 329.9l2.0 -4.0M344.1 344.7l4.5 -0.0M318.9 330.7l-2.4 -3.8M337.4 331.4l2.7 -3.6M335.3 359.3l2.1 4.0M311.4 347.8l-4.4 0.9M333.5 360.1l1.6 4.2M319.8 359.2l-2.1 4.0M342.8 338.3l4.2 -1.7M311.4 341.5l-4.4 -0.9M344.0 346.0l4.5 0.4M318.3 331.1l-2.5 -3.7M322.7 360.4l-1.3 4.3M312.9 337.2l-4.0 -2.1M332.1 328.8l1.2 -4.3M328.7 328.2l0.3 -4.5M322.6 329.0l-1.4 -4.3M343.9 342.1l4.4 -0.7M339.9 333.7l3.4 -3.0M328.7 361.2l0.3 4.5M329.9 328.4l0.6 -4.5M336.3 358.7l2.4 3.8M343.9 347.3l4.4 0.7M325.8 361.1l-0.5 4.5M323.7 360.7l-1.1 4.4M342.5 351.8l4.1 1.9M326.1 328.3l-0.4 -4.5M341.5 353.5l3.8 2.4M324.2 360.8l-0.9 4.4M321.0 359.8l-1.8 4.1M318.6 330.8l-2.4 -3.8M325.1 361.0l-0.7 4.4" stroke="#2a7a90" stroke-width="1.0" stroke-linecap="round" fill="none"/>
<path d="M323.3 360.6l-1.2 4.3M337.7 357.8l2.7 3.6M339.8 355.8l3.3 3.0M330.6 328.5l0.8 -4.4M336.9 331.1l2.5 -3.7M314.0 335.4l-3.7 -2.5M342.2 352.3l4.0 2.1M326.5 328.2l-0.3 -4.5M335.3 330.1l2.1 -4.0M312.1 350.3l-4.2 1.5M327.7 328.2l0.0 -4.5M343.2 350.0l4.3 1.5M339.8 355.8l3.3 3.0M341.3 335.4l3.7 -2.5M311.1 345.9l-4.5 0.3M311.4 347.6l-4.4 0.8M343.7 341.3l4.4 -0.9M323.7 328.7l-1.1 -4.4M313.3 352.9l-3.9 2.2M311.1 343.6l-4.5 -0.3M336.0 358.9l2.3 3.9M339.4 333.2l3.2 -3.1M333.3 360.2l1.6 4.2M328.1 328.2l0.1 -4.5M311.3 347.0l-4.5 0.6M329.4 328.3l0.5 -4.5M311.3 342.2l-4.4 -0.7M315.7 356.1l-3.3 3.1M339.3 333.1l3.2 -3.2" stroke="#4a9a70" stroke-width="1.0" stroke-linecap="round" fill="none"/>
<circle cx="327.6" cy="344.7" r="18.5" fill="url(#npg)"/>
<path d="M334.0 353.0h0M331.3 360.1h0M311.7 341.9h0M340.1 352.3h0M318.7 355.6h0M312.1 345.1h0M313.8 340.9h0M313.0 345.4h0M321.7 329.4h0M326.5 342.4h0M320.1 333.4h0M325.5 338.4h0M325.2 345.9h0M341.3 355.6h0M318.4 345.5h0M313.5 336.4h0M324.7 361.5h0M321.1 352.0h0M329.6 331.3h0M324.7 352.7h0M329.4 347.2h0M342.7 338.7h0M314.8 334.1h0M328.2 327.9h0M332.4 338.9h0M339.1 356.9h0M313.7 340.8h0M338.3 355.8h0M315.7 353.5h0M318.7 351.8h0M337.8 337.1h0M326.5 332.9h0M327.1 360.9h0M340.5 349.5h0M343.4 344.0h0M316.7 358.2h0M338.9 332.1h0M316.9 355.6h0M315.6 355.6h0M338.5 342.7h0M326.1 345.3h0M317.6 357.9h0M330.4 337.6h0M322.1 338.2h0M332.5 352.4h0" stroke="#e8e050" stroke-width="2.0" stroke-linecap="round" fill="none"/>
<path d="M317.4 332.5h0M331.5 331.1h0M328.3 341.3h0M331.4 357.3h0M323.2 347.8h0M323.9 350.2h0M316.1 342.7h0M313.3 346.5h0M323.4 361.4h0M321.6 330.2h0M320.8 338.9h0M314.9 355.5h0M318.1 345.1h0M343.2 339.4h0M328.5 338.3h0M331.1 347.0h0M336.5 353.3h0M331.9 333.0h0M329.7 345.4h0M333.2 349.0h0M338.0 342.7h0M329.1 353.4h0M324.7 344.5h0M330.0 329.1h0M315.5 340.8h0M343.0 344.8h0M333.7 344.5h0M320.7 360.0h0M312.8 351.8h0M324.7 353.9h0M315.5 344.9h0M327.6 355.3h0M324.8 354.5h0M324.5 350.2h0M324.2 345.3h0M310.6 347.2h0" stroke="#f0d860" stroke-width="2.0" stroke-linecap="round" fill="none"/>
<path d="M339.3 349.4h0M322.4 347.2h0M344.4 349.6h0M322.9 344.4h0M323.8 352.2h0M312.6 336.8h0M321.4 336.8h0M317.6 339.0h0M315.3 355.4h0M338.5 340.9h0M323.7 350.1h0M325.1 331.5h0M319.8 353.5h0M333.2 342.7h0M317.3 348.1h0M327.3 334.7h0M325.8 330.4h0M320.2 334.9h0M332.3 354.7h0M339.5 341.8h0M311.7 343.8h0M337.0 345.6h0M328.3 346.0h0M328.4 341.8h0M322.6 338.4h0M317.5 337.0h0M317.6 351.1h0M316.9 349.0h0M337.7 336.1h0M325.8 343.7h0M344.4 348.3h0M314.9 351.6h0M332.6 342.9h0M331.1 350.1h0M335.1 330.9h0M317.0 331.5h0M336.4 335.7h0" stroke="#c8d040" stroke-width="2.0" stroke-linecap="round" fill="none"/>
<path d="M342.1 349.1h0M334.6 329.3h0M326.3 328.4h0M332.1 356.3h0M327.2 360.3h0M311.1 347.6h0M316.1 344.0h0M336.2 335.6h0M319.5 331.4h0M333.3 356.5h0M327.0 331.9h0M323.0 341.8h0M344.2 349.4h0M322.9 347.2h0M329.3 356.8h0M334.6 352.7h0M336.1 330.2h0M319.7 335.8h0M317.3 350.3h0M328.6 360.6h0M328.6 347.9h0M317.7 337.1h0M332.5 353.0h0M322.4 348.9h0M331.9 337.4h0M330.0 345.4h0M330.1 357.4h0M337.6 356.1h0M314.0 335.9h0M338.1 341.1h0M313.1 344.0h0M338.4 352.3h0" stroke="#d8e060" stroke-width="2.0" stroke-linecap="round" fill="none"/>
<path d="M342.7 393.4l1.7 5.1M313.7 393.8l1.0 3.6M344.1 377.8l6.0 -1.1M311.8 392.1l-0.5 6.9M309.1 384.9l-6.0 -2.0M309.2 380.8l-6.0 0.1M344.9 378.9l6.0 0.1M344.4 385.7l6.0 0.0M343.3 391.8l6.0 -0.2M310.9 371.7l-6.0 -1.6M309.6 375.6l-6.0 0.3M343.2 366.9l6.0 -1.6M320.9 392.9l-1.0 6.5M343.5 365.0l6.0 -0.7M344.4 362.6l6.0 -1.3M310.5 364.9l-6.0 -0.2M310.5 387.9l-6.0 -0.1M309.3 368.3l-6.0 -1.9M316.8 393.9l-0.2 5.4" stroke="#d8d070" stroke-width="0.5" stroke-linecap="round" fill="none"/>
<path d="M343.1 376.4l6.0 0.4M344.0 393.9l-1.5 6.4M318.1 394.0l-0.8 4.8M344.6 380.9l6.0 1.7M311.4 393.7l-1.4 4.5M343.2 383.7l6.0 -1.7M343.6 393.1l-1.4 3.2M327.5 393.3l1.6 4.9M344.8 389.7l6.0 0.2M344.2 374.0l6.0 2.0M344.1 371.7l6.0 -0.9M315.6 392.4l1.4 3.1M344.5 376.0l6.0 1.7M318.0 393.3l1.3 3.2M328.5 392.8l-1.3 5.4M314.2 393.9l1.3 6.8M344.2 391.8l6.0 1.8M309.9 382.6l-6.0 -0.0M312.8 393.4l1.1 6.9M324.5 393.3l1.6 4.8M314.9 392.4l-1.5 3.6M310.5 373.9l-6.0 0.7" stroke="#c8d890" stroke-width="0.5" stroke-linecap="round" fill="none"/>
<path d="M324.3 393.0l-0.8 3.5M309.0 371.6l-6.0 -0.4M344.7 368.0l6.0 -0.7M336.8 393.6l-0.7 4.5M343.9 380.4l6.0 1.6M344.0 377.7l6.0 1.7M315.6 392.7l0.4 3.6M338.6 392.0l1.9 4.3M342.0 393.5l1.6 6.1M310.0 368.2l-6.0 -1.8M344.1 389.8l6.0 -1.4M330.5 392.2l-0.7 5.5M311.9 392.1l0.3 3.8M309.5 382.1l-6.0 1.2M344.1 388.0l6.0 -0.6M310.6 375.9l-6.0 1.8M316.6 392.7l1.3 4.1M311.5 393.0l1.8 6.8M310.6 387.4l-6.0 -0.1" stroke="#e0c870" stroke-width="0.5" stroke-linecap="round" fill="none"/>
<path d="M309.6,359.5 L338,359.5 L338,393 L309.6,393 Z" fill="#a8c0e8"/>
<path d="M338,359.5 L344,356.5 L344,390 L338,393 Z" fill="#7890c8"/>
<circle cx="312.5" cy="364.3" r="2.7" fill="#2a5a5a"/>
<circle cx="318" cy="364.3" r="2.7" fill="#2a5a5a"/>
<circle cx="326" cy="364.3" r="2.7" fill="#2a5a5a"/>
<circle cx="334.5" cy="364.3" r="2.7" fill="#2a5a5a"/>
<circle cx="312.5" cy="372.9" r="2.7" fill="#2a5a5a"/>
<circle cx="318" cy="372.9" r="2.7" fill="#2a5a5a"/>
<circle cx="326" cy="372.9" r="2.7" fill="#2a5a5a"/>
<circle cx="334.5" cy="372.9" r="2.7" fill="#2a5a5a"/>
<circle cx="312.5" cy="381.5" r="2.7" fill="#2a5a5a"/>
<circle cx="318" cy="381.5" r="2.7" fill="#2a5a5a"/>
<circle cx="326" cy="381.5" r="2.7" fill="#2a5a5a"/>
<circle cx="334.5" cy="381.5" r="2.7" fill="#2a5a5a"/>
<circle cx="312.5" cy="388.8" r="2.7" fill="#2a5a5a"/>
<circle cx="318" cy="388.8" r="2.7" fill="#2a5a5a"/>
<circle cx="326" cy="388.8" r="2.7" fill="#2a5a5a"/>
<circle cx="334.5" cy="388.8" r="2.7" fill="#2a5a5a"/>
<text x="271.5" y="348.5" font-size="9.4" fill="#3aa8d0" font-weight="normal" text-anchor="start" font-family='"Liberation Sans", sans-serif'  style="">ICG</text>
<path d="M272,358 l5,-4 M290,349 l6,-3 M280,380 l3,-6 M306,342 l5,-2" stroke="#3aa8d0" stroke-width="1.8"/>
<path d="M251.5,345 L240,369 Q249,372 257,368 Z" fill="url(#flg)"/>
<path d="M255,334 L251,348" stroke="#222" stroke-width="3.2" stroke-linecap="round"/>
<text x="240.5" y="388" font-size="9.8" fill="#222" font-weight="bold" text-anchor="middle" font-family='"Liberation Sans", sans-serif'  style="">NIR-II imaging</text>
<text x="246" y="412.5" font-size="9.8" fill="#222" font-weight="bold" text-anchor="middle" font-family='"Liberation Sans", sans-serif'  style="">Osteoclast</text>
<text x="246" y="424.5" font-size="9.8" fill="#222" font-weight="bold" text-anchor="middle" font-family='"Liberation Sans", sans-serif'  style="">inhibitory</text>
<text x="338.5" y="412.8" font-size="9.7" fill="#5ab45a" font-weight="normal" text-anchor="start" font-family='"Liberation Sans", sans-serif'  style="">Micheliolide</text>
<circle cx="310.7" cy="407.6" r="2.4" fill="#3c9a50"/>
<circle cx="323.7" cy="404.7" r="2.4" fill="#3c9a50"/>
<circle cx="327.6" cy="415" r="2.4" fill="#3c9a50"/>
<path d="M318,415 L315,433" stroke="#f0a8c8" stroke-width="3"/>
<path d="M308.7,433.5 L320,433.5" stroke="#f0a8c8" stroke-width="2"/>
<path d="M348,443 L284,443" stroke="#a8ccc4" stroke-width="3.5"/>
<polygon points="276,443 286,437 286,449" fill="#a8ccc4"/>
<path d="M307,437.7 l10,10 M317,437.7 l-10,10" stroke="#e04848" stroke-width="1.8"/>
<path d="M239,438 Q241,428 251,428 Q262,427 263,438 Q264,449 251,449 Q237,449 239,438 Z" fill="#b8e2a2" stroke="#7ab870" stroke-width="0.9" stroke-dasharray="1.5 0.8"/>
<ellipse cx="252" cy="438" rx="4" ry="3" fill="#8cc878"/>
<ellipse cx="360.4" cy="437.9" rx="12" ry="10.5" fill="#c4e8ae" stroke="#82bc74" stroke-width="0.8"/>
<ellipse cx="362" cy="437" rx="4" ry="3" fill="#94cc80"/>
<text x="248.5" y="459" font-size="9.6" fill="#333" font-weight="normal" text-anchor="middle" font-family='"Liberation Sans", sans-serif'  style="">Osteoclast</text>
<text x="357.5" y="459" font-size="9.6" fill="#333" font-weight="normal" text-anchor="middle" font-family='"Liberation Sans", sans-serif'  style="">Osteoclast precursor</text>
<rect x="423.6" y="268.7" width="225.60000000000002" height="170.8" fill="#c8c8c8"/>
<rect x="423.6" y="268.7" width="36.6" height="65.80000000000001" fill="url(#bluedots)"/>
<g clip-path="url(#cdp0)">
<path d="M447.8,265.4 L441.9,296.3 L433.8,308.2 L427.3,327.9" stroke="#0a3470" stroke-width="5" fill="none" opacity="0.75" filter="url(#blur1)"/>
<line x1="455.1" y1="263.4" x2="447.0" y2="301.6" stroke="#b47470" stroke-width="12.4" stroke-linecap="round"/>
<line x1="455.1" y1="263.4" x2="451.1" y2="282.5" stroke="#e8d0c4" stroke-width="9.5" opacity="0.55" filter="url(#blur1)"/>
<ellipse cx="444.5" cy="308.2" rx="10.2" ry="9.9" transform="rotate(-55 444.5 308.2)" fill="#b47470"/>
<line x1="438.2" y1="313.4" x2="429.1" y2="326.6" stroke="#b47470" stroke-width="4.4" stroke-linecap="round"/>
<line x1="441.9" y1="316.1" x2="433.5" y2="331.2" stroke="#b47470" stroke-width="4.4" stroke-linecap="round"/>
<line x1="445.6" y1="317.4" x2="439.0" y2="332.5" stroke="#b47470" stroke-width="4.4" stroke-linecap="round"/>
<line x1="449.2" y1="314.8" x2="444.8" y2="329.2" stroke="#b47470" stroke-width="4.4" stroke-linecap="round"/>
<line x1="440.1" y1="301.6" x2="430.9" y2="299.6" stroke="#b47470" stroke-width="4.4" stroke-linecap="round"/>
<line x1="439.7" y1="318.7" x2="431.7" y2="329.9" stroke="#5a3040" stroke-width="0.6" opacity="0.6"/>
<line x1="443.7" y1="320.0" x2="436.4" y2="332.5" stroke="#5a3040" stroke-width="0.6" opacity="0.6"/>
<line x1="447.4" y1="318.7" x2="441.9" y2="331.2" stroke="#5a3040" stroke-width="0.6" opacity="0.6"/>
<ellipse cx="445.6" cy="301.6" rx="7" ry="12" transform="rotate(30 445.6 301.6)" fill="#a83848" opacity="0.35" filter="url(#blur2)"/>
</g>
<rect x="423.6" y="335.2" width="36.6" height="66.10000000000002" fill="#040404"/>
<g clip-path="url(#cdm0)"><g transform="rotate(14 441.9 368.2)">
<polygon points="437.5,343.1 445.6,343.1 448.5,364.9 454.7,381.5 451.1,388.1 446.3,396.0 434.6,396.0 432.8,382.8 429.1,376.2 434.6,371.6" fill="#2e2e2e" opacity="0.9" filter="url(#blur1)"/>
<path d="M445.0,343.5 Q444.3,364.8 447.5,386.1" stroke="#c8c8c8" stroke-width="0.6" fill="none" opacity="0.74"/>
<path d="M443.3,347.0 Q444.0,365.2 444.3,383.3" stroke="#c8c8c8" stroke-width="0.6" fill="none" opacity="0.72"/>
<path d="M445.7,343.8 Q450.7,362.5 451.0,381.2" stroke="#c8c8c8" stroke-width="0.6" fill="none" opacity="0.75"/>
<path d="M446.0,344.3 Q448.9,362.5 450.2,380.8" stroke="#c8c8c8" stroke-width="0.6" fill="none" opacity="0.60"/>
<path d="M445.2,346.6 Q444.1,366.9 445.7,387.1" stroke="#c8c8c8" stroke-width="0.6" fill="none" opacity="0.98"/>
<path d="M441.8,343.0 Q440.0,364.6 441.0,386.1" stroke="#c8c8c8" stroke-width="0.6" fill="none" opacity="0.81"/>
<path d="M443.4,345.8 Q448.6,363.2 448.4,380.6" stroke="#c8c8c8" stroke-width="0.6" fill="none" opacity="0.91"/>
<path d="M439.7,347.0 Q438.7,367.1 436.9,387.3" stroke="#c8c8c8" stroke-width="0.6" fill="none" opacity="0.88"/>
<path d="M439.7,347.7 Q439.3,365.2 437.1,382.8" stroke="#c8c8c8" stroke-width="0.6" fill="none" opacity="0.83"/>
<path d="M439.6,342.1 Q438.9,362.7 437.8,383.3" stroke="#c8c8c8" stroke-width="0.6" fill="none" opacity="0.63"/>
<path d="M441.8,344.4 Q440.1,363.4 442.3,382.4" stroke="#c8c8c8" stroke-width="0.6" fill="none" opacity="0.82"/>
<path d="M438.5,342.8 Q436.6,363.4 432.9,383.9" stroke="#c8c8c8" stroke-width="0.6" fill="none" opacity="0.74"/>
<path d="M441.7,345.6 Q439.1,366.2 441.0,386.8" stroke="#c8c8c8" stroke-width="0.6" fill="none" opacity="0.62"/>
<path d="M443.8,345.2 Q443.7,365.6 445.0,385.9" stroke="#c8c8c8" stroke-width="0.6" fill="none" opacity="0.74"/>
<path d="M442.2,348.0 Q440.7,366.0 439.0,384.0" stroke="#c8c8c8" stroke-width="0.6" fill="none" opacity="0.82"/>
<path d="M441.8,346.2 Q443.8,366.5 443.9,386.7" stroke="#c8c8c8" stroke-width="0.6" fill="none" opacity="0.89"/>
<path d="M439.1,346.9 Q440.1,367.3 439.3,387.8" stroke="#c8c8c8" stroke-width="0.6" fill="none" opacity="0.81"/>
<path d="M444.4,348.0 Q447.3,365.4 450.4,382.8" stroke="#c8c8c8" stroke-width="0.6" fill="none" opacity="0.86"/>
<path d="M440.9,346.8 Q437.8,365.4 437.9,384.1" stroke="#c8c8c8" stroke-width="0.6" fill="none" opacity="0.62"/>
<path d="M443.1,347.8 Q443.7,365.5 446.6,383.1" stroke="#c8c8c8" stroke-width="0.6" fill="none" opacity="0.95"/>
<path d="M441.2,344.3 Q438.2,363.5 436.4,382.8" stroke="#c8c8c8" stroke-width="0.6" fill="none" opacity="0.98"/>
<path d="M442.6,348.2 Q443.4,366.5 441.7,384.8" stroke="#c8c8c8" stroke-width="0.6" fill="none" opacity="0.61"/>
<path d="M444.5,345.7 Q446.4,365.9 447.6,386.2" stroke="#c8c8c8" stroke-width="0.6" fill="none" opacity="0.64"/>
<path d="M442.0,347.1 Q443.8,364.5 444.7,382.0" stroke="#c8c8c8" stroke-width="0.6" fill="none" opacity="0.80"/>
<ellipse cx="436.0" cy="392.0" rx="1.4" ry="3.2" fill="#3a3a3a" stroke="#9a9a9a" stroke-width="0.5" transform="rotate(15 436.0 392.0)"/>
<ellipse cx="439.7" cy="392.0" rx="1.4" ry="3.2" fill="#3a3a3a" stroke="#9a9a9a" stroke-width="0.5" transform="rotate(15 439.7 392.0)"/>
<ellipse cx="443.4" cy="392.0" rx="1.4" ry="3.2" fill="#3a3a3a" stroke="#9a9a9a" stroke-width="0.5" transform="rotate(15 443.4 392.0)"/>
<ellipse cx="447.0" cy="392.0" rx="1.4" ry="3.2" fill="#3a3a3a" stroke="#9a9a9a" stroke-width="0.5" transform="rotate(15 447.0 392.0)"/>
<ellipse cx="431.7" cy="374.9" rx="3" ry="1.8" fill="none" stroke="#a8a8a8" stroke-width="0.6"/>
</g></g>
<rect x="423.6" y="402.6" width="36.6" height="36.89999999999998" fill="#050202"/>
<g clip-path="url(#cdn0)">
<polyline points="425.8,416.6 434.6,422.9 454.7,430.3" fill="none" stroke="#980c06" stroke-width="8.9" stroke-linecap="round" stroke-linejoin="round" filter="url(#blur1)"/>
<polyline points="425.8,416.6 434.6,422.9 454.7,430.3" fill="none" stroke="#c82010" stroke-width="5.8" stroke-linecap="round" stroke-linejoin="round" filter="url(#blur1)"/>
</g>
<text x="441.90000000000003" y="452.5" font-size="9.6" fill="#111" font-weight="bold" text-anchor="middle" font-family='"Liberation Sans", sans-serif'  style="">0 d</text>
<rect x="461.2" y="268.7" width="36.6" height="65.80000000000001" fill="url(#bluedots)"/>
<g clip-path="url(#cdp1)">
<path d="M485.4,265.4 L479.5,296.3 L471.4,308.2 L464.9,327.9" stroke="#0a3470" stroke-width="5" fill="none" opacity="0.75" filter="url(#blur1)"/>
<line x1="492.7" y1="263.4" x2="484.6" y2="301.6" stroke="#b88276" stroke-width="12.4" stroke-linecap="round"/>
<line x1="492.7" y1="263.4" x2="488.6" y2="282.5" stroke="#e8d0c4" stroke-width="9.5" opacity="0.55" filter="url(#blur1)"/>
<ellipse cx="482.1" cy="308.2" rx="10.2" ry="9.9" transform="rotate(-55 482.1 308.2)" fill="#b88276"/>
<line x1="475.8" y1="313.4" x2="466.7" y2="326.6" stroke="#b88276" stroke-width="4.4" stroke-linecap="round"/>
<line x1="479.5" y1="316.1" x2="471.1" y2="331.2" stroke="#b88276" stroke-width="4.4" stroke-linecap="round"/>
<line x1="483.2" y1="317.4" x2="476.6" y2="332.5" stroke="#b88276" stroke-width="4.4" stroke-linecap="round"/>
<line x1="486.8" y1="314.8" x2="482.4" y2="329.2" stroke="#b88276" stroke-width="4.4" stroke-linecap="round"/>
<line x1="477.7" y1="301.6" x2="468.5" y2="299.6" stroke="#b88276" stroke-width="4.4" stroke-linecap="round"/>
<line x1="477.3" y1="318.7" x2="469.3" y2="329.9" stroke="#5a3040" stroke-width="0.6" opacity="0.6"/>
<line x1="481.3" y1="320.0" x2="474.0" y2="332.5" stroke="#5a3040" stroke-width="0.6" opacity="0.6"/>
<line x1="485.0" y1="318.7" x2="479.5" y2="331.2" stroke="#5a3040" stroke-width="0.6" opacity="0.6"/>
<ellipse cx="483.2" cy="301.6" rx="7" ry="12" transform="rotate(30 483.2 301.6)" fill="#a83848" opacity="0.35" filter="url(#blur2)"/>
</g>
<rect x="461.2" y="335.2" width="36.6" height="66.10000000000002" fill="#040404"/>
<g clip-path="url(#cdm1)"><g transform="rotate(14 479.5 368.2)">
<polygon points="474.7,343.1 483.5,343.1 486.7,364.9 493.5,381.5 489.5,388.1 484.3,396.0 471.5,396.0 469.5,382.8 465.5,376.2 471.5,371.6" fill="#343434" opacity="0.9" filter="url(#blur1)"/>
<path d="M480.2,347.1 Q479.5,365.0 482.0,382.8" stroke="#c8c8c8" stroke-width="0.6" fill="none" opacity="0.74"/>
<path d="M484.0,344.8 Q486.9,365.5 489.3,386.2" stroke="#c8c8c8" stroke-width="0.6" fill="none" opacity="0.69"/>
<path d="M478.8,348.1 Q477.6,365.7 477.3,383.3" stroke="#c8c8c8" stroke-width="0.6" fill="none" opacity="0.61"/>
<path d="M476.7,345.6 Q475.6,363.5 472.0,381.3" stroke="#c8c8c8" stroke-width="0.6" fill="none" opacity="0.92"/>
<path d="M476.1,348.1 Q471.6,366.0 466.4,383.8" stroke="#c8c8c8" stroke-width="0.6" fill="none" opacity="0.98"/>
<path d="M482.8,346.6 Q486.9,367.2 491.8,387.9" stroke="#c8c8c8" stroke-width="0.6" fill="none" opacity="0.75"/>
<path d="M476.6,347.4 Q473.8,365.3 472.5,383.2" stroke="#c8c8c8" stroke-width="0.6" fill="none" opacity="0.74"/>
<path d="M476.0,348.3 Q476.7,365.2 472.5,382.2" stroke="#c8c8c8" stroke-width="0.6" fill="none" opacity="0.99"/>
<path d="M475.3,342.2 Q474.2,364.4 470.2,386.6" stroke="#c8c8c8" stroke-width="0.6" fill="none" opacity="0.88"/>
<path d="M477.3,343.8 Q473.9,362.4 473.5,380.9" stroke="#c8c8c8" stroke-width="0.6" fill="none" opacity="1.00"/>
<path d="M482.0,344.0 Q485.0,363.8 488.7,383.6" stroke="#c8c8c8" stroke-width="0.6" fill="none" opacity="0.62"/>
<path d="M479.4,343.1 Q477.5,363.2 479.8,383.4" stroke="#c8c8c8" stroke-width="0.6" fill="none" opacity="0.79"/>
<path d="M482.0,347.3 Q485.3,364.5 485.3,381.8" stroke="#c8c8c8" stroke-width="0.6" fill="none" opacity="0.86"/>
<path d="M482.8,348.4 Q480.9,365.1 485.6,381.8" stroke="#c8c8c8" stroke-width="0.6" fill="none" opacity="0.76"/>
<path d="M482.3,344.4 Q484.7,363.2 486.5,382.0" stroke="#c8c8c8" stroke-width="0.6" fill="none" opacity="0.96"/>
<path d="M482.0,348.0 Q485.7,367.0 488.5,385.9" stroke="#c8c8c8" stroke-width="0.6" fill="none" opacity="0.76"/>
<path d="M482.4,342.1 Q485.6,364.9 487.6,387.7" stroke="#c8c8c8" stroke-width="0.6" fill="none" opacity="0.75"/>
<path d="M482.2,342.4 Q483.8,363.6 483.1,384.8" stroke="#c8c8c8" stroke-width="0.6" fill="none" opacity="0.73"/>
<path d="M480.2,344.8 Q480.1,363.4 481.4,382.1" stroke="#c8c8c8" stroke-width="0.6" fill="none" opacity="0.67"/>
<path d="M481.0,347.0 Q485.3,366.6 485.4,386.2" stroke="#c8c8c8" stroke-width="0.6" fill="none" opacity="0.88"/>
<path d="M480.4,342.0 Q481.2,364.5 481.3,387.0" stroke="#c8c8c8" stroke-width="0.6" fill="none" opacity="0.95"/>
<path d="M477.1,348.2 Q473.8,366.1 473.1,384.1" stroke="#c8c8c8" stroke-width="0.6" fill="none" opacity="0.85"/>
<path d="M478.1,342.3 Q480.4,362.6 478.5,383.0" stroke="#c8c8c8" stroke-width="0.6" fill="none" opacity="0.78"/>
<path d="M475.1,347.1 Q472.8,364.5 467.5,382.0" stroke="#c8c8c8" stroke-width="0.6" fill="none" opacity="0.67"/>
<ellipse cx="473.1" cy="392.0" rx="1.5" ry="3.2" fill="#3a3a3a" stroke="#9a9a9a" stroke-width="0.5" transform="rotate(15 473.1 392.0)"/>
<ellipse cx="477.1" cy="392.0" rx="1.5" ry="3.2" fill="#3a3a3a" stroke="#9a9a9a" stroke-width="0.5" transform="rotate(15 477.1 392.0)"/>
<ellipse cx="481.1" cy="392.0" rx="1.5" ry="3.2" fill="#3a3a3a" stroke="#9a9a9a" stroke-width="0.5" transform="rotate(15 481.1 392.0)"/>
<ellipse cx="485.1" cy="392.0" rx="1.5" ry="3.2" fill="#3a3a3a" stroke="#9a9a9a" stroke-width="0.5" transform="rotate(15 485.1 392.0)"/>
<ellipse cx="468.3" cy="374.9" rx="3" ry="1.8" fill="none" stroke="#a8a8a8" stroke-width="0.6"/>
</g></g>
<rect x="461.2" y="402.6" width="36.6" height="36.89999999999998" fill="#050202"/>
<g clip-path="url(#cdn1)">
<polyline points="464.1,413.7 474.0,422.9 496.0,434.0" fill="none" stroke="#d81808" stroke-width="10.3" stroke-linecap="round" stroke-linejoin="round" filter="url(#blur1)"/>
<polyline points="464.1,413.7 474.0,422.9 496.0,434.0" fill="none" stroke="#f04a14" stroke-width="6.7" stroke-linecap="round" stroke-linejoin="round" filter="url(#blur1)"/>
<polyline points="464.1,413.7 474.0,422.9 496.0,434.0" fill="none" stroke="#ff8a30" stroke-width="3.6" stroke-linecap="round" stroke-linejoin="round" filter="url(#blur1)"/>
</g>
<text x="479.5" y="452.5" font-size="9.6" fill="#111" font-weight="bold" text-anchor="middle" font-family='"Liberation Sans", sans-serif'  style="">7 d</text>
<rect x="498.8" y="268.7" width="36.6" height="65.80000000000001" fill="url(#bluedots)"/>
<g clip-path="url(#cdp2)">
<path d="M523.0,265.4 L517.1,296.3 L509.0,308.2 L502.5,327.9" stroke="#0a3470" stroke-width="5" fill="none" opacity="0.75" filter="url(#blur1)"/>
<line x1="530.3" y1="263.4" x2="522.2" y2="301.6" stroke="#c29282" stroke-width="12.4" stroke-linecap="round"/>
<line x1="530.3" y1="263.4" x2="526.2" y2="282.5" stroke="#e8d0c4" stroke-width="9.5" opacity="0.55" filter="url(#blur1)"/>
<ellipse cx="519.7" cy="308.2" rx="10.2" ry="9.9" transform="rotate(-55 519.7 308.2)" fill="#c29282"/>
<line x1="513.4" y1="313.4" x2="504.3" y2="326.6" stroke="#c29282" stroke-width="4.4" stroke-linecap="round"/>
<line x1="517.1" y1="316.1" x2="508.7" y2="331.2" stroke="#c29282" stroke-width="4.4" stroke-linecap="round"/>
<line x1="520.8" y1="317.4" x2="514.2" y2="332.5" stroke="#c29282" stroke-width="4.4" stroke-linecap="round"/>
<line x1="524.4" y1="314.8" x2="520.0" y2="329.2" stroke="#c29282" stroke-width="4.4" stroke-linecap="round"/>
<line x1="515.3" y1="301.6" x2="506.1" y2="299.6" stroke="#c29282" stroke-width="4.4" stroke-linecap="round"/>
<line x1="514.9" y1="318.7" x2="506.9" y2="329.9" stroke="#5a3040" stroke-width="0.6" opacity="0.6"/>
<line x1="518.9" y1="320.0" x2="511.6" y2="332.5" stroke="#5a3040" stroke-width="0.6" opacity="0.6"/>
<line x1="522.6" y1="318.7" x2="517.1" y2="331.2" stroke="#5a3040" stroke-width="0.6" opacity="0.6"/>
<ellipse cx="520.8" cy="301.6" rx="7" ry="12" transform="rotate(30 520.8 301.6)" fill="#a83848" opacity="0.35" filter="url(#blur2)"/>
</g>
<rect x="498.8" y="335.2" width="36.6" height="66.10000000000002" fill="#040404"/>
<g clip-path="url(#cdm2)"><g transform="rotate(14 517.1 368.2)">
<polygon points="511.9,343.1 521.4,343.1 524.9,364.9 532.2,381.5 527.9,388.1 522.3,396.0 508.5,396.0 506.3,382.8 502.0,376.2 508.5,371.6" fill="#3c3c3c" opacity="0.9" filter="url(#blur1)"/>
<path d="M517.5,347.1 Q519.4,366.4 518.3,385.7" stroke="#c8c8c8" stroke-width="0.6" fill="none" opacity="0.94"/>
<path d="M514.7,346.1 Q510.6,364.4 505.6,382.7" stroke="#c8c8c8" stroke-width="0.6" fill="none" opacity="0.86"/>
<path d="M513.1,343.4 Q509.4,365.2 509.4,387.1" stroke="#c8c8c8" stroke-width="0.6" fill="none" opacity="0.62"/>
<path d="M512.8,345.9 Q511.7,366.6 507.4,387.3" stroke="#c8c8c8" stroke-width="0.6" fill="none" opacity="0.84"/>
<path d="M517.0,343.4 Q516.6,365.6 516.1,387.7" stroke="#c8c8c8" stroke-width="0.6" fill="none" opacity="0.62"/>
<path d="M520.6,348.2 Q523.8,366.3 527.5,384.4" stroke="#c8c8c8" stroke-width="0.6" fill="none" opacity="0.96"/>
<path d="M515.2,345.4 Q513.6,366.5 509.6,387.6" stroke="#c8c8c8" stroke-width="0.6" fill="none" opacity="0.64"/>
<path d="M514.3,347.5 Q514.1,365.3 512.3,383.0" stroke="#c8c8c8" stroke-width="0.6" fill="none" opacity="0.84"/>
<path d="M517.5,343.1 Q519.5,362.9 517.5,382.8" stroke="#c8c8c8" stroke-width="0.6" fill="none" opacity="0.70"/>
<path d="M518.7,345.4 Q517.8,364.1 523.3,382.7" stroke="#c8c8c8" stroke-width="0.6" fill="none" opacity="0.85"/>
<path d="M519.2,346.7 Q522.5,366.8 525.6,387.0" stroke="#c8c8c8" stroke-width="0.6" fill="none" opacity="0.80"/>
<path d="M515.1,346.1 Q514.7,365.8 514.5,385.6" stroke="#c8c8c8" stroke-width="0.6" fill="none" opacity="0.89"/>
<path d="M517.1,347.9 Q514.7,367.0 515.4,386.2" stroke="#c8c8c8" stroke-width="0.6" fill="none" opacity="0.96"/>
<path d="M511.1,344.7 Q505.3,364.3 504.6,383.9" stroke="#c8c8c8" stroke-width="0.6" fill="none" opacity="0.63"/>
<path d="M517.7,342.0 Q519.1,361.8 518.8,381.6" stroke="#c8c8c8" stroke-width="0.6" fill="none" opacity="0.93"/>
<path d="M515.0,344.1 Q512.7,362.8 508.9,381.5" stroke="#c8c8c8" stroke-width="0.6" fill="none" opacity="0.82"/>
<path d="M521.3,348.2 Q522.2,366.3 522.8,384.3" stroke="#c8c8c8" stroke-width="0.6" fill="none" opacity="0.86"/>
<path d="M519.4,343.7 Q523.7,364.4 525.8,385.0" stroke="#c8c8c8" stroke-width="0.6" fill="none" opacity="0.87"/>
<path d="M516.6,342.8 Q517.1,364.6 516.8,386.5" stroke="#c8c8c8" stroke-width="0.6" fill="none" opacity="0.75"/>
<path d="M520.1,343.5 Q521.5,364.6 528.1,385.8" stroke="#c8c8c8" stroke-width="0.6" fill="none" opacity="0.88"/>
<path d="M516.3,342.3 Q515.5,361.7 516.2,381.1" stroke="#c8c8c8" stroke-width="0.6" fill="none" opacity="0.70"/>
<path d="M520.5,346.4 Q523.5,363.4 526.5,380.3" stroke="#c8c8c8" stroke-width="0.6" fill="none" opacity="0.97"/>
<path d="M516.2,346.8 Q514.3,365.6 515.7,384.4" stroke="#c8c8c8" stroke-width="0.6" fill="none" opacity="0.99"/>
<path d="M521.1,344.7 Q528.7,363.4 532.1,382.2" stroke="#c8c8c8" stroke-width="0.6" fill="none" opacity="0.93"/>
<ellipse cx="510.2" cy="392.0" rx="1.7" ry="3.2" fill="#3a3a3a" stroke="#9a9a9a" stroke-width="0.5" transform="rotate(15 510.2 392.0)"/>
<ellipse cx="514.5" cy="392.0" rx="1.7" ry="3.2" fill="#3a3a3a" stroke="#9a9a9a" stroke-width="0.5" transform="rotate(15 514.5 392.0)"/>
<ellipse cx="518.8" cy="392.0" rx="1.7" ry="3.2" fill="#3a3a3a" stroke="#9a9a9a" stroke-width="0.5" transform="rotate(15 518.8 392.0)"/>
<ellipse cx="523.1" cy="392.0" rx="1.7" ry="3.2" fill="#3a3a3a" stroke="#9a9a9a" stroke-width="0.5" transform="rotate(15 523.1 392.0)"/>
<ellipse cx="505.0" cy="374.9" rx="3" ry="1.8" fill="none" stroke="#a8a8a8" stroke-width="0.6"/>
</g></g>
<rect x="498.8" y="402.6" width="36.6" height="36.89999999999998" fill="#050202"/>
<g clip-path="url(#cdn2)">
<polyline points="509.0,402.6 509.0,422.9 533.6,434.0" fill="none" stroke="#e82008" stroke-width="12.5" stroke-linecap="round" stroke-linejoin="round" filter="url(#blur1)"/>
<polyline points="509.0,402.6 509.0,422.9 533.6,434.0" fill="none" stroke="#ff7a18" stroke-width="8.2" stroke-linecap="round" stroke-linejoin="round" filter="url(#blur1)"/>
<polyline points="509.0,402.6 509.0,422.9 533.6,434.0" fill="none" stroke="#ffe050" stroke-width="4.4" stroke-linecap="round" stroke-linejoin="round" filter="url(#blur1)"/>
</g>
<text x="517.1" y="452.5" font-size="9.6" fill="#111" font-weight="bold" text-anchor="middle" font-family='"Liberation Sans", sans-serif'  style="">14 d</text>
<rect x="536.4" y="268.7" width="36.6" height="65.80000000000001" fill="url(#bluedots)"/>
<g clip-path="url(#cdp3)">
<path d="M560.6,265.4 L554.7,296.3 L546.6,308.2 L540.1,327.9" stroke="#0a3470" stroke-width="5" fill="none" opacity="0.75" filter="url(#blur1)"/>
<line x1="567.9" y1="263.4" x2="559.8" y2="301.6" stroke="#b88474" stroke-width="12.4" stroke-linecap="round"/>
<line x1="567.9" y1="263.4" x2="563.8" y2="282.5" stroke="#e8d0c4" stroke-width="9.5" opacity="0.55" filter="url(#blur1)"/>
<ellipse cx="557.3" cy="308.2" rx="10.2" ry="9.9" transform="rotate(-55 557.3 308.2)" fill="#b88474"/>
<line x1="551.0" y1="313.4" x2="541.9" y2="326.6" stroke="#b88474" stroke-width="4.4" stroke-linecap="round"/>
<line x1="554.7" y1="316.1" x2="546.3" y2="331.2" stroke="#b88474" stroke-width="4.4" stroke-linecap="round"/>
<line x1="558.4" y1="317.4" x2="551.8" y2="332.5" stroke="#b88474" stroke-width="4.4" stroke-linecap="round"/>
<line x1="562.0" y1="314.8" x2="557.6" y2="329.2" stroke="#b88474" stroke-width="4.4" stroke-linecap="round"/>
<line x1="552.9" y1="301.6" x2="543.7" y2="299.6" stroke="#b88474" stroke-width="4.4" stroke-linecap="round"/>
<line x1="552.5" y1="318.7" x2="544.5" y2="329.9" stroke="#5a3040" stroke-width="0.6" opacity="0.6"/>
<line x1="556.5" y1="320.0" x2="549.2" y2="332.5" stroke="#5a3040" stroke-width="0.6" opacity="0.6"/>
<line x1="560.2" y1="318.7" x2="554.7" y2="331.2" stroke="#5a3040" stroke-width="0.6" opacity="0.6"/>
<ellipse cx="558.4" cy="301.6" rx="7" ry="12" transform="rotate(30 558.4 301.6)" fill="#a83848" opacity="0.35" filter="url(#blur2)"/>
</g>
<rect x="536.4" y="335.2" width="36.6" height="66.10000000000002" fill="#040404"/>
<g clip-path="url(#cdm3)"><g transform="rotate(14 554.7 368.2)">
<polygon points="549.1,343.1 559.3,343.1 563.1,364.9 571.0,381.5 566.3,388.1 560.3,396.0 545.4,396.0 543.1,382.8 538.4,376.2 545.4,371.6" fill="#444444" opacity="0.9" filter="url(#blur1)"/>
<path d="M551.3,343.9 Q551.7,365.6 546.9,387.2" stroke="#c8c8c8" stroke-width="0.6" fill="none" opacity="0.88"/>
<path d="M550.5,342.0 Q544.0,362.8 539.7,383.5" stroke="#c8c8c8" stroke-width="0.6" fill="none" opacity="0.89"/>
<path d="M559.1,344.3 Q559.8,365.2 563.2,386.1" stroke="#c8c8c8" stroke-width="0.6" fill="none" opacity="0.93"/>
<path d="M553.4,346.1 Q549.7,363.6 552.0,381.2" stroke="#c8c8c8" stroke-width="0.6" fill="none" opacity="0.93"/>
<path d="M559.1,345.3 Q562.9,364.4 565.9,383.6" stroke="#c8c8c8" stroke-width="0.6" fill="none" opacity="0.61"/>
<path d="M557.8,346.4 Q560.4,365.4 562.8,384.4" stroke="#c8c8c8" stroke-width="0.6" fill="none" opacity="0.96"/>
<path d="M556.4,344.1 Q558.5,363.9 561.0,383.8" stroke="#c8c8c8" stroke-width="0.6" fill="none" opacity="0.89"/>
<path d="M555.3,347.5 Q557.8,367.5 561.0,387.5" stroke="#c8c8c8" stroke-width="0.6" fill="none" opacity="0.79"/>
<path d="M557.3,345.1 Q560.4,363.5 563.3,381.9" stroke="#c8c8c8" stroke-width="0.6" fill="none" opacity="0.83"/>
<path d="M551.2,342.9 Q544.0,364.2 544.0,385.4" stroke="#c8c8c8" stroke-width="0.6" fill="none" opacity="0.77"/>
<path d="M553.3,346.5 Q550.1,367.0 547.3,387.5" stroke="#c8c8c8" stroke-width="0.6" fill="none" opacity="0.76"/>
<path d="M557.7,342.1 Q554.1,362.3 554.2,382.6" stroke="#c8c8c8" stroke-width="0.6" fill="none" opacity="0.63"/>
<path d="M555.1,343.5 Q552.5,362.4 554.3,381.3" stroke="#c8c8c8" stroke-width="0.6" fill="none" opacity="0.76"/>
<path d="M558.0,345.3 Q561.5,363.3 566.9,381.4" stroke="#c8c8c8" stroke-width="0.6" fill="none" opacity="0.92"/>
<path d="M551.9,342.7 Q546.7,362.6 543.3,382.5" stroke="#c8c8c8" stroke-width="0.6" fill="none" opacity="0.70"/>
<path d="M551.5,343.7 Q546.7,363.3 544.6,382.8" stroke="#c8c8c8" stroke-width="0.6" fill="none" opacity="0.68"/>
<path d="M559.6,341.8 Q563.8,363.7 567.3,385.6" stroke="#c8c8c8" stroke-width="0.6" fill="none" opacity="0.97"/>
<path d="M551.5,344.5 Q552.0,364.9 545.3,385.3" stroke="#c8c8c8" stroke-width="0.6" fill="none" opacity="0.71"/>
<path d="M551.2,344.1 Q546.0,364.7 544.1,385.3" stroke="#c8c8c8" stroke-width="0.6" fill="none" opacity="0.78"/>
<path d="M553.5,344.2 Q553.4,365.4 551.3,386.7" stroke="#c8c8c8" stroke-width="0.6" fill="none" opacity="0.67"/>
<path d="M551.0,342.3 Q544.6,364.0 545.2,385.8" stroke="#c8c8c8" stroke-width="0.6" fill="none" opacity="0.61"/>
<path d="M551.6,347.3 Q545.9,365.0 545.2,382.7" stroke="#c8c8c8" stroke-width="0.6" fill="none" opacity="0.99"/>
<path d="M554.0,345.4 Q549.7,364.2 552.0,383.1" stroke="#c8c8c8" stroke-width="0.6" fill="none" opacity="0.62"/>
<path d="M555.7,346.0 Q553.6,364.4 557.6,382.7" stroke="#c8c8c8" stroke-width="0.6" fill="none" opacity="0.68"/>
<ellipse cx="547.3" cy="392.0" rx="1.8" ry="3.2" fill="#3a3a3a" stroke="#9a9a9a" stroke-width="0.5" transform="rotate(15 547.3 392.0)"/>
<ellipse cx="551.9" cy="392.0" rx="1.8" ry="3.2" fill="#3a3a3a" stroke="#9a9a9a" stroke-width="0.5" transform="rotate(15 551.9 392.0)"/>
<ellipse cx="556.6" cy="392.0" rx="1.8" ry="3.2" fill="#3a3a3a" stroke="#9a9a9a" stroke-width="0.5" transform="rotate(15 556.6 392.0)"/>
<ellipse cx="561.2" cy="392.0" rx="1.8" ry="3.2" fill="#3a3a3a" stroke="#9a9a9a" stroke-width="0.5" transform="rotate(15 561.2 392.0)"/>
<ellipse cx="541.7" cy="374.9" rx="3" ry="1.8" fill="none" stroke="#a8a8a8" stroke-width="0.6"/>
</g></g>
<rect x="536.4" y="402.6" width="36.6" height="36.89999999999998" fill="#050202"/>
<g clip-path="url(#cdn3)">
<polyline points="543.7,411.8 545.5,424.7 571.2,434.0" fill="none" stroke="#e82008" stroke-width="12.5" stroke-linecap="round" stroke-linejoin="round" filter="url(#blur1)"/>
<polyline points="543.7,411.8 545.5,424.7 571.2,434.0" fill="none" stroke="#ff8a1c" stroke-width="8.2" stroke-linecap="round" stroke-linejoin="round" filter="url(#blur1)"/>
<polyline points="543.7,411.8 545.5,424.7 571.2,434.0" fill="none" stroke="#ffe860" stroke-width="4.4" stroke-linecap="round" stroke-linejoin="round" filter="url(#blur1)"/>
</g>
<text x="554.6999999999999" y="452.5" font-size="9.6" fill="#111" font-weight="bold" text-anchor="middle" font-family='"Liberation Sans", sans-serif'  style="">21 d</text>
<rect x="574.0" y="268.7" width="36.6" height="65.80000000000001" fill="url(#bluedots)"/>
<g clip-path="url(#cdp4)">
<path d="M598.2,265.4 L592.3,296.3 L584.2,308.2 L577.7,327.9" stroke="#0a3470" stroke-width="5" fill="none" opacity="0.75" filter="url(#blur1)"/>
<line x1="605.5" y1="263.4" x2="597.4" y2="301.6" stroke="#c89686" stroke-width="12.4" stroke-linecap="round"/>
<line x1="605.5" y1="263.4" x2="601.5" y2="282.5" stroke="#e8d0c4" stroke-width="9.5" opacity="0.55" filter="url(#blur1)"/>
<ellipse cx="594.9" cy="308.2" rx="10.2" ry="9.9" transform="rotate(-55 594.9 308.2)" fill="#c89686"/>
<line x1="588.6" y1="313.4" x2="579.5" y2="326.6" stroke="#c89686" stroke-width="4.4" stroke-linecap="round"/>
<line x1="592.3" y1="316.1" x2="583.9" y2="331.2" stroke="#c89686" stroke-width="4.4" stroke-linecap="round"/>
<line x1="596.0" y1="317.4" x2="589.4" y2="332.5" stroke="#c89686" stroke-width="4.4" stroke-linecap="round"/>
<line x1="599.6" y1="314.8" x2="595.2" y2="329.2" stroke="#c89686" stroke-width="4.4" stroke-linecap="round"/>
<line x1="590.5" y1="301.6" x2="581.3" y2="299.6" stroke="#c89686" stroke-width="4.4" stroke-linecap="round"/>
<line x1="590.1" y1="318.7" x2="582.1" y2="329.9" stroke="#5a3040" stroke-width="0.6" opacity="0.6"/>
<line x1="594.1" y1="320.0" x2="586.8" y2="332.5" stroke="#5a3040" stroke-width="0.6" opacity="0.6"/>
<line x1="597.8" y1="318.7" x2="592.3" y2="331.2" stroke="#5a3040" stroke-width="0.6" opacity="0.6"/>
<ellipse cx="596.0" cy="301.6" rx="7" ry="12" transform="rotate(30 596.0 301.6)" fill="#a83848" opacity="0.35" filter="url(#blur2)"/>
</g>
<rect x="574.0" y="335.2" width="36.6" height="66.10000000000002" fill="#040404"/>
<g clip-path="url(#cdm4)"><g transform="rotate(14 592.3 368.2)">
<polygon points="586.3,343.1 597.3,343.1 601.3,364.9 609.7,381.5 604.7,388.1 598.3,396.0 582.3,396.0 579.9,382.8 574.9,376.2 582.3,371.6" fill="#525252" opacity="0.9" filter="url(#blur1)"/>
<path d="M590.3,346.8 Q591.6,364.2 590.1,381.7" stroke="#c8c8c8" stroke-width="0.6" fill="none" opacity="0.88"/>
<path d="M594.8,348.3 Q594.2,365.5 594.3,382.8" stroke="#c8c8c8" stroke-width="0.6" fill="none" opacity="0.61"/>
<path d="M594.3,342.8 Q597.6,365.1 601.8,387.5" stroke="#c8c8c8" stroke-width="0.6" fill="none" opacity="0.89"/>
<path d="M595.1,342.4 Q596.3,362.1 599.1,381.8" stroke="#c8c8c8" stroke-width="0.6" fill="none" opacity="0.97"/>
<path d="M597.1,344.5 Q601.0,363.0 604.9,381.5" stroke="#c8c8c8" stroke-width="0.6" fill="none" opacity="0.70"/>
<path d="M593.6,344.7 Q594.1,365.9 596.6,387.1" stroke="#c8c8c8" stroke-width="0.6" fill="none" opacity="0.89"/>
<path d="M591.0,345.0 Q590.7,366.4 589.1,387.9" stroke="#c8c8c8" stroke-width="0.6" fill="none" opacity="0.96"/>
<path d="M590.3,348.2 Q590.8,366.8 589.4,385.3" stroke="#c8c8c8" stroke-width="0.6" fill="none" opacity="0.78"/>
<path d="M589.7,345.3 Q586.2,366.0 586.1,386.7" stroke="#c8c8c8" stroke-width="0.6" fill="none" opacity="0.96"/>
<path d="M596.7,344.8 Q600.3,363.6 605.6,382.3" stroke="#c8c8c8" stroke-width="0.6" fill="none" opacity="0.98"/>
<path d="M593.2,348.0 Q594.9,366.3 596.7,384.6" stroke="#c8c8c8" stroke-width="0.6" fill="none" opacity="0.89"/>
<path d="M593.1,343.1 Q593.6,361.8 598.9,380.5" stroke="#c8c8c8" stroke-width="0.6" fill="none" opacity="0.68"/>
<path d="M589.3,343.6 Q586.7,365.5 584.4,387.3" stroke="#c8c8c8" stroke-width="0.6" fill="none" opacity="0.87"/>
<path d="M595.1,343.2 Q599.0,361.8 599.3,380.4" stroke="#c8c8c8" stroke-width="0.6" fill="none" opacity="0.83"/>
<path d="M594.7,343.4 Q597.6,361.8 601.6,380.2" stroke="#c8c8c8" stroke-width="0.6" fill="none" opacity="0.70"/>
<path d="M586.9,348.1 Q581.7,366.6 580.3,385.0" stroke="#c8c8c8" stroke-width="0.6" fill="none" opacity="0.91"/>
<path d="M594.0,346.8 Q597.0,365.4 600.4,384.0" stroke="#c8c8c8" stroke-width="0.6" fill="none" opacity="0.62"/>
<path d="M594.9,343.5 Q598.0,363.7 602.4,384.0" stroke="#c8c8c8" stroke-width="0.6" fill="none" opacity="0.77"/>
<path d="M588.1,347.9 Q584.0,365.6 579.8,383.2" stroke="#c8c8c8" stroke-width="0.6" fill="none" opacity="0.89"/>
<path d="M590.1,344.9 Q589.9,366.2 586.1,387.4" stroke="#c8c8c8" stroke-width="0.6" fill="none" opacity="0.72"/>
<path d="M591.1,347.8 Q592.3,364.4 596.9,381.0" stroke="#c8c8c8" stroke-width="0.6" fill="none" opacity="0.81"/>
<path d="M592.8,343.4 Q595.8,364.1 595.1,384.7" stroke="#c8c8c8" stroke-width="0.6" fill="none" opacity="0.77"/>
<path d="M587.4,344.8 Q587.2,363.8 582.4,382.8" stroke="#c8c8c8" stroke-width="0.6" fill="none" opacity="0.71"/>
<path d="M597.9,343.0 Q604.2,363.4 606.9,383.9" stroke="#c8c8c8" stroke-width="0.6" fill="none" opacity="0.96"/>
<ellipse cx="584.3" cy="392.0" rx="1.9" ry="3.2" fill="#3a3a3a" stroke="#9a9a9a" stroke-width="0.5" transform="rotate(15 584.3 392.0)"/>
<ellipse cx="589.3" cy="392.0" rx="1.9" ry="3.2" fill="#3a3a3a" stroke="#9a9a9a" stroke-width="0.5" transform="rotate(15 589.3 392.0)"/>
<ellipse cx="594.3" cy="392.0" rx="1.9" ry="3.2" fill="#3a3a3a" stroke="#9a9a9a" stroke-width="0.5" transform="rotate(15 594.3 392.0)"/>
<ellipse cx="599.3" cy="392.0" rx="1.9" ry="3.2" fill="#3a3a3a" stroke="#9a9a9a" stroke-width="0.5" transform="rotate(15 599.3 392.0)"/>
<ellipse cx="578.4" cy="374.9" rx="3" ry="1.8" fill="none" stroke="#a8a8a8" stroke-width="0.6"/>
</g></g>
<rect x="574.0" y="402.6" width="36.6" height="36.89999999999998" fill="#050202"/>
<g clip-path="url(#cdn4)">
<polyline points="579.5,411.8 582.1,422.9 606.9,432.1" fill="none" stroke="#f03008" stroke-width="14.8" stroke-linecap="round" stroke-linejoin="round" filter="url(#blur1)"/>
<polyline points="579.5,411.8 582.1,422.9 606.9,432.1" fill="none" stroke="#ffa020" stroke-width="9.6" stroke-linecap="round" stroke-linejoin="round" filter="url(#blur1)"/>
<polyline points="579.5,411.8 582.1,422.9 606.9,432.1" fill="none" stroke="#fff070" stroke-width="5.2" stroke-linecap="round" stroke-linejoin="round" filter="url(#blur1)"/>
</g>
<text x="592.3" y="452.5" font-size="9.6" fill="#111" font-weight="bold" text-anchor="middle" font-family='"Liberation Sans", sans-serif'  style="">28 d</text>
<rect x="611.6" y="268.7" width="36.6" height="65.80000000000001" fill="url(#bluedots)"/>
<g clip-path="url(#cdp5)">
<path d="M635.8,265.4 L629.9,296.3 L621.8,308.2 L615.3,327.9" stroke="#0a3470" stroke-width="5" fill="none" opacity="0.75" filter="url(#blur1)"/>
<line x1="643.1" y1="263.4" x2="635.0" y2="301.6" stroke="#b23c4c" stroke-width="12.4" stroke-linecap="round"/>
<line x1="643.1" y1="263.4" x2="639.0" y2="282.5" stroke="#e8d0c4" stroke-width="9.5" opacity="0.55" filter="url(#blur1)"/>
<ellipse cx="632.5" cy="308.2" rx="10.2" ry="9.9" transform="rotate(-55 632.5 308.2)" fill="#b23c4c"/>
<line x1="626.2" y1="313.4" x2="617.1" y2="326.6" stroke="#b23c4c" stroke-width="4.4" stroke-linecap="round"/>
<line x1="629.9" y1="316.1" x2="621.5" y2="331.2" stroke="#b23c4c" stroke-width="4.4" stroke-linecap="round"/>
<line x1="633.6" y1="317.4" x2="627.0" y2="332.5" stroke="#b23c4c" stroke-width="4.4" stroke-linecap="round"/>
<line x1="637.2" y1="314.8" x2="632.8" y2="329.2" stroke="#b23c4c" stroke-width="4.4" stroke-linecap="round"/>
<line x1="628.1" y1="301.6" x2="618.9" y2="299.6" stroke="#b23c4c" stroke-width="4.4" stroke-linecap="round"/>
<line x1="627.7" y1="318.7" x2="619.7" y2="329.9" stroke="#5a3040" stroke-width="0.6" opacity="0.6"/>
<line x1="631.7" y1="320.0" x2="624.4" y2="332.5" stroke="#5a3040" stroke-width="0.6" opacity="0.6"/>
<line x1="635.4" y1="318.7" x2="629.9" y2="331.2" stroke="#5a3040" stroke-width="0.6" opacity="0.6"/>
<ellipse cx="633.6" cy="301.6" rx="7" ry="12" transform="rotate(30 633.6 301.6)" fill="#a83848" opacity="0.7" filter="url(#blur2)"/>
</g>
<rect x="611.6" y="335.2" width="36.6" height="66.10000000000002" fill="#040404"/>
<g clip-path="url(#cdm5)"><g transform="rotate(14 629.9 368.2)">
<polygon points="623.5,343.1 635.2,343.1 639.5,364.9 648.5,381.5 643.2,388.1 636.3,396.0 619.3,396.0 616.6,382.8 611.3,376.2 619.3,371.6" fill="#5a5a5a" opacity="0.9" filter="url(#blur1)"/>
<path d="M626.7,346.4 Q623.1,364.5 618.4,382.5" stroke="#c8c8c8" stroke-width="0.6" fill="none" opacity="0.62"/>
<path d="M633.3,347.4 Q638.7,366.6 641.9,385.9" stroke="#c8c8c8" stroke-width="0.6" fill="none" opacity="0.90"/>
<path d="M635.9,343.5 Q637.4,361.9 639.3,380.3" stroke="#c8c8c8" stroke-width="0.6" fill="none" opacity="0.91"/>
<path d="M633.5,348.3 Q634.6,368.1 639.7,388.0" stroke="#c8c8c8" stroke-width="0.6" fill="none" opacity="0.90"/>
<path d="M629.2,343.9 Q626.6,363.0 623.6,382.1" stroke="#c8c8c8" stroke-width="0.6" fill="none" opacity="0.89"/>
<path d="M635.6,347.1 Q637.0,365.2 641.6,383.3" stroke="#c8c8c8" stroke-width="0.6" fill="none" opacity="0.75"/>
<path d="M625.4,344.6 Q624.4,366.2 617.4,387.8" stroke="#c8c8c8" stroke-width="0.6" fill="none" opacity="0.93"/>
<path d="M631.4,345.9 Q631.8,364.6 633.2,383.3" stroke="#c8c8c8" stroke-width="0.6" fill="none" opacity="0.98"/>
<path d="M630.8,342.4 Q628.8,363.9 631.2,385.5" stroke="#c8c8c8" stroke-width="0.6" fill="none" opacity="0.97"/>
<path d="M633.0,342.7 Q630.9,361.9 628.8,381.1" stroke="#c8c8c8" stroke-width="0.6" fill="none" opacity="0.70"/>
<path d="M628.9,343.7 Q626.8,365.2 625.5,386.8" stroke="#c8c8c8" stroke-width="0.6" fill="none" opacity="0.63"/>
<path d="M631.4,342.6 Q629.7,361.8 628.5,381.0" stroke="#c8c8c8" stroke-width="0.6" fill="none" opacity="0.97"/>
<path d="M631.9,345.0 Q634.9,362.6 636.5,380.2" stroke="#c8c8c8" stroke-width="0.6" fill="none" opacity="0.65"/>
<path d="M628.2,347.4 Q628.2,366.3 629.9,385.2" stroke="#c8c8c8" stroke-width="0.6" fill="none" opacity="0.75"/>
<path d="M630.3,346.0 Q631.9,363.6 638.1,381.2" stroke="#c8c8c8" stroke-width="0.6" fill="none" opacity="0.66"/>
<path d="M632.3,346.2 Q634.2,363.9 633.4,381.6" stroke="#c8c8c8" stroke-width="0.6" fill="none" opacity="0.62"/>
<path d="M630.1,345.2 Q629.1,364.8 628.9,384.3" stroke="#c8c8c8" stroke-width="0.6" fill="none" opacity="0.76"/>
<path d="M635.2,348.3 Q641.3,367.9 644.5,387.5" stroke="#c8c8c8" stroke-width="0.6" fill="none" opacity="0.94"/>
<path d="M632.5,343.8 Q630.4,362.4 635.6,381.0" stroke="#c8c8c8" stroke-width="0.6" fill="none" opacity="0.95"/>
<path d="M626.8,343.4 Q623.2,362.5 617.6,381.6" stroke="#c8c8c8" stroke-width="0.6" fill="none" opacity="0.69"/>
<path d="M635.1,347.7 Q641.9,366.7 645.7,385.7" stroke="#c8c8c8" stroke-width="0.6" fill="none" opacity="0.97"/>
<path d="M630.9,343.5 Q627.6,362.1 627.7,380.7" stroke="#c8c8c8" stroke-width="0.6" fill="none" opacity="0.60"/>
<path d="M631.4,342.8 Q631.7,364.7 636.9,386.7" stroke="#c8c8c8" stroke-width="0.6" fill="none" opacity="0.73"/>
<path d="M627.3,346.3 Q627.4,364.3 625.4,382.2" stroke="#c8c8c8" stroke-width="0.6" fill="none" opacity="0.73"/>
<ellipse cx="621.4" cy="392.0" rx="2.0" ry="3.2" fill="#3a3a3a" stroke="#9a9a9a" stroke-width="0.5" transform="rotate(15 621.4 392.0)"/>
<ellipse cx="626.7" cy="392.0" rx="2.0" ry="3.2" fill="#3a3a3a" stroke="#9a9a9a" stroke-width="0.5" transform="rotate(15 626.7 392.0)"/>
<ellipse cx="632.0" cy="392.0" rx="2.0" ry="3.2" fill="#3a3a3a" stroke="#9a9a9a" stroke-width="0.5" transform="rotate(15 632.0 392.0)"/>
<ellipse cx="637.3" cy="392.0" rx="2.0" ry="3.2" fill="#3a3a3a" stroke="#9a9a9a" stroke-width="0.5" transform="rotate(15 637.3 392.0)"/>
<ellipse cx="615.0" cy="374.9" rx="3" ry="1.8" fill="none" stroke="#a8a8a8" stroke-width="0.6"/>
</g></g>
<rect x="611.6" y="402.6" width="36.6" height="36.89999999999998" fill="#050202"/>
<g clip-path="url(#cdn5)">
<polyline points="614.5,419.2 622.6,421.1 642.7,430.3" fill="none" stroke="#ff8a18" stroke-width="14.0" stroke-linecap="round" stroke-linejoin="round" filter="url(#blur1)"/>
<polyline points="614.5,419.2 622.6,421.1 642.7,430.3" fill="none" stroke="#ffc840" stroke-width="9.1" stroke-linecap="round" stroke-linejoin="round" filter="url(#blur1)"/>
<polyline points="614.5,419.2 622.6,421.1 642.7,430.3" fill="none" stroke="#fff4a0" stroke-width="4.9" stroke-linecap="round" stroke-linejoin="round" filter="url(#blur1)"/>
</g>
<text x="629.9" y="452.5" font-size="9.6" fill="#111" font-weight="bold" text-anchor="middle" font-family='"Liberation Sans", sans-serif'  style="">60 d</text>
<rect x="650" y="403.3" width="3" height="35.7" fill="url(#cbnir)"/>
<text x="0" y="0" transform="translate(420.2,299.5) rotate(-90)" font-size="8.4" fill="#111" font-weight="bold" text-anchor="middle" font-family='"Liberation Sans", sans-serif'>Paw Images</text>
<text x="0" y="0" transform="translate(420.2,368) rotate(-90)" font-size="8.4" fill="#111" font-weight="bold" text-anchor="middle" font-family='"Liberation Sans", sans-serif'>MRI</text>
<text x="0" y="0" transform="translate(420.2,421) rotate(-90)" font-size="8.4" fill="#111" font-weight="bold" text-anchor="middle" font-family='"Liberation Sans", sans-serif'>NIR-II</text>
<rect x="27.7" y="484.2" width="272.2" height="285" rx="4" fill="none" stroke="#333" stroke-width="1" stroke-dasharray="2 1.6"/>
<line x1="28" y1="563" x2="300" y2="563" stroke="#666" stroke-width="0.6" stroke-dasharray="1.2 1.2"/>
<text x="35.9" y="495.5" font-size="7.2" fill="#222" font-weight="normal" text-anchor="start" font-family='"Liberation Sans", sans-serif'  style="">DCNP</text>
<rect x="33" y="502.5" width="23" height="12" rx="6" fill="url(#pillg)" transform="rotate(-20 44.5 508.5)"/>
<text x="39.5" y="539.5" font-size="7.2" fill="#222" font-weight="normal" text-anchor="start" font-family='"Liberation Sans", sans-serif'  style="">CP</text>
<circle cx="44.8" cy="549" r="6" fill="url(#blackb)"/>
<rect x="61.9" y="509.2" width="67.79999999999998" height="2.6" fill="#e8e8e8" stroke="#666" stroke-width="0.6"/>
<path d="M128.7,507.5 L132.7,510.5 L128.7,513.5" stroke="#666" stroke-width="0.8" fill="none"/>
<rect x="61.9" y="546.5" width="67.79999999999998" height="2.6" fill="#e8e8e8" stroke="#666" stroke-width="0.6"/>
<path d="M128.7,544.8 L132.7,547.8 L128.7,550.8" stroke="#666" stroke-width="0.8" fill="none"/>
<text x="86.5" y="521.3" font-size="7.2" fill="#222" font-weight="normal" text-anchor="start" font-family='"Liberation Sans", sans-serif'  style="">MTX</text>
<text x="67.8" y="558.7" font-size="7.2" fill="#222" font-weight="normal" text-anchor="start" font-family='"Liberation Sans", sans-serif'  style="">HOOC-SS-COOH</text>
<path d="M91.3,501.7 L91.8,500.3 L92.4,502.3 L94.3,501.2 L97.2,503.1 L99.4,501.4 L100.6,501.5 L100.8,501.1 L104.4,502.0 L106.1,497.9 L108.9,497.5 L110.3,496.6 L111.4,498.5 L113.6,498.2 L113.6,499.7 L116.5,501.3 L118.4,502.9 L119.9,502.8 L122.4,501.7 L123.1,502.3 L127.2,502.1 L127.7,502.0" stroke="#999" stroke-width="0.5" fill="none"/>
<path d="M91.3 501.7h0M92.4 502.3h0M100.6 501.5h0M104.4 502.0h0M108.9 497.5h0M122.4 501.7h0" stroke="#5a6ad0" stroke-width="1.75" stroke-linecap="round" fill="none"/>
<path d="M91.8 500.3h0M100.8 501.1h0M106.1 497.9h0M111.4 498.5h0M113.6 499.7h0M116.5 501.3h0M127.7 502.0h0" stroke="#aaa" stroke-width="1.75" stroke-linecap="round" fill="none"/>
<path d="M94.3 501.2h0M110.3 496.6h0M113.6 498.2h0M118.4 502.9h0M127.2 502.1h0" stroke="#888" stroke-width="1.75" stroke-linecap="round" fill="none"/>
<path d="M97.2 503.1h0M99.4 501.4h0M119.9 502.8h0M123.1 502.3h0" stroke="#3050c0" stroke-width="1.75" stroke-linecap="round" fill="none"/>
<path d="M72.3,487.2 L71.9,490.8 L73.9,491.1 L74.2,493.0 L75.1,493.3 L77.2,493.9 L78.3,495.1 L80.2,491.9 L83.5,497.3 L83.1,500.7 L85.6,503.1 L86.1,505.4 L86.9,508.1 L88.7,506.6" stroke="#999" stroke-width="0.5" fill="none"/>
<path d="M72.3 487.2h0M71.9 490.8h0M74.2 493.0h0M75.1 493.3h0M77.2 493.9h0M78.3 495.1h0M80.2 491.9h0M83.5 497.3h0M86.1 505.4h0M86.9 508.1h0M88.7 506.6h0" stroke="#d03030" stroke-width="1.75" stroke-linecap="round" fill="none"/>
<path d="M73.9 491.1h0" stroke="#888" stroke-width="1.75" stroke-linecap="round" fill="none"/>
<path d="M83.1 500.7h0M85.6 503.1h0" stroke="#3c8c3c" stroke-width="1.75" stroke-linecap="round" fill="none"/>
<path d="M77.1,539.5 L78.7,540.8 L81.9,540.3 L86.7,540.9 L87.4,540.6 L91.1,538.1 L93.2,535.1 L94.8,534.4 L96.5,532.7 L98.8,534.8 L102.8,536.1 L105.7,536.6 L108.1,539.9 L111.6,539.1 L113.0,537.2 L115.5,535.6" stroke="#999" stroke-width="0.5" fill="none"/>
<path d="M77.1 539.5h0M78.7 540.8h0M81.9 540.3h0M93.2 535.1h0M94.8 534.4h0M96.5 532.7h0M102.8 536.1h0M108.1 539.9h0M111.6 539.1h0M115.5 535.6h0" stroke="#e8c030" stroke-width="1.75" stroke-linecap="round" fill="none"/>
<path d="M86.7 540.9h0M98.8 534.8h0M105.7 536.6h0M113.0 537.2h0" stroke="#888" stroke-width="1.75" stroke-linecap="round" fill="none"/>
<path d="M87.4 540.6h0M91.1 538.1h0" stroke="#d03030" stroke-width="1.75" stroke-linecap="round" fill="none"/>
<text x="133.7" y="495.7" font-size="7.2" fill="#222" font-weight="normal" text-anchor="start" font-family='"Liberation Sans", sans-serif'  style="">DCNP-MTX</text>
<ellipse cx="151.4" cy="509.5" rx="19" ry="12.5" fill="url(#halo)" transform="rotate(-20 151.4 509.5)"/>
<rect x="138.5" y="503" width="26" height="13" rx="6.5" fill="url(#pillg2)" transform="rotate(-20 151.4 509.5)"/>
<text x="127.8" y="542" font-size="7.2" fill="#222" font-weight="normal" text-anchor="start" font-family='"Liberation Sans", sans-serif'  style="">CP-SS-COOH</text>
<circle cx="151.4" cy="549.8" r="6.9" fill="url(#tealb)"/>
<path d="M197,517 q2,-4 6,-3 q-3,0 -3,4" stroke="#3a6ad0" stroke-width="1.3" fill="#3a6ad0"/>
<line x1="185" y1="526.2" x2="212" y2="526.2" stroke="#555" stroke-width="1.3"/>
<path d="M211,523.8 L215.3,526.2 L211,528.6" stroke="#555" stroke-width="0.9" fill="none"/>
<text x="189.7" y="537" font-size="7.2" fill="#222" font-weight="normal" text-anchor="start" font-family='"Liberation Sans", sans-serif'  style="">siRNA</text>
<text x="233" y="493.8" font-size="7.2" fill="#222" font-weight="normal" text-anchor="start" font-family='"Liberation Sans", sans-serif'  style="">ITD nanoplatform</text>
<ellipse cx="259.6" cy="528.2" rx="22" ry="15" fill="url(#halo)" transform="rotate(-20 259.6 528.2)"/>
<line x1="259.6" y1="528.2" x2="242.8" y2="505.6" stroke="#6a6ad0" stroke-width="1" stroke-dasharray="1 1.2"/>
<ellipse cx="242.8" cy="505.6" rx="4.2" ry="3.6" fill="url(#tealb)"/>
<line x1="259.6" y1="528.2" x2="263.5" y2="500.6" stroke="#6a6ad0" stroke-width="1" stroke-dasharray="1 1.2"/>
<ellipse cx="263.5" cy="500.6" rx="4.2" ry="3.6" fill="url(#tealb)"/>
<line x1="259.6" y1="528.2" x2="287" y2="511.5" stroke="#6a6ad0" stroke-width="1" stroke-dasharray="1 1.2"/>
<ellipse cx="287" cy="511.5" rx="4.2" ry="3.6" fill="url(#tealb)"/>
<line x1="259.6" y1="528.2" x2="229" y2="520.3" stroke="#6a6ad0" stroke-width="1" stroke-dasharray="1 1.2"/>
<ellipse cx="229" cy="520.3" rx="4.2" ry="3.6" fill="url(#tealb)"/>
<line x1="259.6" y1="528.2" x2="234" y2="541" stroke="#6a6ad0" stroke-width="1" stroke-dasharray="1 1.2"/>
<ellipse cx="234" cy="541" rx="4.2" ry="3.6" fill="url(#tealb)"/>
<line x1="259.6" y1="528.2" x2="285" y2="540" stroke="#6a6ad0" stroke-width="1" stroke-dasharray="1 1.2"/>
<ellipse cx="285" cy="540" rx="4.2" ry="3.6" fill="url(#tealb)"/>
<line x1="259.6" y1="528.2" x2="258.6" y2="551.8" stroke="#6a6ad0" stroke-width="1" stroke-dasharray="1 1.2"/>
<ellipse cx="258.6" cy="551.8" rx="4.2" ry="3.6" fill="url(#tealb)"/>
<rect x="246.6" y="520.2" width="26" height="16" rx="8" fill="url(#pillg2)" transform="rotate(-20 259.6 528.2)"/>
<text x="37.7" y="577" font-size="7.2" fill="#222" font-weight="normal" text-anchor="start" font-family='"Liberation Sans", sans-serif'  style="">ITD nanoplatform</text>
<polygon points="127.5,662.2 125.5,663.4 123.4,662.2 123.4,659.8 125.5,658.6 127.5,659.8" fill="none" stroke="#6a6a7a" stroke-width="0.7"/>
<polygon points="130.1,656.6 128.0,657.8 125.9,656.6 125.9,654.2 128.0,653.0 130.1,654.2" fill="none" stroke="#6a6a7a" stroke-width="0.7"/>
<polygon points="127.8,651.0 125.7,652.2 123.6,651.0 123.6,648.6 125.7,647.4 127.8,648.6" fill="none" stroke="#6a6a7a" stroke-width="0.7"/>
<polygon points="130.3,645.4 128.2,646.6 126.2,645.4 126.2,643.0 128.2,641.8 130.3,643.0" fill="none" stroke="#6a6a7a" stroke-width="0.7"/>
<polygon points="128.0,639.8 126.0,641.0 123.9,639.8 123.9,637.4 126.0,636.2 128.0,637.4" fill="none" stroke="#6a6a7a" stroke-width="0.7"/>
<polygon points="130.6,634.2 128.5,635.4 126.4,634.2 126.4,631.8 128.5,630.6 130.6,631.8" fill="none" stroke="#6a6a7a" stroke-width="0.7"/>
<polygon points="128.3,628.6 126.2,629.8 124.1,628.6 124.1,626.2 126.2,625.0 128.3,626.2" fill="none" stroke="#6a6a7a" stroke-width="0.7"/>
<polygon points="130.8,623.0 128.8,624.2 126.7,623.0 126.7,620.6 128.8,619.4 130.8,620.6" fill="none" stroke="#6a6a7a" stroke-width="0.7"/>
<path d="M127.5 662.2h0M130.1 656.6h0M125.9 654.2h0M130.1 654.2h0M123.6 648.6h0M125.7 647.4h0M130.3 645.4h0M128.2 646.6h0M130.3 643.0h0M128.0 639.8h0M126.0 636.2h0M128.0 637.4h0M130.6 634.2h0M128.5 630.6h0M130.6 631.8h0M124.1 628.6h0M128.3 626.2h0M128.8 624.2h0M126.7 623.0h0M126.7 620.6h0M128.8 619.4h0M130.8 620.6h0" stroke="#444" stroke-width="1.5" stroke-linecap="round" fill="none"/>
<path d="M125.5 663.4h0M125.9 656.6h0M128.0 653.0h0M125.7 652.2h0M123.6 651.0h0M123.9 639.8h0M123.9 637.4h0" stroke="#c04848" stroke-width="1.5" stroke-linecap="round" fill="none"/>
<path d="M123.4 662.2h0M123.4 659.8h0M128.0 657.8h0M127.8 651.0h0M128.5 635.4h0M128.3 628.6h0M124.1 626.2h0M126.2 625.0h0" stroke="#5a5a8a" stroke-width="1.5" stroke-linecap="round" fill="none"/>
<path d="M125.5 658.6h0M127.5 659.8h0M127.8 648.6h0M126.2 645.4h0M126.2 643.0h0M128.2 641.8h0M126.0 641.0h0M126.4 634.2h0M126.4 631.8h0M126.2 629.8h0M130.8 623.0h0" stroke="#555" stroke-width="1.5" stroke-linecap="round" fill="none"/>
<path d="M122.6,609.2 L120.1,607.3 L118.4,609.8 L116.5,609.7 L115.0,610.2 L113.0,611.2 L111.7,611.5 L107.6,612.1 L106.9,613.6 L105.5,615.4 L102.8,613.8" stroke="#aaa" stroke-width="0.4" fill="none"/>
<path d="M103.2,614.1 L101.6,616.2 L99.4,618.2" stroke="#aaa" stroke-width="0.4" fill="none"/>
<path d="M103.3,614.1 L100.3,613.7 L98.6,612.8" stroke="#aaa" stroke-width="0.4" fill="none"/>
<path d="M113.8,611.2 L111.8,610.3 L110.0,608.2 L107.9,607.9 L106.6,606.2" stroke="#aaa" stroke-width="0.4" fill="none"/>
<path d="M124.7,600.7 L124.7,600.9 L123.6,599.6 L118.6,596.9 L119.4,595.2 L118.4,595.2 L117.8,591.9 L118.2,589.8 L115.3,589.4 L114.7,587.6 L114.1,585.8" stroke="#aaa" stroke-width="0.4" fill="none"/>
<path d="M113.6,585.4 L110.7,584.8 L108.3,583.8" stroke="#aaa" stroke-width="0.4" fill="none"/>
<path d="M113.2,584.9 L113.0,583.0 L113.4,580.6" stroke="#aaa" stroke-width="0.4" fill="none"/>
<path d="M119.4,594.2 L120.3,592.4 L120.1,590.4 L121.1,588.3 L120.8,586.1" stroke="#aaa" stroke-width="0.4" fill="none"/>
<path d="M133.6,602.0 L131.6,600.2 L131.8,598.4 L136.5,597.9 L135.6,595.5 L137.3,592.6 L140.0,593.5 L138.9,591.3 L141.0,589.2 L141.7,587.2 L144.2,585.7" stroke="#aaa" stroke-width="0.4" fill="none"/>
<path d="M143.6,586.3 L143.9,584.1 L144.0,581.3" stroke="#aaa" stroke-width="0.4" fill="none"/>
<path d="M144.2,586.3 L145.8,585.9 L149.2,584.7" stroke="#aaa" stroke-width="0.4" fill="none"/>
<path d="M137.1,594.8 L139.0,595.2 L141.6,594.6 L143.8,595.1 L146.9,595.6" stroke="#aaa" stroke-width="0.4" fill="none"/>
<path d="M132.4,609.1 L134.5,610.6 L137.4,611.0 L138.6,610.8 L138.9,612.4 L143.5,612.3 L145.0,612.5 L146.8,615.5 L148.1,613.7 L151.3,615.1 L151.9,617.2" stroke="#aaa" stroke-width="0.4" fill="none"/>
<path d="M152.3,615.8 L155.3,614.4 L157.2,614.3" stroke="#aaa" stroke-width="0.4" fill="none"/>
<path d="M152.1,615.3 L153.7,617.6 L155.2,619.7" stroke="#aaa" stroke-width="0.4" fill="none"/>
<path d="M142.4,612.6 L142.6,613.8 L143.2,615.8 L143.6,618.5 L145.1,619.3" stroke="#aaa" stroke-width="0.4" fill="none"/>
<path d="M122.6 609.2h0M120.1 607.3h0M118.4 609.8h0M115.0 610.2h0M113.0 611.2h0M106.9 613.6h0M105.5 615.4h0M102.8 613.8h0M123.6 599.6h0M118.6 596.9h0M115.3 589.4h0M133.6 602.0h0M131.6 600.2h0M135.6 595.5h0M137.3 592.6h0M140.0 593.5h0M138.9 591.3h0M141.0 589.2h0M141.7 587.2h0M137.4 611.0h0M138.9 612.4h0M143.5 612.3h0M151.9 617.2h0" stroke="#e8c838" stroke-width="1.75" stroke-linecap="round" fill="none"/>
<path d="M116.5 609.7h0M107.6 612.1h0M124.7 600.9h0M119.4 595.2h0M118.4 595.2h0M114.7 587.6h0M132.4 609.1h0M138.6 610.8h0M145.0 612.5h0" stroke="#999" stroke-width="1.75" stroke-linecap="round" fill="none"/>
<path d="M111.7 611.5h0M117.8 591.9h0M114.1 585.8h0M136.5 597.9h0M148.1 613.7h0" stroke="#e8b030" stroke-width="1.75" stroke-linecap="round" fill="none"/>
<path d="M103.2 614.1h0M99.4 618.2h0M103.3 614.1h0M110.7 584.8h0M113.2 584.9h0M113.0 583.0h0M113.4 580.6h0M144.2 586.3h0M152.1 615.3h0M155.2 619.7h0" stroke="#d04040" stroke-width="1.75" stroke-linecap="round" fill="none"/>
<path d="M101.6 616.2h0M100.3 613.7h0M98.6 612.8h0M113.6 585.4h0M108.3 583.8h0M143.6 586.3h0M143.9 584.1h0M144.0 581.3h0M145.8 585.9h0M149.2 584.7h0M152.3 615.8h0M155.3 614.4h0M157.2 614.3h0M153.7 617.6h0" stroke="#4a5ac0" stroke-width="1.75" stroke-linecap="round" fill="none"/>
<path d="M103.0 614.4h0M113.1 585.5h0M143.7 586.2h0M152.4 615.5h0" stroke="#4a4ab0" stroke-width="3.0" stroke-linecap="round" fill="none"/>
<path d="M113.8 611.2h0M106.6 606.2h0M119.4 594.2h0M120.1 590.4h0M120.8 586.1h0M143.8 595.1h0M142.4 612.6h0M143.6 618.5h0M145.1 619.3h0" stroke="#d84040" stroke-width="1.5" stroke-linecap="round" fill="none"/>
<path d="M111.8 610.3h0M110.0 608.2h0M107.9 607.9h0M139.0 595.2h0M142.6 613.8h0" stroke="#999" stroke-width="1.5" stroke-linecap="round" fill="none"/>
<path d="M124.7 600.7h0M118.2 589.8h0M131.8 598.4h0M144.2 585.7h0M134.5 610.6h0M146.8 615.5h0M151.3 615.1h0" stroke="#d84040" stroke-width="1.75" stroke-linecap="round" fill="none"/>
<path d="M120.3 592.4h0M121.1 588.3h0M137.1 594.8h0M141.6 594.6h0M146.9 595.6h0M143.2 615.8h0" stroke="#e8c838" stroke-width="1.5" stroke-linecap="round" fill="none"/>
<circle cx="127.9" cy="606.9" r="6.3" fill="url(#tealb)"/>
<polygon points="117.7,670.6 115.7,671.8 113.6,670.6 113.6,668.2 115.7,667.0 117.7,668.2" fill="none" stroke="#6a6a7a" stroke-width="0.7"/>
<polygon points="113.3,666.4 111.2,667.6 109.1,666.4 109.1,664.0 111.2,662.8 113.3,664.0" fill="none" stroke="#6a6a7a" stroke-width="0.7"/>
<polygon points="107.2,666.7 105.1,667.9 103.1,666.7 103.1,664.3 105.1,663.1 107.2,664.3" fill="none" stroke="#6a6a7a" stroke-width="0.7"/>
<polygon points="102.8,662.5 100.7,663.7 98.6,662.5 98.6,660.1 100.7,658.9 102.8,660.1" fill="none" stroke="#6a6a7a" stroke-width="0.7"/>
<polygon points="96.7,662.9 94.6,664.1 92.5,662.9 92.5,660.5 94.6,659.3 96.7,660.5" fill="none" stroke="#6a6a7a" stroke-width="0.7"/>
<polygon points="92.3,658.7 90.2,659.9 88.1,658.7 88.1,656.3 90.2,655.1 92.3,656.3" fill="none" stroke="#6a6a7a" stroke-width="0.7"/>
<polygon points="86.2,659.0 84.1,660.2 82.0,659.0 82.0,656.6 84.1,655.4 86.2,656.6" fill="none" stroke="#6a6a7a" stroke-width="0.7"/>
<polygon points="81.7,654.9 79.7,656.1 77.6,654.9 77.6,652.5 79.7,651.3 81.7,652.5" fill="none" stroke="#6a6a7a" stroke-width="0.7"/>
<polygon points="75.6,655.2 73.6,656.4 71.5,655.2 71.5,652.8 73.6,651.6 75.6,652.8" fill="none" stroke="#6a6a7a" stroke-width="0.7"/>
<path d="M117.7 670.6h0M111.2 667.6h0M105.1 667.9h0M100.7 663.7h0M102.8 660.1h0M90.2 655.1h0M92.3 656.3h0M86.2 659.0h0M82.0 659.0h0M81.7 652.5h0M73.6 656.4h0" stroke="#5a5a8a" stroke-width="1.5" stroke-linecap="round" fill="none"/>
<path d="M115.7 671.8h0M113.6 670.6h0M115.7 667.0h0M117.7 668.2h0M111.2 662.8h0M113.3 664.0h0M107.2 666.7h0M105.1 663.1h0M102.8 662.5h0M98.6 662.5h0M98.6 660.1h0M94.6 664.1h0M92.5 660.5h0M94.6 659.3h0M96.7 660.5h0M82.0 656.6h0M79.7 651.3h0M75.6 655.2h0M71.5 655.2h0M73.6 651.6h0M75.6 652.8h0" stroke="#444" stroke-width="1.5" stroke-linecap="round" fill="none"/>
<path d="M113.6 668.2h0M109.1 666.4h0M109.1 664.0h0M103.1 666.7h0M92.5 662.9h0M92.3 658.7h0M90.2 659.9h0M88.1 656.3h0M84.1 655.4h0M81.7 654.9h0M77.6 654.9h0M71.5 652.8h0" stroke="#c04848" stroke-width="1.5" stroke-linecap="round" fill="none"/>
<path d="M113.3 666.4h0M103.1 664.3h0M107.2 664.3h0M100.7 658.9h0M96.7 662.9h0M88.1 658.7h0M84.1 660.2h0M86.2 656.6h0M79.7 656.1h0M77.6 652.5h0" stroke="#555" stroke-width="1.5" stroke-linecap="round" fill="none"/>
<path d="M59.5,654.2 L58.1,656.1 L59.5,658.6 L59.4,658.8 L58.3,660.9 L59.4,663.6 L59.8,667.3 L58.9,667.3 L59.5,670.2 L56.9,671.1 L59.0,674.3" stroke="#aaa" stroke-width="0.4" fill="none"/>
<path d="M59.1,673.5 L60.2,675.6 L61.7,678.0" stroke="#aaa" stroke-width="0.4" fill="none"/>
<path d="M59.3,673.4 L57.6,675.7 L55.2,677.6" stroke="#aaa" stroke-width="0.4" fill="none"/>
<path d="M60.0,662.8 L56.3,663.3 L55.4,665.0 L53.7,666.3 L51.9,668.2" stroke="#aaa" stroke-width="0.4" fill="none"/>
<path d="M53.3,651.1 L53.3,648.8 L49.0,649.1 L49.1,650.6 L46.4,649.5 L42.5,652.1 L46.2,653.4 L41.2,654.0 L38.6,651.8 L36.0,653.1 L33.6,654.8" stroke="#aaa" stroke-width="0.4" fill="none"/>
<path d="M34.6,655.4 L33.2,656.8 L31.5,658.7" stroke="#aaa" stroke-width="0.4" fill="none"/>
<path d="M35.2,654.9 L32.2,654.2 L30.3,653.2" stroke="#aaa" stroke-width="0.4" fill="none"/>
<path d="M45.4,651.5 L43.6,650.5 L42.1,648.5 L39.5,648.4 L38.0,646.4" stroke="#aaa" stroke-width="0.4" fill="none"/>
<path d="M57.7,643.2 L53.4,641.0 L53.2,640.5 L53.8,637.2 L49.9,635.9 L53.5,635.0 L49.3,633.8 L48.2,632.8 L45.9,629.1 L48.0,629.0 L45.9,624.8" stroke="#aaa" stroke-width="0.4" fill="none"/>
<path d="M45.0,625.7 L42.8,625.0 L40.9,624.3" stroke="#aaa" stroke-width="0.4" fill="none"/>
<path d="M46.0,626.0 L45.5,623.6 L45.6,621.2" stroke="#aaa" stroke-width="0.4" fill="none"/>
<path d="M51.6,635.9 L51.8,633.4 L53.1,630.9 L53.9,628.4 L54.0,626.4" stroke="#aaa" stroke-width="0.4" fill="none"/>
<path d="M62.1,643.2 L63.1,641.7 L65.4,639.1 L66.5,636.7 L67.1,637.0 L68.9,634.2 L71.8,634.1 L72.4,630.4 L74.4,630.9 L73.5,628.2 L76.7,628.4" stroke="#aaa" stroke-width="0.4" fill="none"/>
<path d="M76.1,626.9 L75.9,625.1 L76.1,622.8" stroke="#aaa" stroke-width="0.4" fill="none"/>
<path d="M75.7,627.4 L78.1,626.2 L80.5,625.5" stroke="#aaa" stroke-width="0.4" fill="none"/>
<path d="M70.1,635.2 L71.3,636.8 L72.8,635.3 L76.3,636.1 L77.2,636.1" stroke="#aaa" stroke-width="0.4" fill="none"/>
<path d="M59.5 654.2h0M59.5 658.6h0M59.4 658.8h0M58.3 660.9h0M59.5 670.2h0M49.1 650.6h0M42.5 652.1h0M46.2 653.4h0M38.6 651.8h0M36.0 653.1h0M49.3 633.8h0M45.9 629.1h0M45.9 624.8h0M63.1 641.7h0M66.5 636.7h0M67.1 637.0h0M68.9 634.2h0M71.8 634.1h0M73.5 628.2h0M76.7 628.4h0" stroke="#e8c838" stroke-width="1.75" stroke-linecap="round" fill="none"/>
<path d="M58.1 656.1h0M59.8 667.3h0M59.0 674.3h0M33.6 654.8h0M53.4 641.0h0M49.9 635.9h0M48.2 632.8h0M62.1 643.2h0M65.4 639.1h0M74.4 630.9h0" stroke="#d84040" stroke-width="1.75" stroke-linecap="round" fill="none"/>
<path d="M59.4 663.6h0M58.9 667.3h0M56.9 671.1h0M53.3 651.1h0M53.3 648.8h0M49.0 649.1h0M46.4 649.5h0M53.2 640.5h0M53.8 637.2h0M53.5 635.0h0M72.4 630.4h0" stroke="#999" stroke-width="1.75" stroke-linecap="round" fill="none"/>
<path d="M59.1 673.5h0M57.6 675.7h0M55.2 677.6h0M31.5 658.7h0M35.2 654.9h0M32.2 654.2h0M30.3 653.2h0M40.9 624.3h0M46.0 626.0h0M45.5 623.6h0M45.6 621.2h0M75.7 627.4h0" stroke="#d04040" stroke-width="1.75" stroke-linecap="round" fill="none"/>
<path d="M60.2 675.6h0M61.7 678.0h0M59.3 673.4h0M34.6 655.4h0M33.2 656.8h0M45.0 625.7h0M42.8 625.0h0M76.1 626.9h0M75.9 625.1h0M76.1 622.8h0M78.1 626.2h0M80.5 625.5h0" stroke="#4a5ac0" stroke-width="1.75" stroke-linecap="round" fill="none"/>
<path d="M58.9 673.7h0M34.8 654.8h0M45.3 626.1h0M75.8 627.2h0" stroke="#4a4ab0" stroke-width="3.0" stroke-linecap="round" fill="none"/>
<path d="M60.0 662.8h0M51.9 668.2h0M38.0 646.4h0M53.1 630.9h0M53.9 628.4h0M72.8 635.3h0M76.3 636.1h0M77.2 636.1h0" stroke="#e8c838" stroke-width="1.5" stroke-linecap="round" fill="none"/>
<path d="M56.3 663.3h0M55.4 665.0h0M43.6 650.5h0M39.5 648.4h0M51.8 633.4h0M54.0 626.4h0M70.1 635.2h0" stroke="#999" stroke-width="1.5" stroke-linecap="round" fill="none"/>
<path d="M53.7 666.3h0M45.4 651.5h0M42.1 648.5h0M51.6 635.9h0M71.3 636.8h0" stroke="#d84040" stroke-width="1.5" stroke-linecap="round" fill="none"/>
<path d="M41.2 654.0h0M57.7 643.2h0M48.0 629.0h0" stroke="#e8b030" stroke-width="1.75" stroke-linecap="round" fill="none"/>
<circle cx="59.8" cy="647.7" r="6.3" fill="url(#tealb)"/>
<polygon points="137.5,666.7 135.4,667.9 133.3,666.7 133.3,664.3 135.4,663.1 137.5,664.3" fill="none" stroke="#6a6a7a" stroke-width="0.7"/>
<polygon points="143.5,666.1 141.4,667.3 139.4,666.1 139.4,663.7 141.4,662.5 143.5,663.7" fill="none" stroke="#6a6a7a" stroke-width="0.7"/>
<polygon points="147.2,661.2 145.1,662.4 143.1,661.2 143.1,658.8 145.1,657.6 147.2,658.8" fill="none" stroke="#6a6a7a" stroke-width="0.7"/>
<polygon points="153.3,660.6 151.2,661.8 149.1,660.6 149.1,658.2 151.2,657.0 153.3,658.2" fill="none" stroke="#6a6a7a" stroke-width="0.7"/>
<polygon points="157.0,655.7 154.9,656.9 152.8,655.7 152.8,653.3 154.9,652.1 157.0,653.3" fill="none" stroke="#6a6a7a" stroke-width="0.7"/>
<polygon points="163.0,655.1 161.0,656.3 158.9,655.1 158.9,652.7 161.0,651.5 163.0,652.7" fill="none" stroke="#6a6a7a" stroke-width="0.7"/>
<polygon points="166.7,650.2 164.7,651.4 162.6,650.2 162.6,647.8 164.7,646.6 166.7,647.8" fill="none" stroke="#6a6a7a" stroke-width="0.7"/>
<polygon points="172.8,649.6 170.7,650.8 168.6,649.6 168.6,647.2 170.7,646.0 172.8,647.2" fill="none" stroke="#6a6a7a" stroke-width="0.7"/>
<polygon points="176.5,644.7 174.4,645.9 172.3,644.7 172.3,642.3 174.4,641.1 176.5,642.3" fill="none" stroke="#6a6a7a" stroke-width="0.7"/>
<path d="M137.5 666.7h0M133.3 666.7h0M133.3 664.3h0M135.4 663.1h0M143.5 666.1h0M141.4 667.3h0M139.4 663.7h0M141.4 662.5h0M145.1 662.4h0M143.1 658.8h0M145.1 657.6h0M157.0 655.7h0M154.9 652.1h0M163.0 655.1h0M158.9 655.1h0M158.9 652.7h0M162.6 650.2h0M166.7 647.8h0M170.7 650.8h0M168.6 649.6h0M168.6 647.2h0M172.8 647.2h0M174.4 645.9h0M172.3 644.7h0" stroke="#444" stroke-width="1.5" stroke-linecap="round" fill="none"/>
<path d="M135.4 667.9h0M154.9 656.9h0M152.8 655.7h0M162.6 647.8h0M164.7 646.6h0M170.7 646.0h0M176.5 644.7h0M172.3 642.3h0" stroke="#c04848" stroke-width="1.5" stroke-linecap="round" fill="none"/>
<path d="M137.5 664.3h0M139.4 666.1h0M143.1 661.2h0M153.3 660.6h0M151.2 661.8h0M149.1 660.6h0M157.0 653.3h0M161.0 651.5h0M163.0 652.7h0M174.4 641.1h0" stroke="#5a5a8a" stroke-width="1.5" stroke-linecap="round" fill="none"/>
<path d="M143.5 663.7h0M147.2 661.2h0M147.2 658.8h0M149.1 658.2h0M151.2 657.0h0M153.3 658.2h0M152.8 653.3h0M161.0 656.3h0M166.7 650.2h0M164.7 651.4h0M172.8 649.6h0M176.5 642.3h0" stroke="#555" stroke-width="1.5" stroke-linecap="round" fill="none"/>
<path d="M181.3,636.4 L179.6,634.5 L177.7,631.6 L177.8,630.6 L176.4,628.8 L173.1,626.8 L172.1,626.4 L169.2,625.6 L168.7,624.6 L167.5,623.1 L165.5,620.5" stroke="#aaa" stroke-width="0.4" fill="none"/>
<path d="M165.8,621.3 L163.7,621.2 L161.5,620.5" stroke="#aaa" stroke-width="0.4" fill="none"/>
<path d="M166.0,621.1 L165.3,619.1 L164.7,616.1" stroke="#aaa" stroke-width="0.4" fill="none"/>
<path d="M174.6,627.6 L174.5,625.7 L175.4,623.1 L174.8,622.1 L174.9,619.7" stroke="#aaa" stroke-width="0.4" fill="none"/>
<path d="M187.5,631.7 L190.7,631.7 L188.9,628.1 L190.8,627.1 L191.8,625.3 L193.2,624.7 L193.4,620.9 L193.3,620.5 L195.3,619.1 L193.9,617.2 L195.9,613.6" stroke="#aaa" stroke-width="0.4" fill="none"/>
<path d="M196.5,614.6 L195.6,611.9 L195.7,610.0" stroke="#aaa" stroke-width="0.4" fill="none"/>
<path d="M195.8,615.3 L198.3,613.9 L200.5,612.6" stroke="#aaa" stroke-width="0.4" fill="none"/>
<path d="M192.3,625.0 L193.5,624.3 L195.6,624.1 L198.8,623.7 L200.6,623.1" stroke="#aaa" stroke-width="0.4" fill="none"/>
<path d="M190.7,640.6 L193.1,639.1 L195.5,639.5 L197.2,642.0 L199.9,640.8 L199.2,641.8 L204.0,640.6 L204.1,639.5 L206.4,641.1 L209.5,641.8 L211.5,641.8" stroke="#aaa" stroke-width="0.4" fill="none"/>
<path d="M211.3,641.7 L213.4,640.7 L215.6,640.0" stroke="#aaa" stroke-width="0.4" fill="none"/>
<path d="M211.0,641.8 L213.0,643.2 L214.5,644.5" stroke="#aaa" stroke-width="0.4" fill="none"/>
<path d="M200.9,640.5 L201.7,642.6 L202.7,643.7 L203.5,646.6 L205.0,647.4" stroke="#aaa" stroke-width="0.4" fill="none"/>
<path d="M187.2,644.6 L187.7,647.2 L186.8,649.3 L187.2,649.8 L186.7,652.6 L190.8,653.3 L188.3,657.1 L191.3,658.2 L190.1,659.9 L189.9,663.2 L190.2,665.2" stroke="#aaa" stroke-width="0.4" fill="none"/>
<path d="M190.6,664.1 L192.7,666.0 L194.5,667.1" stroke="#aaa" stroke-width="0.4" fill="none"/>
<path d="M190.4,663.8 L189.0,666.1 L188.8,668.7" stroke="#aaa" stroke-width="0.4" fill="none"/>
<path d="M189.6,653.6 L187.0,655.5 L184.8,655.9 L184.3,658.3 L183.5,660.7" stroke="#aaa" stroke-width="0.4" fill="none"/>
<path d="M181.3 636.4h0M179.6 634.5h0M177.8 630.6h0M173.1 626.8h0M169.2 625.6h0M168.7 624.6h0M187.5 631.7h0M188.9 628.1h0M190.8 627.1h0M193.3 620.5h0M195.3 619.1h0M195.9 613.6h0M190.7 640.6h0M193.1 639.1h0M199.2 641.8h0M204.0 640.6h0M187.2 649.8h0M188.3 657.1h0M190.1 659.9h0" stroke="#e8c838" stroke-width="1.75" stroke-linecap="round" fill="none"/>
<path d="M177.7 631.6h0M176.4 628.8h0M172.1 626.4h0M165.5 620.5h0M193.4 620.9h0M206.4 641.1h0M187.2 644.6h0M186.8 649.3h0M190.2 665.2h0" stroke="#e8b030" stroke-width="1.75" stroke-linecap="round" fill="none"/>
<path d="M167.5 623.1h0M195.5 639.5h0M197.2 642.0h0M209.5 641.8h0M187.7 647.2h0M190.8 653.3h0" stroke="#d84040" stroke-width="1.75" stroke-linecap="round" fill="none"/>
<path d="M165.8 621.3h0M163.7 621.2h0M161.5 620.5h0M166.0 621.1h0M165.3 619.1h0M164.7 616.1h0M196.5 614.6h0M195.6 611.9h0M195.7 610.0h0M213.4 640.7h0M215.6 640.0h0M214.5 644.5h0M190.6 664.1h0M192.7 666.0h0M190.4 663.8h0M189.0 666.1h0M188.8 668.7h0" stroke="#d04040" stroke-width="1.75" stroke-linecap="round" fill="none"/>
<path d="M166.2 621.1h0M196.2 615.1h0M211.2 641.7h0M190.6 664.2h0" stroke="#4a4ab0" stroke-width="3.0" stroke-linecap="round" fill="none"/>
<path d="M174.6 627.6h0M174.5 625.7h0M175.4 623.1h0M174.8 622.1h0M192.3 625.0h0M200.6 623.1h0M187.0 655.5h0M183.5 660.7h0" stroke="#e8c838" stroke-width="1.5" stroke-linecap="round" fill="none"/>
<path d="M174.9 619.7h0M193.5 624.3h0M195.6 624.1h0M201.7 642.6h0M202.7 643.7h0M205.0 647.4h0M189.6 653.6h0M184.3 658.3h0" stroke="#999" stroke-width="1.5" stroke-linecap="round" fill="none"/>
<path d="M190.7 631.7h0M191.8 625.3h0M193.2 624.7h0M193.9 617.2h0M199.9 640.8h0M204.1 639.5h0M211.5 641.8h0M186.7 652.6h0M191.3 658.2h0M189.9 663.2h0" stroke="#999" stroke-width="1.75" stroke-linecap="round" fill="none"/>
<path d="M195.8 615.3h0M198.3 613.9h0M200.5 612.6h0M211.3 641.7h0M211.0 641.8h0M213.0 643.2h0M194.5 667.1h0" stroke="#4a5ac0" stroke-width="1.75" stroke-linecap="round" fill="none"/>
<path d="M198.8 623.7h0M200.9 640.5h0M203.5 646.6h0M184.8 655.9h0" stroke="#d84040" stroke-width="1.5" stroke-linecap="round" fill="none"/>
<circle cx="185.4" cy="638.7" r="6.3" fill="url(#tealb)"/>
<polygon points="119.1,679.0 117.0,680.2 114.9,679.0 114.9,676.6 117.0,675.4 119.1,676.6" fill="none" stroke="#6a6a7a" stroke-width="0.7"/>
<polygon points="113.0,679.3 110.9,680.5 108.8,679.3 108.8,676.9 110.9,675.7 113.0,676.9" fill="none" stroke="#6a6a7a" stroke-width="0.7"/>
<polygon points="109.0,683.8 106.9,685.0 104.8,683.8 104.8,681.4 106.9,680.2 109.0,681.4" fill="none" stroke="#6a6a7a" stroke-width="0.7"/>
<polygon points="102.9,684.1 100.8,685.3 98.7,684.1 98.7,681.7 100.8,680.5 102.9,681.7" fill="none" stroke="#6a6a7a" stroke-width="0.7"/>
<polygon points="98.8,688.7 96.8,689.9 94.7,688.7 94.7,686.3 96.8,685.1 98.8,686.3" fill="none" stroke="#6a6a7a" stroke-width="0.7"/>
<polygon points="92.8,688.9 90.7,690.1 88.6,688.9 88.6,686.5 90.7,685.3 92.8,686.5" fill="none" stroke="#6a6a7a" stroke-width="0.7"/>
<polygon points="88.7,693.5 86.7,694.7 84.6,693.5 84.6,691.1 86.7,689.9 88.7,691.1" fill="none" stroke="#6a6a7a" stroke-width="0.7"/>
<polygon points="82.6,693.7 80.6,694.9 78.5,693.7 78.5,691.3 80.6,690.1 82.6,691.3" fill="none" stroke="#6a6a7a" stroke-width="0.7"/>
<polygon points="78.6,698.3 76.5,699.5 74.5,698.3 74.5,695.9 76.5,694.7 78.6,695.9" fill="none" stroke="#6a6a7a" stroke-width="0.7"/>
<path d="M119.1 679.0h0M109.0 683.8h0M100.8 685.3h0M96.8 685.1h0M98.8 686.3h0M88.6 688.9h0M90.7 685.3h0M88.7 693.5h0M86.7 694.7h0M84.6 691.1h0M76.5 699.5h0M76.5 694.7h0" stroke="#c04848" stroke-width="1.5" stroke-linecap="round" fill="none"/>
<path d="M117.0 680.2h0M110.9 680.5h0M108.8 679.3h0M113.0 676.9h0M106.9 685.0h0M104.8 683.8h0M104.8 681.4h0M98.7 684.1h0M98.7 681.7h0M102.9 681.7h0M98.8 688.7h0M96.8 689.9h0M90.7 690.1h0M88.6 686.5h0M92.8 686.5h0M84.6 693.5h0M86.7 689.9h0M88.7 691.1h0M80.6 694.9h0M78.5 691.3h0M80.6 690.1h0M82.6 691.3h0M74.5 698.3h0M74.5 695.9h0" stroke="#444" stroke-width="1.5" stroke-linecap="round" fill="none"/>
<path d="M114.9 679.0h0M114.9 676.6h0M106.9 680.2h0M102.9 684.1h0M94.7 688.7h0M94.7 686.3h0M78.6 698.3h0M78.6 695.9h0" stroke="#555" stroke-width="1.5" stroke-linecap="round" fill="none"/>
<path d="M117.0 675.4h0M119.1 676.6h0M113.0 679.3h0M108.8 676.9h0M110.9 675.7h0M109.0 681.4h0M100.8 680.5h0M92.8 688.9h0M82.6 693.7h0M78.5 693.7h0" stroke="#5a5a8a" stroke-width="1.5" stroke-linecap="round" fill="none"/>
<path d="M67.8,705.5 L72.1,707.3 L72.8,708.7 L72.6,710.9 L74.1,712.2 L73.2,712.5 L77.6,713.9 L77.9,716.2 L81.4,718.9 L81.5,719.4 L81.3,720.1" stroke="#aaa" stroke-width="0.4" fill="none"/>
<path d="M82.4,720.8 L84.5,720.8 L87.3,721.0" stroke="#aaa" stroke-width="0.4" fill="none"/>
<path d="M82.8,720.3 L82.6,723.2 L82.8,725.8" stroke="#aaa" stroke-width="0.4" fill="none"/>
<path d="M74.5,712.7 L73.9,713.8 L73.8,717.7 L73.9,719.4 L72.9,721.5" stroke="#aaa" stroke-width="0.4" fill="none"/>
<path d="M60.9,706.9 L58.6,708.2 L59.4,710.6 L60.1,712.9 L58.1,712.8 L57.0,715.9 L55.9,718.4 L56.0,719.3 L53.4,722.2 L52.7,722.3 L52.2,724.4" stroke="#aaa" stroke-width="0.4" fill="none"/>
<path d="M51.8,724.3 L51.6,726.8 L52.5,729.3" stroke="#aaa" stroke-width="0.4" fill="none"/>
<path d="M52.5,724.2 L49.9,726.0 L48.1,726.8" stroke="#aaa" stroke-width="0.4" fill="none"/>
<path d="M58.0,715.9 L54.3,715.1 L52.0,715.9 L50.8,715.5 L47.5,716.8" stroke="#aaa" stroke-width="0.4" fill="none"/>
<path d="M57.8,698.6 L56.6,699.7 L53.9,700.7 L54.5,699.8 L51.8,696.7 L50.2,697.7 L46.2,699.7 L44.7,697.9 L45.3,698.9 L42.5,698.4 L38.2,697.4" stroke="#aaa" stroke-width="0.4" fill="none"/>
<path d="M39.0,696.6 L35.9,698.6 L34.5,698.8" stroke="#aaa" stroke-width="0.4" fill="none"/>
<path d="M39.1,697.3 L37.3,694.7 L35.2,693.1" stroke="#aaa" stroke-width="0.4" fill="none"/>
<path d="M50.2,699.0 L48.1,696.7 L47.2,695.2 L46.9,693.2 L44.8,690.8" stroke="#aaa" stroke-width="0.4" fill="none"/>
<path d="M62.8,695.8 L62.5,691.8 L64.8,691.4 L64.0,689.4 L59.8,688.6 L62.0,685.4 L62.8,682.7 L62.3,681.0 L60.5,678.8 L59.6,676.4 L59.7,676.7" stroke="#aaa" stroke-width="0.4" fill="none"/>
<path d="M61.2,675.6 L59.0,673.5 L57.8,671.8" stroke="#aaa" stroke-width="0.4" fill="none"/>
<path d="M61.0,676.1 L62.1,674.1 L63.7,671.8" stroke="#aaa" stroke-width="0.4" fill="none"/>
<path d="M63.1,686.3 L64.1,684.7 L64.9,683.8 L67.4,681.8 L69.0,679.7" stroke="#aaa" stroke-width="0.4" fill="none"/>
<path d="M67.8 705.5h0M77.6 713.9h0M60.9 706.9h0M58.6 708.2h0M59.4 710.6h0M55.9 718.4h0M57.8 698.6h0M51.8 696.7h0M50.2 697.7h0M44.7 697.9h0M62.0 685.4h0M59.6 676.4h0" stroke="#d84040" stroke-width="1.75" stroke-linecap="round" fill="none"/>
<path d="M72.1 707.3h0M72.8 708.7h0M72.6 710.9h0M74.1 712.2h0M73.2 712.5h0M81.4 718.9h0M81.5 719.4h0M81.3 720.1h0M60.1 712.9h0M58.1 712.8h0M56.0 719.3h0M52.2 724.4h0M54.5 699.8h0M42.5 698.4h0M38.2 697.4h0M62.8 695.8h0M62.5 691.8h0M64.8 691.4h0M59.8 688.6h0M62.3 681.0h0M60.5 678.8h0" stroke="#e8c838" stroke-width="1.75" stroke-linecap="round" fill="none"/>
<path d="M77.9 716.2h0M56.6 699.7h0M62.8 682.7h0M59.7 676.7h0" stroke="#e8b030" stroke-width="1.75" stroke-linecap="round" fill="none"/>
<path d="M82.4 720.8h0M84.5 720.8h0M82.8 725.8h0M51.6 726.8h0M52.5 729.3h0M49.9 726.0h0M48.1 726.8h0M39.0 696.6h0M35.2 693.1h0M59.0 673.5h0M61.0 676.1h0M62.1 674.1h0" stroke="#d04040" stroke-width="1.75" stroke-linecap="round" fill="none"/>
<path d="M87.3 721.0h0M82.8 720.3h0M82.6 723.2h0M51.8 724.3h0M52.5 724.2h0M35.9 698.6h0M34.5 698.8h0M39.1 697.3h0M37.3 694.7h0M61.2 675.6h0M57.8 671.8h0M63.7 671.8h0" stroke="#4a5ac0" stroke-width="1.75" stroke-linecap="round" fill="none"/>
<path d="M82.2 720.5h0M51.9 724.4h0M38.7 696.9h0M60.9 675.8h0" stroke="#4a4ab0" stroke-width="3.0" stroke-linecap="round" fill="none"/>
<path d="M74.5 712.7h0M73.9 713.8h0M73.9 719.4h0M54.3 715.1h0M50.8 715.5h0M47.5 716.8h0M50.2 699.0h0M47.2 695.2h0M67.4 681.8h0M69.0 679.7h0" stroke="#e8c838" stroke-width="1.5" stroke-linecap="round" fill="none"/>
<path d="M73.8 717.7h0M58.0 715.9h0M52.0 715.9h0M46.9 693.2h0M63.1 686.3h0M64.1 684.7h0" stroke="#d84040" stroke-width="1.5" stroke-linecap="round" fill="none"/>
<path d="M72.9 721.5h0M48.1 696.7h0M44.8 690.8h0M64.9 683.8h0" stroke="#999" stroke-width="1.5" stroke-linecap="round" fill="none"/>
<path d="M57.0 715.9h0M53.4 722.2h0M52.7 722.3h0M53.9 700.7h0M46.2 699.7h0M45.3 698.9h0M64.0 689.4h0" stroke="#999" stroke-width="1.75" stroke-linecap="round" fill="none"/>
<circle cx="64.3" cy="701.6" r="6.3" fill="url(#tealb)"/>
<polygon points="138.3,678.4 136.2,679.6 134.1,678.4 134.1,676.0 136.2,674.8 138.3,676.0" fill="none" stroke="#6a6a7a" stroke-width="0.7"/>
<polygon points="141.5,683.5 139.5,684.7 137.4,683.5 137.4,681.1 139.5,679.9 141.5,681.1" fill="none" stroke="#6a6a7a" stroke-width="0.7"/>
<polygon points="147.5,684.7 145.4,685.9 143.4,684.7 143.4,682.3 145.4,681.1 147.5,682.3" fill="none" stroke="#6a6a7a" stroke-width="0.7"/>
<polygon points="150.8,689.8 148.7,691.0 146.7,689.8 146.7,687.4 148.7,686.2 150.8,687.4" fill="none" stroke="#6a6a7a" stroke-width="0.7"/>
<polygon points="156.8,691.0 154.7,692.2 152.6,691.0 152.6,688.6 154.7,687.4 156.8,688.6" fill="none" stroke="#6a6a7a" stroke-width="0.7"/>
<polygon points="160.1,696.1 158.0,697.3 155.9,696.1 155.9,693.7 158.0,692.5 160.1,693.7" fill="none" stroke="#6a6a7a" stroke-width="0.7"/>
<polygon points="166.1,697.2 164.0,698.4 161.9,697.2 161.9,694.8 164.0,693.6 166.1,694.8" fill="none" stroke="#6a6a7a" stroke-width="0.7"/>
<polygon points="169.3,702.4 167.3,703.6 165.2,702.4 165.2,700.0 167.3,698.8 169.3,700.0" fill="none" stroke="#6a6a7a" stroke-width="0.7"/>
<path d="M138.3 678.4h0M134.1 676.0h0M136.2 674.8h0M145.4 685.9h0M145.4 681.1h0M146.7 687.4h0M148.7 686.2h0M156.8 688.6h0M155.9 693.7h0M165.2 700.0h0" stroke="#5a5a8a" stroke-width="1.5" stroke-linecap="round" fill="none"/>
<path d="M136.2 679.6h0M139.5 684.7h0M137.4 683.5h0M143.4 684.7h0M143.4 682.3h0M150.8 689.8h0M148.7 691.0h0M150.8 687.4h0M156.8 691.0h0M154.7 692.2h0M152.6 688.6h0M154.7 687.4h0M155.9 696.1h0M160.1 693.7h0M166.1 697.2h0M161.9 694.8h0M164.0 693.6h0M166.1 694.8h0M169.3 702.4h0M165.2 702.4h0M169.3 700.0h0" stroke="#444" stroke-width="1.5" stroke-linecap="round" fill="none"/>
<path d="M134.1 678.4h0M138.3 676.0h0M141.5 683.5h0M147.5 684.7h0M152.6 691.0h0M164.0 698.4h0M161.9 697.2h0" stroke="#555" stroke-width="1.5" stroke-linecap="round" fill="none"/>
<path d="M137.4 681.1h0M139.5 679.9h0M141.5 681.1h0M147.5 682.3h0M146.7 689.8h0M160.1 696.1h0M158.0 697.3h0M158.0 692.5h0M167.3 703.6h0M167.3 698.8h0" stroke="#c04848" stroke-width="1.5" stroke-linecap="round" fill="none"/>
<path d="M183.5,701.7 L182.3,700.0 L182.6,700.1 L183.1,698.5 L185.3,694.9 L185.2,693.1 L186.4,692.0 L186.1,690.7 L185.3,689.2 L189.4,686.5 L188.1,684.8" stroke="#aaa" stroke-width="0.4" fill="none"/>
<path d="M188.3,684.2 L187.1,681.5 L185.8,679.4" stroke="#aaa" stroke-width="0.4" fill="none"/>
<path d="M188.3,683.3 L190.7,682.3 L191.9,681.1" stroke="#aaa" stroke-width="0.4" fill="none"/>
<path d="M185.5,694.4 L186.1,694.1 L189.2,692.5 L190.5,692.5 L194.2,691.4" stroke="#aaa" stroke-width="0.4" fill="none"/>
<path d="M188.0,710.4 L188.8,709.0 L190.1,708.8 L193.2,708.0 L195.5,709.1 L195.6,708.8 L199.8,708.1 L201.2,707.9 L200.7,708.4 L205.5,706.9 L209.9,710.0" stroke="#aaa" stroke-width="0.4" fill="none"/>
<path d="M207.1,708.6 L209.2,706.9 L210.4,705.2" stroke="#aaa" stroke-width="0.4" fill="none"/>
<path d="M206.9,707.7 L208.7,709.4 L211.2,710.6" stroke="#aaa" stroke-width="0.4" fill="none"/>
<path d="M195.8,708.5 L197.6,710.4 L198.2,711.2 L201.2,712.9 L200.9,714.9" stroke="#aaa" stroke-width="0.4" fill="none"/>
<path d="M183.3,714.1 L183.7,714.5 L184.5,718.1 L185.9,720.1 L184.9,722.7 L186.5,725.6 L188.4,725.6 L186.2,728.7 L187.3,730.7 L190.0,731.6 L189.6,733.9" stroke="#aaa" stroke-width="0.4" fill="none"/>
<path d="M189.7,733.0 L191.1,734.5 L193.7,736.9" stroke="#aaa" stroke-width="0.4" fill="none"/>
<path d="M190.2,733.1 L189.1,735.9 L188.4,738.5" stroke="#aaa" stroke-width="0.4" fill="none"/>
<path d="M185.3,723.0 L185.1,724.4 L182.7,726.6 L182.0,728.2 L181.9,730.8" stroke="#aaa" stroke-width="0.4" fill="none"/>
<path d="M174.9,712.0 L175.1,713.5 L173.4,714.4 L171.9,715.2 L169.0,716.4 L167.9,717.3 L167.6,721.3 L166.7,721.6 L163.7,722.5 L161.4,723.1 L160.9,725.3" stroke="#aaa" stroke-width="0.4" fill="none"/>
<path d="M160.6,725.1 L159.3,727.7 L158.5,729.9" stroke="#aaa" stroke-width="0.4" fill="none"/>
<path d="M160.8,724.7 L157.2,725.1 L155.2,725.9" stroke="#aaa" stroke-width="0.4" fill="none"/>
<path d="M169.3,718.3 L165.8,717.1 L164.2,717.7 L163.1,716.2 L160.3,716.4" stroke="#aaa" stroke-width="0.4" fill="none"/>
<path d="M183.5 701.7h0M182.3 700.0h0M182.6 700.1h0M189.4 686.5h0M188.8 709.0h0M190.1 708.8h0M201.2 707.9h0M205.5 706.9h0M184.9 722.7h0M174.9 712.0h0M163.7 722.5h0" stroke="#d84040" stroke-width="1.75" stroke-linecap="round" fill="none"/>
<path d="M183.1 698.5h0M185.3 694.9h0M185.2 693.1h0M186.4 692.0h0M186.1 690.7h0M185.3 689.2h0M193.2 708.0h0M195.6 708.8h0M199.8 708.1h0M200.7 708.4h0M183.7 714.5h0M184.5 718.1h0M185.9 720.1h0M186.5 725.6h0M173.4 714.4h0M171.9 715.2h0M167.9 717.3h0M167.6 721.3h0M160.9 725.3h0" stroke="#e8c838" stroke-width="1.75" stroke-linecap="round" fill="none"/>
<path d="M188.1 684.8h0M195.5 709.1h0M188.4 725.6h0M186.2 728.7h0M187.3 730.7h0" stroke="#e8b030" stroke-width="1.75" stroke-linecap="round" fill="none"/>
<path d="M188.3 684.2h0M191.9 681.1h0M207.1 708.6h0M209.2 706.9h0M210.4 705.2h0M211.2 710.6h0M191.1 734.5h0M190.2 733.1h0M188.4 738.5h0M160.6 725.1h0M160.8 724.7h0M157.2 725.1h0M155.2 725.9h0" stroke="#4a5ac0" stroke-width="1.75" stroke-linecap="round" fill="none"/>
<path d="M187.1 681.5h0M185.8 679.4h0M188.3 683.3h0M190.7 682.3h0M206.9 707.7h0M208.7 709.4h0M189.7 733.0h0M193.7 736.9h0M189.1 735.9h0M159.3 727.7h0M158.5 729.9h0" stroke="#d04040" stroke-width="1.75" stroke-linecap="round" fill="none"/>
<path d="M188.0 683.9h0M206.8 708.1h0M189.6 733.4h0M160.3 724.9h0" stroke="#4a4ab0" stroke-width="3.0" stroke-linecap="round" fill="none"/>
<path d="M185.5 694.4h0M189.2 692.5h0M195.8 708.5h0M198.2 711.2h0M165.8 717.1h0" stroke="#e8c838" stroke-width="1.5" stroke-linecap="round" fill="none"/>
<path d="M186.1 694.1h0M190.5 692.5h0M194.2 691.4h0M197.6 710.4h0M182.7 726.6h0M182.0 728.2h0M181.9 730.8h0M163.1 716.2h0" stroke="#d84040" stroke-width="1.5" stroke-linecap="round" fill="none"/>
<path d="M188.0 710.4h0M209.9 710.0h0M183.3 714.1h0M190.0 731.6h0M189.6 733.9h0M175.1 713.5h0M169.0 716.4h0M166.7 721.6h0M161.4 723.1h0" stroke="#999" stroke-width="1.75" stroke-linecap="round" fill="none"/>
<path d="M201.2 712.9h0M200.9 714.9h0M185.3 723.0h0M185.1 724.4h0M169.3 718.3h0M164.2 717.7h0M160.3 716.4h0" stroke="#999" stroke-width="1.5" stroke-linecap="round" fill="none"/>
<circle cx="180.8" cy="708.9" r="6.3" fill="url(#tealb)"/>
<polygon points="129.7,684.2 127.6,685.4 125.5,684.2 125.5,681.8 127.6,680.6 129.7,681.8" fill="none" stroke="#6a6a7a" stroke-width="0.7"/>
<polygon points="127.3,689.8 125.2,691.0 123.1,689.8 123.1,687.4 125.2,686.2 127.3,687.4" fill="none" stroke="#6a6a7a" stroke-width="0.7"/>
<polygon points="129.7,695.4 127.6,696.6 125.5,695.4 125.5,693.0 127.6,691.8 129.7,693.0" fill="none" stroke="#6a6a7a" stroke-width="0.7"/>
<polygon points="127.3,701.0 125.2,702.2 123.1,701.0 123.1,698.6 125.2,697.4 127.3,698.6" fill="none" stroke="#6a6a7a" stroke-width="0.7"/>
<polygon points="129.7,706.6 127.6,707.8 125.5,706.6 125.5,704.2 127.6,703.0 129.7,704.2" fill="none" stroke="#6a6a7a" stroke-width="0.7"/>
<polygon points="127.3,712.2 125.2,713.4 123.1,712.2 123.1,709.8 125.2,708.6 127.3,709.8" fill="none" stroke="#6a6a7a" stroke-width="0.7"/>
<polygon points="129.7,717.8 127.6,719.0 125.5,717.8 125.5,715.4 127.6,714.2 129.7,715.4" fill="none" stroke="#6a6a7a" stroke-width="0.7"/>
<path d="M129.7 684.2h0M125.5 681.8h0M123.1 689.8h0M129.7 695.4h0M125.5 695.4h0M123.1 698.6h0M125.2 697.4h0M127.6 707.8h0M125.5 706.6h0M127.6 703.0h0M125.2 713.4h0M127.6 714.2h0" stroke="#c04848" stroke-width="1.5" stroke-linecap="round" fill="none"/>
<path d="M127.6 685.4h0M127.6 691.8h0M129.7 693.0h0M125.2 702.2h0M129.7 706.6h0M123.1 712.2h0M123.1 709.8h0M129.7 717.8h0M125.5 715.4h0M129.7 715.4h0" stroke="#555" stroke-width="1.5" stroke-linecap="round" fill="none"/>
<path d="M125.5 684.2h0M127.6 680.6h0M129.7 681.8h0M123.1 687.4h0M123.1 701.0h0M125.5 704.2h0M129.7 704.2h0M127.3 709.8h0" stroke="#5a5a8a" stroke-width="1.5" stroke-linecap="round" fill="none"/>
<path d="M127.3 689.8h0M125.2 691.0h0M125.2 686.2h0M127.3 687.4h0M127.6 696.6h0M125.5 693.0h0M127.3 701.0h0M127.3 698.6h0M127.3 712.2h0M125.2 708.6h0M127.6 719.0h0M125.5 717.8h0" stroke="#444" stroke-width="1.5" stroke-linecap="round" fill="none"/>
<path d="M132.1,731.8 L135.5,729.6 L137.8,729.3 L138.4,728.6 L138.8,727.7 L141.9,727.0 L143.7,728.6 L147.3,726.6 L147.6,726.0 L148.0,725.2 L151.1,724.1" stroke="#aaa" stroke-width="0.4" fill="none"/>
<path d="M151.6,724.1 L152.5,722.7 L154.0,720.7" stroke="#aaa" stroke-width="0.4" fill="none"/>
<path d="M150.9,724.6 L153.7,724.9 L155.4,726.6" stroke="#aaa" stroke-width="0.4" fill="none"/>
<path d="M141.0,728.8 L141.7,729.4 L144.8,731.1 L145.2,731.1 L147.8,733.0" stroke="#aaa" stroke-width="0.4" fill="none"/>
<path d="M129.6,736.5 L131.8,739.6 L131.3,740.0 L133.4,742.2 L133.6,744.0 L137.3,744.4 L137.8,746.4 L138.0,747.2 L140.1,749.7 L140.1,750.8 L141.0,753.9" stroke="#aaa" stroke-width="0.4" fill="none"/>
<path d="M141.8,753.7 L144.7,754.1 L146.4,755.7" stroke="#aaa" stroke-width="0.4" fill="none"/>
<path d="M141.3,753.6 L142.0,756.3 L142.0,758.8" stroke="#aaa" stroke-width="0.4" fill="none"/>
<path d="M134.7,744.3 L135.5,746.3 L133.1,748.8 L133.6,750.6 L132.3,753.8" stroke="#aaa" stroke-width="0.4" fill="none"/>
<path d="M123.8,737.5 L120.5,737.1 L119.3,742.4 L119.7,742.9 L117.8,742.5 L116.6,745.8 L115.1,746.9 L116.7,747.0 L112.7,749.1 L112.6,752.2 L110.3,754.0" stroke="#aaa" stroke-width="0.4" fill="none"/>
<path d="M111.3,753.5 L110.8,755.8 L110.6,758.6" stroke="#aaa" stroke-width="0.4" fill="none"/>
<path d="M110.7,754.1 L108.4,754.2 L105.9,755.2" stroke="#aaa" stroke-width="0.4" fill="none"/>
<path d="M117.2,744.7 L115.5,744.8 L113.1,744.7 L110.7,744.8 L108.9,745.5" stroke="#aaa" stroke-width="0.4" fill="none"/>
<path d="M119.3,730.6 L119.8,730.3 L116.7,729.4 L113.8,728.7 L112.9,727.7 L111.8,726.2 L109.1,727.1 L108.1,725.1 L108.2,725.6 L103.5,726.5 L99.9,724.6" stroke="#aaa" stroke-width="0.4" fill="none"/>
<path d="M101.3,724.4 L99.3,725.3 L96.6,726.3" stroke="#aaa" stroke-width="0.4" fill="none"/>
<path d="M102.1,725.5 L99.9,722.9 L98.6,720.7" stroke="#aaa" stroke-width="0.4" fill="none"/>
<path d="M112.1,727.4 L112.0,725.9 L110.7,723.5 L108.8,721.2 L108.7,718.4" stroke="#aaa" stroke-width="0.4" fill="none"/>
<path d="M132.1 731.8h0M135.5 729.6h0M138.8 727.7h0M147.6 726.0h0M148.0 725.2h0M129.6 736.5h0M131.3 740.0h0M138.0 747.2h0M140.1 749.7h0M140.1 750.8h0M141.0 753.9h0M119.7 742.9h0M115.1 746.9h0M112.7 749.1h0M119.8 730.3h0M116.7 729.4h0M113.8 728.7h0M111.8 726.2h0" stroke="#e8c838" stroke-width="1.75" stroke-linecap="round" fill="none"/>
<path d="M137.8 729.3h0M141.9 727.0h0M131.8 739.6h0M123.8 737.5h0M117.8 742.5h0M110.3 754.0h0M108.2 725.6h0" stroke="#999" stroke-width="1.75" stroke-linecap="round" fill="none"/>
<path d="M138.4 728.6h0M151.1 724.1h0M133.6 744.0h0M137.3 744.4h0M137.8 746.4h0M120.5 737.1h0M119.3 730.6h0M108.1 725.1h0" stroke="#d84040" stroke-width="1.75" stroke-linecap="round" fill="none"/>
<path d="M143.7 728.6h0M147.3 726.6h0M133.4 742.2h0M119.3 742.4h0M116.6 745.8h0M116.7 747.0h0M112.6 752.2h0M112.9 727.7h0M109.1 727.1h0M103.5 726.5h0M99.9 724.6h0" stroke="#e8b030" stroke-width="1.75" stroke-linecap="round" fill="none"/>
<path d="M151.6 724.1h0M154.0 720.7h0M153.7 724.9h0M144.7 754.1h0M146.4 755.7h0M142.0 758.8h0M111.3 753.5h0M110.6 758.6h0M110.7 754.1h0M105.9 755.2h0M101.3 724.4h0M96.6 726.3h0M102.1 725.5h0M98.6 720.7h0" stroke="#4a5ac0" stroke-width="1.75" stroke-linecap="round" fill="none"/>
<path d="M152.5 722.7h0M150.9 724.6h0M155.4 726.6h0M141.8 753.7h0M141.3 753.6h0M142.0 756.3h0M110.8 755.8h0M108.4 754.2h0M99.3 725.3h0M99.9 722.9h0" stroke="#d04040" stroke-width="1.75" stroke-linecap="round" fill="none"/>
<path d="M151.1 724.5h0M141.7 753.5h0M111.1 753.5h0M101.7 724.5h0" stroke="#4a4ab0" stroke-width="3.0" stroke-linecap="round" fill="none"/>
<path d="M141.0 728.8h0M144.8 731.1h0M147.8 733.0h0M135.5 746.3h0M113.1 744.7h0M112.0 725.9h0M108.8 721.2h0" stroke="#e8c838" stroke-width="1.5" stroke-linecap="round" fill="none"/>
<path d="M141.7 729.4h0M145.2 731.1h0M117.2 744.7h0M115.5 744.8h0M108.7 718.4h0" stroke="#d84040" stroke-width="1.5" stroke-linecap="round" fill="none"/>
<path d="M134.7 744.3h0M133.1 748.8h0M133.6 750.6h0M132.3 753.8h0M110.7 744.8h0M108.9 745.5h0M112.1 727.4h0M110.7 723.5h0" stroke="#999" stroke-width="1.5" stroke-linecap="round" fill="none"/>
<circle cx="126.4" cy="732.5" r="6.3" fill="url(#tealb)"/>
<rect x="111.4" y="664" width="30" height="16" rx="8" fill="#e4e4e4" stroke="#c8c8c8" stroke-width="0.5" transform="rotate(-18 126.4 672)"/>
<rect x="112.4" y="673" width="28" height="6" rx="3" fill="#bcbcbc" opacity="0.6" transform="rotate(-18 126.4 672)"/>
<circle cx="124" cy="668" r="0.9" fill="#d04040"/>
<circle cx="132" cy="667" r="0.9" fill="#d04040"/>
<circle cx="128" cy="674" r="0.9" fill="#d04040"/>
<circle cx="118" cy="676" r="0.9" fill="#d04040"/>
<text x="78" y="642" font-size="7.4" fill="#3a3aa8" font-weight="normal" text-anchor="start" font-family='"Liberation Serif", serif'  style="font-style:italic">‘Quencher’</text>
<rect x="218" y="568" width="78" height="76" fill="#b4b4b4"/>
<rect x="218" y="568" width="78" height="76" filter="url(#temn)" opacity="0.3"/>
<g filter="url(#blur05)">
<ellipse cx="237.6" cy="573.1" rx="5" ry="3.4" fill="#2a2a2a" stroke="#555" stroke-width="1.8" stroke-dasharray="0.9 0.9" transform="rotate(-20 237.6 573.1)"/>
<ellipse cx="228" cy="599" rx="5" ry="3.4" fill="#2a2a2a" stroke="#555" stroke-width="1.8" stroke-dasharray="0.9 0.9" transform="rotate(75 228 599)"/>
<ellipse cx="269.4" cy="605.5" rx="5" ry="3.4" fill="#333" stroke="#555" stroke-width="1.8" stroke-dasharray="0.9 0.9" transform="rotate(-40 269.4 605.5)"/>
<ellipse cx="262.2" cy="632.4" rx="5" ry="3.4" fill="#3a3a3a" stroke="#555" stroke-width="1.8" stroke-dasharray="0.9 0.9" transform="rotate(-10 262.2 632.4)"/>
<ellipse cx="225.4" cy="638.2" rx="5" ry="3.4" fill="#222" stroke="#555" stroke-width="1.8" stroke-dasharray="0.9 0.9" transform="rotate(60 225.4 638.2)"/>
<ellipse cx="288.2" cy="581.8" rx="5" ry="3.4" fill="#666" stroke="#555" stroke-width="1.8" stroke-dasharray="0.9 0.9" transform="rotate(0 288.2 581.8)"/>
</g>
<rect x="261.3" y="598.6" width="16.2" height="14.4" fill="none" stroke="#222" stroke-width="0.6"/>
<text x="284" y="639.5" font-size="7" fill="#111" font-weight="normal" text-anchor="middle" font-family='"Liberation Sans", sans-serif'  style="">50 nm</text>
<line x1="276" y1="641.8" x2="292" y2="641.8" stroke="#111" stroke-width="1"/>
<path d="M261.3,606 L250.6,606 L250.6,682" stroke="#333" stroke-width="0.6" stroke-dasharray="1 1" fill="none"/>
<polygon points="250.6,685 249.1,681.5 252.1,681.5" fill="#333"/>
<rect x="218" y="686.5" width="78.3" height="79.4" fill="#acacac"/>
<rect x="218" y="686.5" width="78.3" height="79.4" filter="url(#temn)" opacity="0.3"/>
<g clip-path="url(#ctem2)"><g filter="url(#blur1)">
<ellipse cx="256" cy="724" rx="26" ry="22" fill="#c4c4c4" opacity="0.6"/>
<circle cx="238" cy="713" r="3.8" fill="#5c5c5c"/>
<circle cx="236" cy="732" r="3.8" fill="#5c5c5c"/>
<circle cx="244" cy="744" r="3.8" fill="#5c5c5c"/>
<circle cx="270" cy="700" r="3.8" fill="#5c5c5c"/>
<circle cx="283" cy="709" r="3.8" fill="#5c5c5c"/>
<circle cx="287" cy="725" r="3.8" fill="#5c5c5c"/>
<circle cx="276" cy="741" r="3.8" fill="#5c5c5c"/>
<circle cx="252" cy="701" r="3.8" fill="#5c5c5c"/>
<circle cx="260" cy="752" r="3.8" fill="#5c5c5c"/>
<circle cx="228" cy="722" r="3.8" fill="#5c5c5c"/>
<rect x="235" y="710" width="44" height="27" rx="11" fill="#454545" transform="rotate(-40 257 723.5)"/>
<rect x="241" y="714" width="32" height="18" rx="8" fill="#383838" transform="rotate(-40 257 723)"/>
</g></g>
<text x="282.7" y="759" font-size="7" fill="#111" font-weight="normal" text-anchor="middle" font-family='"Liberation Sans", sans-serif'  style="">10 nm</text>
<line x1="278" y1="762.2" x2="292.2" y2="762.2" stroke="#111" stroke-width="1"/>
<rect x="407" y="486.3" width="87" height="67.19999999999999" rx="6" fill="none" stroke="#444" stroke-width="0.8" stroke-dasharray="1.5 1.5"/>
<rect x="523.3" y="486.4" width="99.5" height="67.30000000000007" rx="6" fill="none" stroke="#444" stroke-width="0.8" stroke-dasharray="1.5 1.5"/>
<text x="429" y="498" font-size="7" fill="#3ab08a" font-weight="normal" text-anchor="start" font-family='"Liberation Sans", sans-serif'  style="">FRET</text>
<path d="M450,509 Q440,495 426,508" stroke="#3ab08a" stroke-width="0.9" fill="none"/>
<polygon points="423,512 424,505 429,508" fill="#3ab08a"/>
<text x="457" y="506.8" font-size="6.4" fill="#d83050" font-weight="normal" text-anchor="start" font-family='"Liberation Sans", sans-serif'  style="">Deactivation</text>
<path d="M424,520.5 Q424.8,523.7 427.4,520.5 Q428.2,517.3 430.8,520.5 Q431.6,523.7 434.1,520.5 Q435.0,517.3 437.5,520.5 Q438.3,523.7 440.9,520.5 Q441.7,517.3 444.2,520.5 Q445.1,523.7 447.6,520.5 Q448.5,517.3 451.0,520.5" stroke="#2a2a90" stroke-width="1.15" fill="none"/>
<circle cx="420" cy="520.8" r="5" fill="#1a5a5a"/>
<text x="420" y="522.8" font-size="4.2" fill="#cfe" font-weight="normal" text-anchor="middle" font-family='"Liberation Sans", sans-serif'  style="">CP</text>
<ellipse cx="460" cy="518.6" rx="15" ry="10" fill="url(#pinkhalo)" transform="rotate(-20 460 518.6)"/>
<rect x="448" y="512.6" width="24" height="12" rx="6" fill="url(#dcnrg)" transform="rotate(-20 460 518.6)"/>
<text x="0" y="0" transform="translate(460,520.5) rotate(-20)" font-size="5.2" fill="#fff" font-weight="bold" text-anchor="middle" font-family='"Liberation Sans", sans-serif'>DCNR</text>
<path d="M425,530 L447,530 M425,528 L425,532 M447,528 L447,532" stroke="#999" stroke-width="0.6" stroke-dasharray="1 1"/>
<text x="426" y="539.5" font-size="6.6" fill="#222" font-weight="normal" text-anchor="start" font-family='"Liberation Sans", sans-serif'  style="">&lt;10 nm</text>
<text x="450.2" y="549" font-size="6.6" fill="#222" font-weight="normal" text-anchor="middle" font-family='"Liberation Sans", sans-serif'  style="">Self-assembly NIR-II quench</text>
<text x="502.6" y="521.3" font-size="7.4" fill="#3a3ab0" font-weight="normal" text-anchor="start" font-family='"Liberation Sans", sans-serif'  style="">GSH</text>
<line x1="500" y1="524.5" x2="519" y2="524.5" stroke="#555" stroke-width="0.7"/>
<line x1="500" y1="526.5" x2="519" y2="526.5" stroke="#555" stroke-width="0.7"/>
<path d="M518,523 L521.5,525.5 L518,528" stroke="#555" stroke-width="0.7" fill="none"/>
<text x="496" y="539" font-size="7" fill="#222" font-weight="normal" text-anchor="start" font-family='"Liberation Sans", sans-serif'  style="">Turn on</text>
<text x="548.8" y="496.2" font-size="6.8" fill="#aaa" font-weight="normal" text-anchor="start" font-family='"Liberation Sans", sans-serif'  style="">FRET</text>
<path d="M536,512 Q560,492 585,510" stroke="#888" stroke-width="0.7" fill="none"/>
<path d="M556,499 l4,4 M560,499 l-4,4" stroke="#888" stroke-width="0.7"/>
<text x="585.8" y="498" font-size="7.6" fill="#d83050" font-weight="normal" text-anchor="start" font-family='"Liberation Sans", sans-serif'  style="">Activation</text>
<ellipse cx="597.6" cy="519.2" rx="24" ry="19" fill="url(#redglow)"/>
<rect x="584.6" y="512.7" width="24" height="12" rx="6" fill="url(#dcnrg)" transform="rotate(-15 596.6 518.7)"/>
<text x="0" y="0" transform="translate(596.6,520.6) rotate(-15)" font-size="5.2" fill="#fff" font-weight="bold" text-anchor="middle" font-family='"Liberation Sans", sans-serif'>DCNR</text>
<circle cx="533.7" cy="516.7" r="5" fill="#1a5a5a"/>
<text x="533.7" y="518.7" font-size="4.2" fill="#cfe" font-weight="normal" text-anchor="middle" font-family='"Liberation Sans", sans-serif'  style="">CP</text>
<path d="M538,517 Q538.8,519.5 541.0,517 Q541.8,514.5 544.0,517 Q544.8,519.5 547.0,517 Q547.8,514.5 550.0,517 Q550.8,519.5 553.0,517" stroke="#2a2a90" stroke-width="1.15" fill="none"/>
<path d="M566,517 Q566.8,519.5 569.0,517 Q569.8,514.5 572.0,517 Q572.8,519.5 575.0,517 Q575.8,514.5 578.0,517 Q578.8,519.5 581.0,517 Q581.8,514.5 584.0,517" stroke="#2a2a90" stroke-width="1.15" fill="none"/>
<path d="M556,515 L560,525 M562,515 L556,525" stroke="#111" stroke-width="1.4"/>
<circle cx="555" cy="527" r="1.8" fill="none" stroke="#111" stroke-width="0.9"/><circle cx="560" cy="528" r="1.8" fill="none" stroke="#111" stroke-width="0.9"/>
<path d="M537,533 L583,533 M537,531 L537,535 M583,531 L583,535" stroke="#999" stroke-width="0.6"/>
<text x="551.4" y="541.9" font-size="6.6" fill="#222" font-weight="normal" text-anchor="start" font-family='"Liberation Sans", sans-serif'  style="">&gt;10 nm</text>
<text x="533.7" y="550.7" font-size="7.0" fill="#222" font-weight="normal" text-anchor="start" font-family='"Liberation Sans", sans-serif'  style="">Linker cleavage</text>
<path d="M596,531 l3,5 l-2,0 l3,5" stroke="#d83050" stroke-width="0.8" fill="none"/>
<text x="594.6" y="548" font-size="5.6" fill="#d83050" font-weight="normal" text-anchor="start" font-family='"Liberation Sans", sans-serif'  style="">NIR-II</text>
<line x1="509" y1="556" x2="509" y2="575" stroke="#555" stroke-width="0.7"/>
<line x1="511" y1="556" x2="511" y2="575" stroke="#555" stroke-width="0.7"/>
<path d="M507.5,574 L510,578 L512.5,574" stroke="#555" stroke-width="0.7" fill="none"/>
<rect x="408" y="589.3" width="214.5" height="82.0" rx="6" fill="none" stroke="#444" stroke-width="0.8" stroke-dasharray="1.5 1.5"/>
<rect x="408" y="693" width="214.5" height="77.5" rx="6" fill="none" stroke="#444" stroke-width="0.8" stroke-dasharray="1.5 1.5"/>
<rect x="417.4" y="606" width="45.60000000000002" height="33" fill="#b8bcc0" rx="1"/>
<rect x="418.59999999999997" y="607.2" width="43.200000000000024" height="31" fill="#06061a"/>
<rect x="418.59999999999997" y="607.2" width="43.200000000000024" height="31" fill="url(#scr417606)"/>
<rect x="429.712" y="611.28" width="5.472000000000002" height="14.85" rx="1" fill="#3a5ab0" filter="url(#blur05)"/>
<path d="M431.08,629.76 L448.408,630.42" stroke="#4a6ac0" stroke-width="3" stroke-linecap="round" filter="url(#blur05)"/>
<rect x="444.76" y="610.62" width="12.768000000000008" height="11.879999999999999" fill="#2a3a9a" stroke="#ddd" stroke-width="0.6"/>
<ellipse cx="451.144" cy="616.56" rx="3.2" ry="2" fill="#40c040"/>
<rect x="429.256" y="625.8" width="9.120000000000005" height="8.58" fill="none" stroke="#ddd" stroke-width="0.6"/>
<circle cx="433.35999999999996" cy="630.09" r="1" fill="#40c040"/>
<path d="M416.4,639 L464,639 L468,646 L412.4,646 Z" fill="#9aa4aa"/>
<path d="M420.4,641 L460,641 L462,644 L418.4,644 Z" fill="#2a3034"/>
<rect x="412.4" y="646" width="55.60000000000002" height="2.5" fill="#5a6468"/>
<rect x="563.8" y="606" width="46.700000000000045" height="33" fill="#b8bcc0" rx="1"/>
<rect x="565.0" y="607.2" width="44.30000000000005" height="31" fill="#06061a"/>
<rect x="565.0" y="607.2" width="44.30000000000005" height="31" fill="url(#scr563606)"/>
<rect x="576.409" y="611.28" width="5.604000000000005" height="14.85" rx="1" fill="#3a5ab0" filter="url(#blur05)"/>
<path d="M577.81,629.76 L595.556,630.42" stroke="#4a6ac0" stroke-width="3" stroke-linecap="round" filter="url(#blur05)"/>
<rect x="591.8199999999999" y="610.62" width="13.076000000000015" height="11.879999999999999" fill="#2a3a9a" stroke="#ddd" stroke-width="0.6"/>
<ellipse cx="598.358" cy="616.56" rx="5" ry="3.8" fill="#f0e020"/><ellipse cx="598.358" cy="616.56" rx="3.5" ry="2.5" fill="#e02020"/>
<rect x="575.942" y="625.8" width="9.340000000000009" height="8.58" fill="none" stroke="#ddd" stroke-width="0.6"/>
<circle cx="580.145" cy="630.09" r="1" fill="#e0d020"/>
<path d="M562.8,639 L611.5,639 L615.5,646 L558.8,646 Z" fill="#9aa4aa"/>
<path d="M566.8,641 L607.5,641 L609.5,644 L564.8,644 Z" fill="#2a3034"/>
<rect x="558.8" y="646" width="56.700000000000045" height="2.5" fill="#5a6468"/>
<text x="429" y="602" font-size="7.2" fill="#222" font-weight="normal" text-anchor="start" font-family='"Liberation Sans", sans-serif'  style="">Mild RA</text>
<text x="569.8" y="602" font-size="7.5" fill="#222" font-weight="normal" text-anchor="start" font-family='"Liberation Sans", sans-serif'  style="">Severe RA</text>
<text x="515" y="617" font-size="7.4" fill="#3a3ab0" font-weight="normal" text-anchor="middle" font-family='"Liberation Sans", sans-serif'  style="">ITD nanoplatforms</text>
<line x1="473" y1="626.2" x2="555" y2="626.2" stroke="#333" stroke-width="0.7"/>
<line x1="473" y1="628.6" x2="555" y2="628.6" stroke="#333" stroke-width="0.7"/>
<path d="M476,623.5 L472,627.4 L476,631.3 M554,623.5 L558,627.4 L554,631.3" stroke="#333" stroke-width="0.7" fill="none"/>
<text x="512.4" y="645.5" font-size="7.4" fill="#3a3ab0" font-weight="normal" text-anchor="middle" font-family='"Liberation Sans", sans-serif'  style="">Significantly distinguished</text>
<text x="517.6" y="667" font-size="7.5" fill="#3a3ab0" font-weight="normal" text-anchor="middle" font-family='"Liberation Sans", sans-serif'  style="">Local Dynamic&#160;&#160;Dependent Imaging (LDDI)</text>
<text x="515.7" y="685" font-size="7.6" fill="#d83040" font-weight="normal" text-anchor="middle" font-family='"Liberation Sans", sans-serif'  style="font-style:italic">VS</text>
<rect x="421.5" y="710.2" width="48.19999999999999" height="37.799999999999955" fill="#b8bcc0" rx="1"/>
<rect x="422.7" y="711.4000000000001" width="45.79999999999999" height="35.799999999999955" fill="#06061a"/>
<rect x="422.7" y="711.4000000000001" width="45.79999999999999" height="35.799999999999955" fill="url(#scr421710)"/>
<rect x="434.514" y="716.248" width="5.783999999999998" height="17.00999999999998" rx="1" fill="#3a5ab0" filter="url(#blur05)"/>
<path d="M435.96,737.416 L454.276,738.172" stroke="#4a6ac0" stroke-width="3" stroke-linecap="round" filter="url(#blur05)"/>
<rect x="450.42" y="715.4920000000001" width="13.495999999999999" height="13.607999999999983" fill="#2a3a9a" stroke="#ddd" stroke-width="0.6"/>
<ellipse cx="457.168" cy="722.296" rx="3.8" ry="2.8" fill="#e0d020"/><ellipse cx="457.168" cy="722.296" rx="2.4" ry="1.7" fill="#e05010"/>
<rect x="434.032" y="732.88" width="9.639999999999999" height="9.827999999999989" fill="none" stroke="#ddd" stroke-width="0.6"/>
<circle cx="438.37" cy="737.794" r="1" fill="#e0d020"/>
<path d="M420.5,748 L470.7,748 L474.7,755 L416.5,755 Z" fill="#9aa4aa"/>
<path d="M424.5,750 L466.7,750 L468.7,753 L422.5,753 Z" fill="#2a3034"/>
<rect x="416.5" y="755" width="58.19999999999999" height="2.5" fill="#5a6468"/>
<rect x="565.3" y="710.2" width="48.90000000000009" height="37.799999999999955" fill="#b8bcc0" rx="1"/>
<rect x="566.5" y="711.4000000000001" width="46.50000000000009" height="35.799999999999955" fill="#06061a"/>
<rect x="566.5" y="711.4000000000001" width="46.50000000000009" height="35.799999999999955" fill="url(#scr565710)"/>
<rect x="578.5029999999999" y="716.248" width="5.868000000000011" height="17.00999999999998" rx="1" fill="#3a5ab0" filter="url(#blur05)"/>
<path d="M579.97,737.416 L598.552,738.172" stroke="#4a6ac0" stroke-width="3" stroke-linecap="round" filter="url(#blur05)"/>
<rect x="594.64" y="715.4920000000001" width="13.692000000000027" height="13.607999999999983" fill="#2a3a9a" stroke="#ddd" stroke-width="0.6"/>
<ellipse cx="601.486" cy="722.296" rx="3.8" ry="2.8" fill="#e0d020"/><ellipse cx="601.486" cy="722.296" rx="2.4" ry="1.7" fill="#e05010"/>
<rect x="578.014" y="732.88" width="9.780000000000019" height="9.827999999999989" fill="none" stroke="#ddd" stroke-width="0.6"/>
<circle cx="582.415" cy="737.794" r="1" fill="#e0d020"/>
<path d="M564.3,748 L615.2,748 L619.2,755 L560.3,755 Z" fill="#9aa4aa"/>
<path d="M568.3,750 L611.2,750 L613.2,753 L566.3,753 Z" fill="#2a3034"/>
<rect x="560.3" y="755" width="58.90000000000009" height="2.5" fill="#5a6468"/>
<text x="432.6" y="704.3" font-size="7.2" fill="#222" font-weight="normal" text-anchor="start" font-family='"Liberation Sans", sans-serif'  style="">Mild RA</text>
<text x="569.8" y="704.3" font-size="7.5" fill="#222" font-weight="normal" text-anchor="start" font-family='"Liberation Sans", sans-serif'  style="">Severe RA</text>
<text x="513" y="721" font-size="7.4" fill="#222" font-weight="normal" text-anchor="middle" font-family='"Liberation Sans", sans-serif'  style="">Imaging agents</text>
<line x1="476" y1="725.8" x2="551" y2="725.8" stroke="#333" stroke-width="0.7"/>
<line x1="476" y1="728.2" x2="551" y2="728.2" stroke="#333" stroke-width="0.7"/>
<path d="M550,723 L554,727 L550,731" stroke="#333" stroke-width="0.7" fill="none"/>
<text x="513" y="740" font-size="7.4" fill="#222" font-weight="normal" text-anchor="middle" font-family='"Liberation Sans", sans-serif'  style="">No difference</text>
<text x="516" y="766.5" font-size="7.4" fill="#222" font-weight="normal" text-anchor="middle" font-family='"Liberation Sans", sans-serif'  style="">Traditional imaging</text>
</svg>
</body></html>
